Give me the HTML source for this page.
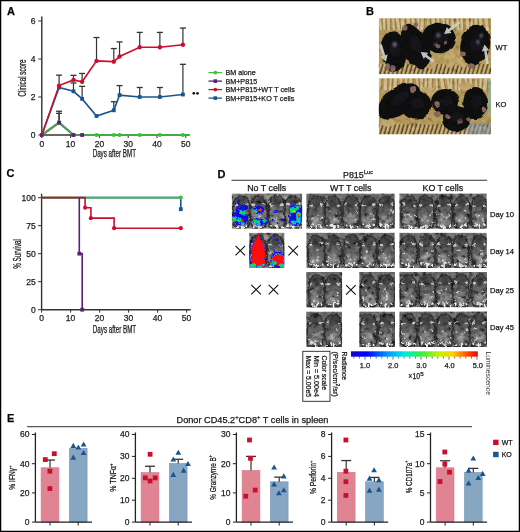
<!DOCTYPE html>
<html><head><meta charset="utf-8"><style>
html,body{margin:0;padding:0;background:#fff;}
body{width:520px;height:532px;overflow:hidden;}
svg{display:block;will-change:transform;}
text{font-family:"Liberation Sans",sans-serif;stroke:#222;stroke-width:0.25px;}
</style></head><body>
<svg width="520" height="532" viewBox="0 0 520 532" font-family="Liberation Sans, sans-serif">
<defs>
<filter id="blur1" x="-20%" y="-20%" width="140%" height="140%"><feGaussianBlur stdDeviation="1"/></filter>
<filter id="noise" x="0" y="0" width="100%" height="100%"><feTurbulence type="fractalNoise" baseFrequency="0.22" numOctaves="2" seed="4"/><feColorMatrix type="matrix" values="0.9 0.9 0.9 0 -0.9  0.9 0.9 0.9 0 -0.9  0.9 0.9 0.9 0 -0.9  0 0 0 0 1"/></filter>
<filter id="blur07" x="-20%" y="-20%" width="140%" height="140%"><feGaussianBlur stdDeviation="0.7"/></filter>
<filter id="blur15" x="-30%" y="-30%" width="160%" height="160%"><feGaussianBlur stdDeviation="1.5"/></filter>
<filter id="blur03" x="-30%" y="-30%" width="160%" height="160%"><feGaussianBlur stdDeviation="0.3"/></filter>
<filter id="wobble" x="-5%" y="-5%" width="110%" height="110%"><feTurbulence type="turbulence" baseFrequency="0.18" numOctaves="2" seed="7" result="t"/><feDisplacementMap in="SourceGraphic" in2="t" scale="3.5" xChannelSelector="R" yChannelSelector="G"/><feGaussianBlur stdDeviation="0.35"/></filter>
<filter id="wobble2" x="-5%" y="-5%" width="110%" height="110%"><feTurbulence type="turbulence" baseFrequency="0.25" numOctaves="2" seed="11" result="t"/><feDisplacementMap in="SourceGraphic" in2="t" scale="3" xChannelSelector="R" yChannelSelector="G"/><feGaussianBlur stdDeviation="0.3"/></filter>
<filter id="wobbleB" x="-5%" y="-5%" width="110%" height="110%"><feTurbulence type="fractalNoise" baseFrequency="0.09" numOctaves="2" seed="5" result="t"/><feDisplacementMap in="SourceGraphic" in2="t" scale="4" xChannelSelector="R" yChannelSelector="G"/><feGaussianBlur stdDeviation="0.6"/></filter>
<filter id="blur05" x="-20%" y="-20%" width="140%" height="140%"><feGaussianBlur stdDeviation="0.5"/></filter>
</defs>
<rect x="0" y="0" width="520" height="532" fill="#fff"/>
<text x="7" y="14.8" font-size="11" text-anchor="start" font-weight="bold" fill="#000" >A</text>
<line x1="41.8" y1="16.5" x2="41.8" y2="135.0" stroke="#333" stroke-width="1.4"/>
<line x1="41.8" y1="135.0" x2="189.832" y2="135.0" stroke="#333" stroke-width="1.4"/>
<line x1="38.3" y1="135.0" x2="41.8" y2="135.0" stroke="#333" stroke-width="1"/>
<text x="35.5" y="137.9" font-size="8.5" text-anchor="end" font-weight="normal" fill="#222" >0</text>
<line x1="38.3" y1="97.0" x2="41.8" y2="97.0" stroke="#333" stroke-width="1"/>
<text x="35.5" y="99.9" font-size="8.5" text-anchor="end" font-weight="normal" fill="#222" >2</text>
<line x1="38.3" y1="59.0" x2="41.8" y2="59.0" stroke="#333" stroke-width="1"/>
<text x="35.5" y="61.9" font-size="8.5" text-anchor="end" font-weight="normal" fill="#222" >4</text>
<line x1="38.3" y1="21.0" x2="41.8" y2="21.0" stroke="#333" stroke-width="1"/>
<text x="35.5" y="23.9" font-size="8.5" text-anchor="end" font-weight="normal" fill="#222" >6</text>
<line x1="41.8" y1="135.0" x2="41.8" y2="138.0" stroke="#333" stroke-width="1"/>
<text x="41.8" y="146.8" font-size="8.5" text-anchor="middle" font-weight="normal" fill="#222" >0</text>
<line x1="70.6" y1="135.0" x2="70.6" y2="138.0" stroke="#333" stroke-width="1"/>
<text x="70.6" y="146.8" font-size="8.5" text-anchor="middle" font-weight="normal" fill="#222" >10</text>
<line x1="99.39999999999999" y1="135.0" x2="99.39999999999999" y2="138.0" stroke="#333" stroke-width="1"/>
<text x="99.39999999999999" y="146.8" font-size="8.5" text-anchor="middle" font-weight="normal" fill="#222" >20</text>
<line x1="128.2" y1="135.0" x2="128.2" y2="138.0" stroke="#333" stroke-width="1"/>
<text x="128.2" y="146.8" font-size="8.5" text-anchor="middle" font-weight="normal" fill="#222" >30</text>
<line x1="157.0" y1="135.0" x2="157.0" y2="138.0" stroke="#333" stroke-width="1"/>
<text x="157.0" y="146.8" font-size="8.5" text-anchor="middle" font-weight="normal" fill="#222" >40</text>
<line x1="185.8" y1="135.0" x2="185.8" y2="138.0" stroke="#333" stroke-width="1"/>
<text x="185.8" y="146.8" font-size="8.5" text-anchor="middle" font-weight="normal" fill="#222" >50</text>
<text x="114.3" y="156.7" font-size="10" text-anchor="middle" font-weight="normal" fill="#111" textLength="43.3" lengthAdjust="spacingAndGlyphs" >Days after BMT</text>
<g transform="translate(26.2,78) rotate(-90)"><text x="0" y="0" font-size="10" text-anchor="middle" font-weight="normal" fill="#111" textLength="37" lengthAdjust="spacingAndGlyphs" >Clinical score</text></g>
<line x1="59.08" y1="85.6" x2="59.08" y2="75.15" stroke="#333" stroke-width="1.2"/><line x1="56.08" y1="75.15" x2="62.08" y2="75.15" stroke="#333" stroke-width="1.3"/>
<line x1="73.47999999999999" y1="79.9" x2="73.47999999999999" y2="75.34" stroke="#333" stroke-width="1.2"/><line x1="70.47999999999999" y1="75.34" x2="76.47999999999999" y2="75.34" stroke="#333" stroke-width="1.3"/>
<line x1="82.12" y1="81.80000000000001" x2="82.12" y2="73.44" stroke="#333" stroke-width="1.2"/><line x1="79.12" y1="73.44" x2="85.12" y2="73.44" stroke="#333" stroke-width="1.3"/>
<line x1="96.52" y1="60.900000000000006" x2="96.52" y2="37.53" stroke="#333" stroke-width="1.2"/><line x1="93.52" y1="37.53" x2="99.52" y2="37.53" stroke="#333" stroke-width="1.3"/>
<line x1="113.8" y1="61.66" x2="113.8" y2="48.55" stroke="#333" stroke-width="1.2"/><line x1="110.8" y1="48.55" x2="116.8" y2="48.55" stroke="#333" stroke-width="1.3"/>
<line x1="119.55999999999999" y1="56.53" x2="119.55999999999999" y2="41.89999999999999" stroke="#333" stroke-width="1.2"/><line x1="116.55999999999999" y1="41.89999999999999" x2="122.55999999999999" y2="41.89999999999999" stroke="#333" stroke-width="1.3"/>
<line x1="139.72" y1="47.22" x2="139.72" y2="32.39999999999999" stroke="#333" stroke-width="1.2"/><line x1="136.72" y1="32.39999999999999" x2="142.72" y2="32.39999999999999" stroke="#333" stroke-width="1.3"/>
<line x1="159.88" y1="47.22" x2="159.88" y2="32.39999999999999" stroke="#333" stroke-width="1.2"/><line x1="156.88" y1="32.39999999999999" x2="162.88" y2="32.39999999999999" stroke="#333" stroke-width="1.3"/>
<line x1="182.92000000000002" y1="44.75" x2="182.92000000000002" y2="28.03" stroke="#333" stroke-width="1.2"/><line x1="179.92000000000002" y1="28.03" x2="185.92000000000002" y2="28.03" stroke="#333" stroke-width="1.3"/>
<line x1="73.47999999999999" y1="91.30000000000001" x2="73.47999999999999" y2="82.94" stroke="#333" stroke-width="1.2"/><line x1="70.47999999999999" y1="82.94" x2="76.47999999999999" y2="82.94" stroke="#333" stroke-width="1.3"/>
<line x1="82.12" y1="98.9" x2="82.12" y2="86.36" stroke="#333" stroke-width="1.2"/><line x1="79.12" y1="86.36" x2="85.12" y2="86.36" stroke="#333" stroke-width="1.3"/>
<line x1="113.8" y1="110.3" x2="113.8" y2="101.75" stroke="#333" stroke-width="1.2"/><line x1="110.8" y1="101.75" x2="116.8" y2="101.75" stroke="#333" stroke-width="1.3"/>
<line x1="119.55999999999999" y1="95.1" x2="119.55999999999999" y2="85.6" stroke="#333" stroke-width="1.2"/><line x1="116.55999999999999" y1="85.6" x2="122.55999999999999" y2="85.6" stroke="#333" stroke-width="1.3"/>
<line x1="139.72" y1="97.0" x2="139.72" y2="87.5" stroke="#333" stroke-width="1.2"/><line x1="136.72" y1="87.5" x2="142.72" y2="87.5" stroke="#333" stroke-width="1.3"/>
<line x1="159.88" y1="97.0" x2="159.88" y2="87.5" stroke="#333" stroke-width="1.2"/><line x1="156.88" y1="87.5" x2="162.88" y2="87.5" stroke="#333" stroke-width="1.3"/>
<line x1="182.92000000000002" y1="94.53" x2="182.92000000000002" y2="64.32" stroke="#333" stroke-width="1.2"/><line x1="179.92000000000002" y1="64.32" x2="185.92000000000002" y2="64.32" stroke="#333" stroke-width="1.3"/>
<line x1="59.08" y1="122.65" x2="59.08" y2="111.25" stroke="#333" stroke-width="1.2"/><line x1="56.08" y1="111.25" x2="62.08" y2="111.25" stroke="#333" stroke-width="1.3"/>
<line x1="59.08" y1="122.65" x2="59.08" y2="113.34" stroke="#333" stroke-width="1.2"/><line x1="56.08" y1="113.34" x2="62.08" y2="113.34" stroke="#333" stroke-width="1.3"/>
<polyline points="41.80,135.00 59.08,122.65 73.48,135.00 82.12,135.00" fill="none" stroke="#5b1f7a" stroke-width="2.2" stroke-opacity="0.9"/>
<polyline points="41.80,135.00 59.08,122.65 73.48,135.00 96.52,135.00 113.80,135.00 119.56,135.00 139.72,135.00 159.88,135.00 182.92,135.00 190.12,135.0" fill="none" stroke="#3cc03c" stroke-width="1.6"/>
<circle cx="41.80" cy="135.00" r="2.1" fill="#3cc03c"/>
<circle cx="59.08" cy="122.65" r="2.1" fill="#3cc03c"/>
<circle cx="73.48" cy="135.00" r="2.1" fill="#3cc03c"/>
<circle cx="96.52" cy="135.00" r="2.1" fill="#3cc03c"/>
<circle cx="113.80" cy="135.00" r="2.1" fill="#3cc03c"/>
<circle cx="119.56" cy="135.00" r="2.1" fill="#3cc03c"/>
<circle cx="139.72" cy="135.00" r="2.1" fill="#3cc03c"/>
<circle cx="159.88" cy="135.00" r="2.1" fill="#3cc03c"/>
<circle cx="182.92" cy="135.00" r="2.1" fill="#3cc03c"/>
<rect x="39.90" y="133.10" width="3.8" height="3.8" fill="#5b1f7a"/>
<rect x="57.18" y="120.75" width="3.8" height="3.8" fill="#5b1f7a"/>
<rect x="71.58" y="133.10" width="3.8" height="3.8" fill="#5b1f7a"/>
<rect x="80.22" y="133.10" width="3.8" height="3.8" fill="#5b1f7a"/>
<polyline points="41.80,135.00 59.08,87.50 73.48,91.30 82.12,98.90 96.52,116.00 113.80,110.30 119.56,95.10 139.72,97.00 159.88,97.00 182.92,94.53" fill="none" stroke="#1a5592" stroke-width="1.6"/>
<rect x="57.18" y="85.60" width="3.8" height="3.8" fill="#1a5592"/>
<rect x="71.58" y="89.40" width="3.8" height="3.8" fill="#1a5592"/>
<rect x="80.22" y="97.00" width="3.8" height="3.8" fill="#1a5592"/>
<rect x="94.62" y="114.10" width="3.8" height="3.8" fill="#1a5592"/>
<rect x="111.90" y="108.40" width="3.8" height="3.8" fill="#1a5592"/>
<rect x="117.66" y="93.20" width="3.8" height="3.8" fill="#1a5592"/>
<rect x="137.82" y="95.10" width="3.8" height="3.8" fill="#1a5592"/>
<rect x="157.98" y="95.10" width="3.8" height="3.8" fill="#1a5592"/>
<rect x="181.02" y="92.63" width="3.8" height="3.8" fill="#1a5592"/>
<polyline points="41.80,135.00 59.08,85.60 73.48,79.90 82.12,81.80 96.52,60.90 113.80,61.66 119.56,56.53 139.72,47.22 159.88,47.22 182.92,44.75" fill="none" stroke="#c8102e" stroke-width="1.6"/>
<circle cx="59.08" cy="85.60" r="2.2" fill="#c8102e"/>
<circle cx="73.48" cy="79.90" r="2.2" fill="#c8102e"/>
<circle cx="82.12" cy="81.80" r="2.2" fill="#c8102e"/>
<circle cx="96.52" cy="60.90" r="2.2" fill="#c8102e"/>
<circle cx="113.80" cy="61.66" r="2.2" fill="#c8102e"/>
<circle cx="119.56" cy="56.53" r="2.2" fill="#c8102e"/>
<circle cx="139.72" cy="47.22" r="2.2" fill="#c8102e"/>
<circle cx="159.88" cy="47.22" r="2.2" fill="#c8102e"/>
<circle cx="182.92" cy="44.75" r="2.2" fill="#c8102e"/>
<circle cx="193.8" cy="93.3" r="1.35" fill="#111"/><circle cx="197.5" cy="93.3" r="1.35" fill="#111"/>
<line x1="208.5" y1="72.6" x2="222" y2="72.6" stroke="#3cc03c" stroke-width="1.3"/>
<circle cx="215.3" cy="72.6" r="1.9" fill="#3cc03c"/>
<text x="225.4" y="75.0" font-size="7.2" text-anchor="start" font-weight="normal" fill="#222" >BM alone</text>
<line x1="208.5" y1="81.1" x2="222" y2="81.1" stroke="#5b1f7a" stroke-width="1.3"/>
<rect x="213.5" y="79.3" width="3.6" height="3.6" fill="#5b1f7a"/>
<text x="225.4" y="83.5" font-size="7.2" text-anchor="start" font-weight="normal" fill="#222" >BM+P815</text>
<line x1="208.5" y1="89.6" x2="222" y2="89.6" stroke="#c8102e" stroke-width="1.3"/>
<circle cx="215.3" cy="89.6" r="1.9" fill="#c8102e"/>
<text x="225.4" y="92.0" font-size="7.2" text-anchor="start" font-weight="normal" fill="#222" >BM+P815+WT T cells</text>
<line x1="208.5" y1="98.1" x2="222" y2="98.1" stroke="#1a5592" stroke-width="1.3"/>
<rect x="213.5" y="96.3" width="3.6" height="3.6" fill="#1a5592"/>
<text x="225.4" y="100.5" font-size="7.2" text-anchor="start" font-weight="normal" fill="#222" >BM+P815+KO T cells</text>
<text x="366" y="14.8" font-size="11" text-anchor="start" font-weight="bold" fill="#000" >B</text>
<clipPath id="cb1"><rect x="378.8" y="18.2" width="112.19999999999999" height="56.0"/></clipPath>
<g clip-path="url(#cb1)">
<rect x="378.8" y="18.2" width="112.19999999999999" height="56.0" fill="#a98c52"/>
<rect x="378.8" y="18.2" width="112.19999999999999" height="13" fill="#ad8f55"/>
<g filter="url(#blur05)">
<line x1="379.8" y1="18.2" x2="380.9" y2="30.2" stroke="#d4c092" stroke-width="2.1" opacity="0.8"/>
<line x1="381.7" y1="18.2" x2="382.9" y2="30.2" stroke="#5a4628" stroke-width="0.9" opacity="0.5"/>
<line x1="384.0" y1="18.2" x2="384.4" y2="30.2" stroke="#d4c092" stroke-width="2.1" opacity="0.8"/>
<line x1="385.9" y1="18.2" x2="386.4" y2="30.2" stroke="#5a4628" stroke-width="0.9" opacity="0.5"/>
<line x1="388.5" y1="18.2" x2="388.8" y2="30.2" stroke="#d4c092" stroke-width="2.5" opacity="0.8"/>
<line x1="390.6" y1="18.2" x2="390.9" y2="30.2" stroke="#5a4628" stroke-width="0.9" opacity="0.5"/>
<line x1="393.0" y1="18.2" x2="394.2" y2="30.2" stroke="#d4c092" stroke-width="2.2" opacity="0.8"/>
<line x1="394.9" y1="18.2" x2="396.2" y2="30.2" stroke="#5a4628" stroke-width="0.9" opacity="0.5"/>
<line x1="397.2" y1="18.2" x2="398.9" y2="30.2" stroke="#d4c092" stroke-width="2.7" opacity="0.8"/>
<line x1="399.5" y1="18.2" x2="401.1" y2="30.2" stroke="#5a4628" stroke-width="0.9" opacity="0.5"/>
<line x1="403.0" y1="18.2" x2="402.4" y2="30.2" stroke="#d4c092" stroke-width="3.1" opacity="0.8"/>
<line x1="405.4" y1="18.2" x2="404.9" y2="30.2" stroke="#5a4628" stroke-width="0.9" opacity="0.5"/>
<line x1="408.1" y1="18.2" x2="408.9" y2="30.2" stroke="#d4c092" stroke-width="2.8" opacity="0.8"/>
<line x1="410.4" y1="18.2" x2="411.2" y2="30.2" stroke="#5a4628" stroke-width="0.9" opacity="0.5"/>
<line x1="412.8" y1="18.2" x2="414.8" y2="30.2" stroke="#d4c092" stroke-width="2.7" opacity="0.8"/>
<line x1="415.1" y1="18.2" x2="417.1" y2="30.2" stroke="#5a4628" stroke-width="0.9" opacity="0.5"/>
<line x1="418.5" y1="18.2" x2="418.2" y2="30.2" stroke="#d4c092" stroke-width="2.1" opacity="0.8"/>
<line x1="420.4" y1="18.2" x2="420.1" y2="30.2" stroke="#5a4628" stroke-width="0.9" opacity="0.5"/>
<line x1="422.2" y1="18.2" x2="421.6" y2="30.2" stroke="#d4c092" stroke-width="3.2" opacity="0.8"/>
<line x1="424.7" y1="18.2" x2="424.1" y2="30.2" stroke="#5a4628" stroke-width="0.9" opacity="0.5"/>
<line x1="428.1" y1="18.2" x2="429.0" y2="30.2" stroke="#d4c092" stroke-width="2.6" opacity="0.8"/>
<line x1="430.3" y1="18.2" x2="431.2" y2="30.2" stroke="#5a4628" stroke-width="0.9" opacity="0.5"/>
<line x1="433.1" y1="18.2" x2="434.0" y2="30.2" stroke="#d4c092" stroke-width="3.0" opacity="0.8"/>
<line x1="435.5" y1="18.2" x2="436.4" y2="30.2" stroke="#5a4628" stroke-width="0.9" opacity="0.5"/>
<line x1="438.2" y1="18.2" x2="438.6" y2="30.2" stroke="#d4c092" stroke-width="2.0" opacity="0.8"/>
<line x1="440.1" y1="18.2" x2="440.5" y2="30.2" stroke="#5a4628" stroke-width="0.9" opacity="0.5"/>
<line x1="443.2" y1="18.2" x2="444.4" y2="30.2" stroke="#d4c092" stroke-width="2.0" opacity="0.8"/>
<line x1="445.1" y1="18.2" x2="446.3" y2="30.2" stroke="#5a4628" stroke-width="0.9" opacity="0.5"/>
<line x1="447.8" y1="18.2" x2="447.2" y2="30.2" stroke="#d4c092" stroke-width="2.0" opacity="0.8"/>
<line x1="449.7" y1="18.2" x2="449.1" y2="30.2" stroke="#5a4628" stroke-width="0.9" opacity="0.5"/>
<line x1="452.5" y1="18.2" x2="452.7" y2="30.2" stroke="#d4c092" stroke-width="2.4" opacity="0.8"/>
<line x1="454.7" y1="18.2" x2="454.8" y2="30.2" stroke="#5a4628" stroke-width="0.9" opacity="0.5"/>
<line x1="457.3" y1="18.2" x2="458.6" y2="30.2" stroke="#d4c092" stroke-width="1.9" opacity="0.8"/>
<line x1="459.2" y1="18.2" x2="460.5" y2="30.2" stroke="#5a4628" stroke-width="0.9" opacity="0.5"/>
<line x1="461.8" y1="18.2" x2="461.7" y2="30.2" stroke="#d4c092" stroke-width="2.5" opacity="0.8"/>
<line x1="464.0" y1="18.2" x2="463.8" y2="30.2" stroke="#5a4628" stroke-width="0.9" opacity="0.5"/>
<line x1="467.3" y1="18.2" x2="467.9" y2="30.2" stroke="#d4c092" stroke-width="3.0" opacity="0.8"/>
<line x1="469.6" y1="18.2" x2="470.3" y2="30.2" stroke="#5a4628" stroke-width="0.9" opacity="0.5"/>
<line x1="472.0" y1="18.2" x2="471.1" y2="30.2" stroke="#d4c092" stroke-width="2.0" opacity="0.8"/>
<line x1="473.9" y1="18.2" x2="473.0" y2="30.2" stroke="#5a4628" stroke-width="0.9" opacity="0.5"/>
<line x1="475.7" y1="18.2" x2="476.4" y2="30.2" stroke="#d4c092" stroke-width="2.7" opacity="0.8"/>
<line x1="477.9" y1="18.2" x2="478.6" y2="30.2" stroke="#5a4628" stroke-width="0.9" opacity="0.5"/>
<line x1="480.3" y1="18.2" x2="481.3" y2="30.2" stroke="#d4c092" stroke-width="3.1" opacity="0.8"/>
<line x1="482.8" y1="18.2" x2="483.8" y2="30.2" stroke="#5a4628" stroke-width="0.9" opacity="0.5"/>
<line x1="486.3" y1="18.2" x2="487.5" y2="30.2" stroke="#d4c092" stroke-width="2.9" opacity="0.8"/>
<line x1="488.6" y1="18.2" x2="489.9" y2="30.2" stroke="#5a4628" stroke-width="0.9" opacity="0.5"/>
<line x1="378.8" y1="64.2" x2="375.8" y2="74.2" stroke="#2e2618" stroke-width="1.2" opacity="0.75"/>
<line x1="380.8" y1="64.2" x2="377.8" y2="74.2" stroke="#e0cc98" stroke-width="1" opacity="0.6"/>
<line x1="383.0" y1="64.2" x2="380.0" y2="74.2" stroke="#2e2618" stroke-width="1.2" opacity="0.75"/>
<line x1="385.0" y1="64.2" x2="382.0" y2="74.2" stroke="#e0cc98" stroke-width="1" opacity="0.6"/>
<line x1="387.2" y1="64.2" x2="384.2" y2="74.2" stroke="#2e2618" stroke-width="1.2" opacity="0.75"/>
<line x1="389.2" y1="64.2" x2="386.2" y2="74.2" stroke="#e0cc98" stroke-width="1" opacity="0.6"/>
<line x1="391.40000000000003" y1="64.2" x2="388.40000000000003" y2="74.2" stroke="#2e2618" stroke-width="1.2" opacity="0.75"/>
<line x1="393.40000000000003" y1="64.2" x2="390.40000000000003" y2="74.2" stroke="#e0cc98" stroke-width="1" opacity="0.6"/>
<line x1="395.6" y1="64.2" x2="392.6" y2="74.2" stroke="#2e2618" stroke-width="1.2" opacity="0.75"/>
<line x1="397.6" y1="64.2" x2="394.6" y2="74.2" stroke="#e0cc98" stroke-width="1" opacity="0.6"/>
<line x1="399.8" y1="64.2" x2="396.8" y2="74.2" stroke="#2e2618" stroke-width="1.2" opacity="0.75"/>
<line x1="401.8" y1="64.2" x2="398.8" y2="74.2" stroke="#e0cc98" stroke-width="1" opacity="0.6"/>
<line x1="404.0" y1="64.2" x2="401.0" y2="74.2" stroke="#2e2618" stroke-width="1.2" opacity="0.75"/>
<line x1="406.0" y1="64.2" x2="403.0" y2="74.2" stroke="#e0cc98" stroke-width="1" opacity="0.6"/>
<line x1="408.2" y1="64.2" x2="405.2" y2="74.2" stroke="#2e2618" stroke-width="1.2" opacity="0.75"/>
<line x1="410.2" y1="64.2" x2="407.2" y2="74.2" stroke="#e0cc98" stroke-width="1" opacity="0.6"/>
<line x1="412.40000000000003" y1="64.2" x2="409.40000000000003" y2="74.2" stroke="#2e2618" stroke-width="1.2" opacity="0.75"/>
<line x1="414.40000000000003" y1="64.2" x2="411.40000000000003" y2="74.2" stroke="#e0cc98" stroke-width="1" opacity="0.6"/>
<line x1="416.6" y1="64.2" x2="413.6" y2="74.2" stroke="#2e2618" stroke-width="1.2" opacity="0.75"/>
<line x1="418.6" y1="64.2" x2="415.6" y2="74.2" stroke="#e0cc98" stroke-width="1" opacity="0.6"/>
<line x1="420.8" y1="64.2" x2="417.8" y2="74.2" stroke="#2e2618" stroke-width="1.2" opacity="0.75"/>
<line x1="422.8" y1="64.2" x2="419.8" y2="74.2" stroke="#e0cc98" stroke-width="1" opacity="0.6"/>
<line x1="425.0" y1="64.2" x2="422.0" y2="74.2" stroke="#2e2618" stroke-width="1.2" opacity="0.75"/>
<line x1="427.0" y1="64.2" x2="424.0" y2="74.2" stroke="#e0cc98" stroke-width="1" opacity="0.6"/>
<line x1="429.20000000000005" y1="64.2" x2="426.20000000000005" y2="74.2" stroke="#2e2618" stroke-width="1.2" opacity="0.75"/>
<line x1="431.20000000000005" y1="64.2" x2="428.20000000000005" y2="74.2" stroke="#e0cc98" stroke-width="1" opacity="0.6"/>
<line x1="433.40000000000003" y1="64.2" x2="430.40000000000003" y2="74.2" stroke="#2e2618" stroke-width="1.2" opacity="0.75"/>
<line x1="435.40000000000003" y1="64.2" x2="432.40000000000003" y2="74.2" stroke="#e0cc98" stroke-width="1" opacity="0.6"/>
<line x1="437.6" y1="64.2" x2="434.6" y2="74.2" stroke="#2e2618" stroke-width="1.2" opacity="0.75"/>
<line x1="439.6" y1="64.2" x2="436.6" y2="74.2" stroke="#e0cc98" stroke-width="1" opacity="0.6"/>
<line x1="441.8" y1="64.2" x2="438.8" y2="74.2" stroke="#2e2618" stroke-width="1.2" opacity="0.75"/>
<line x1="443.8" y1="64.2" x2="440.8" y2="74.2" stroke="#e0cc98" stroke-width="1" opacity="0.6"/>
<line x1="446.0" y1="64.2" x2="443.0" y2="74.2" stroke="#2e2618" stroke-width="1.2" opacity="0.75"/>
<line x1="448.0" y1="64.2" x2="445.0" y2="74.2" stroke="#e0cc98" stroke-width="1" opacity="0.6"/>
<line x1="450.20000000000005" y1="64.2" x2="447.20000000000005" y2="74.2" stroke="#2e2618" stroke-width="1.2" opacity="0.75"/>
<line x1="452.20000000000005" y1="64.2" x2="449.20000000000005" y2="74.2" stroke="#e0cc98" stroke-width="1" opacity="0.6"/>
<line x1="454.40000000000003" y1="64.2" x2="451.40000000000003" y2="74.2" stroke="#2e2618" stroke-width="1.2" opacity="0.75"/>
<line x1="456.40000000000003" y1="64.2" x2="453.40000000000003" y2="74.2" stroke="#e0cc98" stroke-width="1" opacity="0.6"/>
<line x1="458.6" y1="64.2" x2="455.6" y2="74.2" stroke="#2e2618" stroke-width="1.2" opacity="0.75"/>
<line x1="460.6" y1="64.2" x2="457.6" y2="74.2" stroke="#e0cc98" stroke-width="1" opacity="0.6"/>
<line x1="462.8" y1="64.2" x2="459.8" y2="74.2" stroke="#2e2618" stroke-width="1.2" opacity="0.75"/>
<line x1="464.8" y1="64.2" x2="461.8" y2="74.2" stroke="#e0cc98" stroke-width="1" opacity="0.6"/>
<line x1="467.0" y1="64.2" x2="464.0" y2="74.2" stroke="#2e2618" stroke-width="1.2" opacity="0.75"/>
<line x1="469.0" y1="64.2" x2="466.0" y2="74.2" stroke="#e0cc98" stroke-width="1" opacity="0.6"/>
<line x1="471.20000000000005" y1="64.2" x2="468.20000000000005" y2="74.2" stroke="#2e2618" stroke-width="1.2" opacity="0.75"/>
<line x1="473.20000000000005" y1="64.2" x2="470.20000000000005" y2="74.2" stroke="#e0cc98" stroke-width="1" opacity="0.6"/>
<line x1="475.40000000000003" y1="64.2" x2="472.40000000000003" y2="74.2" stroke="#2e2618" stroke-width="1.2" opacity="0.75"/>
<line x1="477.40000000000003" y1="64.2" x2="474.40000000000003" y2="74.2" stroke="#e0cc98" stroke-width="1" opacity="0.6"/>
<line x1="479.6" y1="64.2" x2="476.6" y2="74.2" stroke="#2e2618" stroke-width="1.2" opacity="0.75"/>
<line x1="481.6" y1="64.2" x2="478.6" y2="74.2" stroke="#e0cc98" stroke-width="1" opacity="0.6"/>
<line x1="483.8" y1="64.2" x2="480.8" y2="74.2" stroke="#2e2618" stroke-width="1.2" opacity="0.75"/>
<line x1="485.8" y1="64.2" x2="482.8" y2="74.2" stroke="#e0cc98" stroke-width="1" opacity="0.6"/>
<line x1="488.0" y1="64.2" x2="485.0" y2="74.2" stroke="#2e2618" stroke-width="1.2" opacity="0.75"/>
<line x1="490.0" y1="64.2" x2="487.0" y2="74.2" stroke="#e0cc98" stroke-width="1" opacity="0.6"/>
<line x1="492.20000000000005" y1="64.2" x2="489.20000000000005" y2="74.2" stroke="#2e2618" stroke-width="1.2" opacity="0.75"/>
<line x1="494.20000000000005" y1="64.2" x2="491.20000000000005" y2="74.2" stroke="#e0cc98" stroke-width="1" opacity="0.6"/>
<line x1="496.40000000000003" y1="64.2" x2="493.40000000000003" y2="74.2" stroke="#2e2618" stroke-width="1.2" opacity="0.75"/>
<line x1="498.40000000000003" y1="64.2" x2="495.40000000000003" y2="74.2" stroke="#e0cc98" stroke-width="1" opacity="0.6"/>
<line x1="500.6" y1="64.2" x2="497.6" y2="74.2" stroke="#2e2618" stroke-width="1.2" opacity="0.75"/>
<line x1="502.6" y1="64.2" x2="499.6" y2="74.2" stroke="#e0cc98" stroke-width="1" opacity="0.6"/>
<ellipse cx="450" cy="58" rx="6" ry="10" transform="rotate(0 450 58)" fill="#b89a62"/>
<ellipse cx="462" cy="60" rx="6" ry="8" transform="rotate(-20 462 60)" fill="#b89a62"/>
<ellipse cx="431" cy="62" rx="5" ry="7" transform="rotate(0 431 62)" fill="#b89a62"/>
</g>

<g filter="url(#wobbleB)">
<ellipse cx="394" cy="51.5" rx="12.5" ry="20.2" transform="rotate(-5 394 51.5)" fill="#0e0d10"/>
<ellipse cx="415.5" cy="47" rx="13" ry="23.5" transform="rotate(-22 415.5 47)" fill="#0e0d10"/>
<ellipse cx="439" cy="38" rx="17" ry="15" transform="rotate(18 439 38)" fill="#0e0d10"/>
<ellipse cx="475.2" cy="45" rx="14.8" ry="20.5" transform="rotate(12 475.2 45)" fill="#0e0d10"/>
<circle cx="387.2" cy="66.4" r="3.12" fill="#765a52"/>
<circle cx="393.5" cy="68" r="3.12" fill="#765a52"/>
<circle cx="405" cy="29" r="2.64" fill="#765a52"/>
<circle cx="416" cy="25" r="2.40" fill="#765a52"/>
<circle cx="438" cy="46" r="2.40" fill="#765a52"/>
<circle cx="446" cy="43" r="2.16" fill="#765a52"/>
<circle cx="463" cy="54" r="2.64" fill="#765a52"/>
<circle cx="472" cy="66" r="2.64" fill="#765a52"/>
</g>
<g filter="url(#blur1)">
<ellipse cx="395.2" cy="49.5" rx="5.6" ry="8.1" transform="rotate(-5 394 51.5)" fill="#1c1b22" opacity="0.45"/>
<ellipse cx="416.8" cy="44.6" rx="5.9" ry="9.4" transform="rotate(-22 415.5 47)" fill="#1c1b22" opacity="0.45"/>
<ellipse cx="440.7" cy="36.5" rx="7.7" ry="6.0" transform="rotate(18 439 38)" fill="#1c1b22" opacity="0.45"/>
<ellipse cx="476.7" cy="43.0" rx="6.7" ry="8.2" transform="rotate(12 475.2 45)" fill="#1c1b22" opacity="0.45"/>
<ellipse cx="394.7" cy="44.5" rx="1.54" ry="2.2" fill="#8a8aa0" opacity="0.8"/>
<ellipse cx="438.3" cy="35.3" rx="1.26" ry="1.8" fill="#8a8aa0" opacity="0.8"/>
<ellipse cx="435.5" cy="44.5" rx="1.1199999999999999" ry="1.6" fill="#8a8aa0" opacity="0.8"/>
<ellipse cx="481.6" cy="35.3" rx="1.26" ry="1.8" fill="#8a8aa0" opacity="0.8"/>
<ellipse cx="478" cy="42.2" rx="1.1199999999999999" ry="1.6" fill="#8a8aa0" opacity="0.8"/>
</g>
<rect x="378.8" y="18.2" width="112.19999999999999" height="56.0" fill="#808080" filter="url(#noise)" opacity="0.22" style="mix-blend-mode:overlay"/>
<polygon points="0,-1.3 11.65323662601245,-1.3 11.65323662601245,-3.8 18.15323662601245,0 11.65323662601245,3.8 11.65323662601245,1.3 0,1.3" fill="#cfcfcf" opacity="0.92" transform="translate(380.5,44.5) rotate(72.4)"/>
<polygon points="0,-1.3 9.24102919125683,-1.3 9.24102919125683,-3.8 15.74102919125683,0 9.24102919125683,3.8 9.24102919125683,1.3 0,1.3" fill="#cfcfcf" opacity="0.92" transform="translate(433.4,61.3) rotate(-143.8)"/>
<polygon points="0,-1.3 13.242593547961196,-1.3 13.242593547961196,-3.8 19.742593547961196,0 13.242593547961196,3.8 13.242593547961196,1.3 0,1.3" fill="#cfcfcf" opacity="0.92" transform="translate(459.7,22) rotate(142.2)"/>
<polygon points="0,-1.3 13.313379318026485,-1.3 13.313379318026485,-3.8 19.813379318026485,0 13.313379318026485,3.8 13.313379318026485,1.3 0,1.3" fill="#cfcfcf" opacity="0.92" transform="translate(487.4,64.1) rotate(-98.4)"/>
</g>
<clipPath id="cb2"><rect x="378.8" y="78.3" width="112.19999999999999" height="56.10000000000001"/></clipPath>
<g clip-path="url(#cb2)">
<rect x="378.8" y="78.3" width="112.19999999999999" height="56.10000000000001" fill="#a98c52"/>
<rect x="378.8" y="78.3" width="112.19999999999999" height="13" fill="#ad8f55"/>
<g filter="url(#blur05)">
<line x1="379.8" y1="78.3" x2="378.7" y2="90.3" stroke="#d4c092" stroke-width="2.9" opacity="0.8"/>
<line x1="382.2" y1="78.3" x2="381.1" y2="90.3" stroke="#5a4628" stroke-width="0.9" opacity="0.5"/>
<line x1="385.8" y1="78.3" x2="385.3" y2="90.3" stroke="#d4c092" stroke-width="2.8" opacity="0.8"/>
<line x1="388.1" y1="78.3" x2="387.7" y2="90.3" stroke="#5a4628" stroke-width="0.9" opacity="0.5"/>
<line x1="390.9" y1="78.3" x2="390.0" y2="90.3" stroke="#d4c092" stroke-width="1.8" opacity="0.8"/>
<line x1="392.7" y1="78.3" x2="391.8" y2="90.3" stroke="#5a4628" stroke-width="0.9" opacity="0.5"/>
<line x1="395.4" y1="78.3" x2="394.7" y2="90.3" stroke="#d4c092" stroke-width="2.9" opacity="0.8"/>
<line x1="397.8" y1="78.3" x2="397.0" y2="90.3" stroke="#5a4628" stroke-width="0.9" opacity="0.5"/>
<line x1="401.0" y1="78.3" x2="401.7" y2="90.3" stroke="#d4c092" stroke-width="2.3" opacity="0.8"/>
<line x1="403.1" y1="78.3" x2="403.8" y2="90.3" stroke="#5a4628" stroke-width="0.9" opacity="0.5"/>
<line x1="406.3" y1="78.3" x2="405.5" y2="90.3" stroke="#d4c092" stroke-width="2.1" opacity="0.8"/>
<line x1="408.2" y1="78.3" x2="407.4" y2="90.3" stroke="#5a4628" stroke-width="0.9" opacity="0.5"/>
<line x1="410.7" y1="78.3" x2="410.8" y2="90.3" stroke="#d4c092" stroke-width="3.2" opacity="0.8"/>
<line x1="413.2" y1="78.3" x2="413.3" y2="90.3" stroke="#5a4628" stroke-width="0.9" opacity="0.5"/>
<line x1="416.8" y1="78.3" x2="418.3" y2="90.3" stroke="#d4c092" stroke-width="2.0" opacity="0.8"/>
<line x1="418.7" y1="78.3" x2="420.2" y2="90.3" stroke="#5a4628" stroke-width="0.9" opacity="0.5"/>
<line x1="421.8" y1="78.3" x2="421.1" y2="90.3" stroke="#d4c092" stroke-width="2.3" opacity="0.8"/>
<line x1="423.9" y1="78.3" x2="423.2" y2="90.3" stroke="#5a4628" stroke-width="0.9" opacity="0.5"/>
<line x1="425.9" y1="78.3" x2="425.6" y2="90.3" stroke="#d4c092" stroke-width="2.0" opacity="0.8"/>
<line x1="427.8" y1="78.3" x2="427.5" y2="90.3" stroke="#5a4628" stroke-width="0.9" opacity="0.5"/>
<line x1="430.4" y1="78.3" x2="430.0" y2="90.3" stroke="#d4c092" stroke-width="3.0" opacity="0.8"/>
<line x1="432.9" y1="78.3" x2="432.4" y2="90.3" stroke="#5a4628" stroke-width="0.9" opacity="0.5"/>
<line x1="436.6" y1="78.3" x2="437.1" y2="90.3" stroke="#d4c092" stroke-width="2.0" opacity="0.8"/>
<line x1="438.5" y1="78.3" x2="439.0" y2="90.3" stroke="#5a4628" stroke-width="0.9" opacity="0.5"/>
<line x1="441.4" y1="78.3" x2="443.5" y2="90.3" stroke="#d4c092" stroke-width="3.1" opacity="0.8"/>
<line x1="443.8" y1="78.3" x2="446.0" y2="90.3" stroke="#5a4628" stroke-width="0.9" opacity="0.5"/>
<line x1="447.6" y1="78.3" x2="449.5" y2="90.3" stroke="#d4c092" stroke-width="1.9" opacity="0.8"/>
<line x1="449.4" y1="78.3" x2="451.4" y2="90.3" stroke="#5a4628" stroke-width="0.9" opacity="0.5"/>
<line x1="451.1" y1="78.3" x2="451.1" y2="90.3" stroke="#d4c092" stroke-width="2.4" opacity="0.8"/>
<line x1="453.2" y1="78.3" x2="453.2" y2="90.3" stroke="#5a4628" stroke-width="0.9" opacity="0.5"/>
<line x1="455.8" y1="78.3" x2="456.0" y2="90.3" stroke="#d4c092" stroke-width="1.9" opacity="0.8"/>
<line x1="457.7" y1="78.3" x2="457.8" y2="90.3" stroke="#5a4628" stroke-width="0.9" opacity="0.5"/>
<line x1="460.4" y1="78.3" x2="459.0" y2="90.3" stroke="#d4c092" stroke-width="2.7" opacity="0.8"/>
<line x1="462.7" y1="78.3" x2="461.2" y2="90.3" stroke="#5a4628" stroke-width="0.9" opacity="0.5"/>
<line x1="466.0" y1="78.3" x2="466.7" y2="90.3" stroke="#d4c092" stroke-width="2.2" opacity="0.8"/>
<line x1="468.1" y1="78.3" x2="468.7" y2="90.3" stroke="#5a4628" stroke-width="0.9" opacity="0.5"/>
<line x1="470.4" y1="78.3" x2="470.9" y2="90.3" stroke="#d4c092" stroke-width="2.7" opacity="0.8"/>
<line x1="472.6" y1="78.3" x2="473.2" y2="90.3" stroke="#5a4628" stroke-width="0.9" opacity="0.5"/>
<line x1="476.1" y1="78.3" x2="476.2" y2="90.3" stroke="#d4c092" stroke-width="1.9" opacity="0.8"/>
<line x1="477.9" y1="78.3" x2="478.0" y2="90.3" stroke="#5a4628" stroke-width="0.9" opacity="0.5"/>
<line x1="481.2" y1="78.3" x2="480.1" y2="90.3" stroke="#d4c092" stroke-width="1.8" opacity="0.8"/>
<line x1="483.0" y1="78.3" x2="481.9" y2="90.3" stroke="#5a4628" stroke-width="0.9" opacity="0.5"/>
<line x1="485.7" y1="78.3" x2="484.6" y2="90.3" stroke="#d4c092" stroke-width="3.2" opacity="0.8"/>
<line x1="488.2" y1="78.3" x2="487.1" y2="90.3" stroke="#5a4628" stroke-width="0.9" opacity="0.5"/>
<line x1="490.8" y1="78.3" x2="491.4" y2="90.3" stroke="#d4c092" stroke-width="2.8" opacity="0.8"/>
<line x1="493.1" y1="78.3" x2="493.7" y2="90.3" stroke="#5a4628" stroke-width="0.9" opacity="0.5"/>
<line x1="378.8" y1="124.4" x2="375.8" y2="134.4" stroke="#2e2618" stroke-width="1.2" opacity="0.75"/>
<line x1="380.8" y1="124.4" x2="377.8" y2="134.4" stroke="#e0cc98" stroke-width="1" opacity="0.6"/>
<line x1="383.0" y1="124.4" x2="380.0" y2="134.4" stroke="#2e2618" stroke-width="1.2" opacity="0.75"/>
<line x1="385.0" y1="124.4" x2="382.0" y2="134.4" stroke="#e0cc98" stroke-width="1" opacity="0.6"/>
<line x1="387.2" y1="124.4" x2="384.2" y2="134.4" stroke="#2e2618" stroke-width="1.2" opacity="0.75"/>
<line x1="389.2" y1="124.4" x2="386.2" y2="134.4" stroke="#e0cc98" stroke-width="1" opacity="0.6"/>
<line x1="391.40000000000003" y1="124.4" x2="388.40000000000003" y2="134.4" stroke="#2e2618" stroke-width="1.2" opacity="0.75"/>
<line x1="393.40000000000003" y1="124.4" x2="390.40000000000003" y2="134.4" stroke="#e0cc98" stroke-width="1" opacity="0.6"/>
<line x1="395.6" y1="124.4" x2="392.6" y2="134.4" stroke="#2e2618" stroke-width="1.2" opacity="0.75"/>
<line x1="397.6" y1="124.4" x2="394.6" y2="134.4" stroke="#e0cc98" stroke-width="1" opacity="0.6"/>
<line x1="399.8" y1="124.4" x2="396.8" y2="134.4" stroke="#2e2618" stroke-width="1.2" opacity="0.75"/>
<line x1="401.8" y1="124.4" x2="398.8" y2="134.4" stroke="#e0cc98" stroke-width="1" opacity="0.6"/>
<line x1="404.0" y1="124.4" x2="401.0" y2="134.4" stroke="#2e2618" stroke-width="1.2" opacity="0.75"/>
<line x1="406.0" y1="124.4" x2="403.0" y2="134.4" stroke="#e0cc98" stroke-width="1" opacity="0.6"/>
<line x1="408.2" y1="124.4" x2="405.2" y2="134.4" stroke="#2e2618" stroke-width="1.2" opacity="0.75"/>
<line x1="410.2" y1="124.4" x2="407.2" y2="134.4" stroke="#e0cc98" stroke-width="1" opacity="0.6"/>
<line x1="412.40000000000003" y1="124.4" x2="409.40000000000003" y2="134.4" stroke="#2e2618" stroke-width="1.2" opacity="0.75"/>
<line x1="414.40000000000003" y1="124.4" x2="411.40000000000003" y2="134.4" stroke="#e0cc98" stroke-width="1" opacity="0.6"/>
<line x1="416.6" y1="124.4" x2="413.6" y2="134.4" stroke="#2e2618" stroke-width="1.2" opacity="0.75"/>
<line x1="418.6" y1="124.4" x2="415.6" y2="134.4" stroke="#e0cc98" stroke-width="1" opacity="0.6"/>
<line x1="420.8" y1="124.4" x2="417.8" y2="134.4" stroke="#2e2618" stroke-width="1.2" opacity="0.75"/>
<line x1="422.8" y1="124.4" x2="419.8" y2="134.4" stroke="#e0cc98" stroke-width="1" opacity="0.6"/>
<line x1="425.0" y1="124.4" x2="422.0" y2="134.4" stroke="#2e2618" stroke-width="1.2" opacity="0.75"/>
<line x1="427.0" y1="124.4" x2="424.0" y2="134.4" stroke="#e0cc98" stroke-width="1" opacity="0.6"/>
<line x1="429.20000000000005" y1="124.4" x2="426.20000000000005" y2="134.4" stroke="#2e2618" stroke-width="1.2" opacity="0.75"/>
<line x1="431.20000000000005" y1="124.4" x2="428.20000000000005" y2="134.4" stroke="#e0cc98" stroke-width="1" opacity="0.6"/>
<line x1="433.40000000000003" y1="124.4" x2="430.40000000000003" y2="134.4" stroke="#2e2618" stroke-width="1.2" opacity="0.75"/>
<line x1="435.40000000000003" y1="124.4" x2="432.40000000000003" y2="134.4" stroke="#e0cc98" stroke-width="1" opacity="0.6"/>
<line x1="437.6" y1="124.4" x2="434.6" y2="134.4" stroke="#2e2618" stroke-width="1.2" opacity="0.75"/>
<line x1="439.6" y1="124.4" x2="436.6" y2="134.4" stroke="#e0cc98" stroke-width="1" opacity="0.6"/>
<line x1="441.8" y1="124.4" x2="438.8" y2="134.4" stroke="#2e2618" stroke-width="1.2" opacity="0.75"/>
<line x1="443.8" y1="124.4" x2="440.8" y2="134.4" stroke="#e0cc98" stroke-width="1" opacity="0.6"/>
<line x1="446.0" y1="124.4" x2="443.0" y2="134.4" stroke="#2e2618" stroke-width="1.2" opacity="0.75"/>
<line x1="448.0" y1="124.4" x2="445.0" y2="134.4" stroke="#e0cc98" stroke-width="1" opacity="0.6"/>
<line x1="450.20000000000005" y1="124.4" x2="447.20000000000005" y2="134.4" stroke="#2e2618" stroke-width="1.2" opacity="0.75"/>
<line x1="452.20000000000005" y1="124.4" x2="449.20000000000005" y2="134.4" stroke="#e0cc98" stroke-width="1" opacity="0.6"/>
<line x1="454.40000000000003" y1="124.4" x2="451.40000000000003" y2="134.4" stroke="#2e2618" stroke-width="1.2" opacity="0.75"/>
<line x1="456.40000000000003" y1="124.4" x2="453.40000000000003" y2="134.4" stroke="#e0cc98" stroke-width="1" opacity="0.6"/>
<line x1="458.6" y1="124.4" x2="455.6" y2="134.4" stroke="#2e2618" stroke-width="1.2" opacity="0.75"/>
<line x1="460.6" y1="124.4" x2="457.6" y2="134.4" stroke="#e0cc98" stroke-width="1" opacity="0.6"/>
<line x1="462.8" y1="124.4" x2="459.8" y2="134.4" stroke="#2e2618" stroke-width="1.2" opacity="0.75"/>
<line x1="464.8" y1="124.4" x2="461.8" y2="134.4" stroke="#e0cc98" stroke-width="1" opacity="0.6"/>
<line x1="467.0" y1="124.4" x2="464.0" y2="134.4" stroke="#2e2618" stroke-width="1.2" opacity="0.75"/>
<line x1="469.0" y1="124.4" x2="466.0" y2="134.4" stroke="#e0cc98" stroke-width="1" opacity="0.6"/>
<line x1="471.20000000000005" y1="124.4" x2="468.20000000000005" y2="134.4" stroke="#2e2618" stroke-width="1.2" opacity="0.75"/>
<line x1="473.20000000000005" y1="124.4" x2="470.20000000000005" y2="134.4" stroke="#e0cc98" stroke-width="1" opacity="0.6"/>
<line x1="475.40000000000003" y1="124.4" x2="472.40000000000003" y2="134.4" stroke="#2e2618" stroke-width="1.2" opacity="0.75"/>
<line x1="477.40000000000003" y1="124.4" x2="474.40000000000003" y2="134.4" stroke="#e0cc98" stroke-width="1" opacity="0.6"/>
<line x1="479.6" y1="124.4" x2="476.6" y2="134.4" stroke="#2e2618" stroke-width="1.2" opacity="0.75"/>
<line x1="481.6" y1="124.4" x2="478.6" y2="134.4" stroke="#e0cc98" stroke-width="1" opacity="0.6"/>
<line x1="483.8" y1="124.4" x2="480.8" y2="134.4" stroke="#2e2618" stroke-width="1.2" opacity="0.75"/>
<line x1="485.8" y1="124.4" x2="482.8" y2="134.4" stroke="#e0cc98" stroke-width="1" opacity="0.6"/>
<line x1="488.0" y1="124.4" x2="485.0" y2="134.4" stroke="#2e2618" stroke-width="1.2" opacity="0.75"/>
<line x1="490.0" y1="124.4" x2="487.0" y2="134.4" stroke="#e0cc98" stroke-width="1" opacity="0.6"/>
<line x1="492.20000000000005" y1="124.4" x2="489.20000000000005" y2="134.4" stroke="#2e2618" stroke-width="1.2" opacity="0.75"/>
<line x1="494.20000000000005" y1="124.4" x2="491.20000000000005" y2="134.4" stroke="#e0cc98" stroke-width="1" opacity="0.6"/>
<line x1="496.40000000000003" y1="124.4" x2="493.40000000000003" y2="134.4" stroke="#2e2618" stroke-width="1.2" opacity="0.75"/>
<line x1="498.40000000000003" y1="124.4" x2="495.40000000000003" y2="134.4" stroke="#e0cc98" stroke-width="1" opacity="0.6"/>
<line x1="500.6" y1="124.4" x2="497.6" y2="134.4" stroke="#2e2618" stroke-width="1.2" opacity="0.75"/>
<line x1="502.6" y1="124.4" x2="499.6" y2="134.4" stroke="#e0cc98" stroke-width="1" opacity="0.6"/>
<ellipse cx="427" cy="92" rx="10" ry="5" transform="rotate(0 427 92)" fill="#b89a62"/>
<ellipse cx="466" cy="86" rx="7" ry="4" transform="rotate(0 466 86)" fill="#b89a62"/>
<ellipse cx="388" cy="122" rx="7" ry="5" transform="rotate(0 388 122)" fill="#b89a62"/>
</g>
<rect x="468" y="124" width="23" height="10" fill="#7d8ea4" opacity="0.6"/><rect x="488.3" y="80" width="2.7" height="35" fill="#7fa890" opacity="0.8"/>
<g filter="url(#wobbleB)">
<ellipse cx="399" cy="101" rx="24" ry="13.5" transform="rotate(-35 399 101)" fill="#0e0d10"/>
<ellipse cx="416" cy="105" rx="15.5" ry="14.5" transform="rotate(0 416 105)" fill="#0e0d10"/>
<ellipse cx="445" cy="102" rx="14" ry="13" transform="rotate(0 445 102)" fill="#0e0d10"/>
<ellipse cx="456" cy="118.6" rx="14" ry="12.8" transform="rotate(0 456 118.6)" fill="#0e0d10"/>
<ellipse cx="475.6" cy="103" rx="12.4" ry="16" transform="rotate(0 475.6 103)" fill="#0e0d10"/>
<circle cx="413" cy="89" r="3.00" fill="#765a52"/>
<circle cx="436" cy="104" r="2.76" fill="#765a52"/>
<circle cx="437" cy="114" r="2.76" fill="#765a52"/>
<circle cx="447" cy="117" r="2.76" fill="#765a52"/>
<circle cx="460" cy="121" r="2.76" fill="#765a52"/>
<circle cx="484" cy="110" r="2.40" fill="#765a52"/>
<circle cx="469" cy="119" r="2.40" fill="#765a52"/>
</g>
<g filter="url(#blur1)">
<ellipse cx="401.4" cy="99.7" rx="10.8" ry="5.4" transform="rotate(-35 399 101)" fill="#1c1b22" opacity="0.45"/>
<ellipse cx="417.6" cy="103.5" rx="7.0" ry="5.8" transform="rotate(0 416 105)" fill="#1c1b22" opacity="0.45"/>
<ellipse cx="446.4" cy="100.7" rx="6.3" ry="5.2" transform="rotate(0 445 102)" fill="#1c1b22" opacity="0.45"/>
<ellipse cx="457.4" cy="117.3" rx="6.3" ry="5.1" transform="rotate(0 456 118.6)" fill="#1c1b22" opacity="0.45"/>
<ellipse cx="476.8" cy="101.4" rx="5.6" ry="6.4" transform="rotate(0 475.6 103)" fill="#1c1b22" opacity="0.45"/>
</g>
<rect x="378.8" y="78.3" width="112.19999999999999" height="56.10000000000001" fill="#808080" filter="url(#noise)" opacity="0.22" style="mix-blend-mode:overlay"/>
</g>
<text x="495.5" y="50" font-size="7.6" text-anchor="start" font-weight="normal" fill="#111" >WT</text>
<text x="495.5" y="107.2" font-size="7.6" text-anchor="start" font-weight="normal" fill="#111" >KO</text>
<text x="6.5" y="177.4" font-size="11" text-anchor="start" font-weight="bold" fill="#000" >C</text>
<line x1="41.6" y1="193.7" x2="41.6" y2="309.7" stroke="#333" stroke-width="1.4"/>
<line x1="41.6" y1="309.7" x2="190.7" y2="309.7" stroke="#333" stroke-width="1.4"/>
<line x1="38.1" y1="309.7" x2="41.6" y2="309.7" stroke="#333" stroke-width="1"/>
<text x="35.7" y="312.59999999999997" font-size="8.5" text-anchor="end" font-weight="normal" fill="#222" >0</text>
<line x1="38.1" y1="281.68" x2="41.6" y2="281.68" stroke="#333" stroke-width="1"/>
<text x="35.7" y="284.58" font-size="8.5" text-anchor="end" font-weight="normal" fill="#222" >25</text>
<line x1="38.1" y1="253.66" x2="41.6" y2="253.66" stroke="#333" stroke-width="1"/>
<text x="35.7" y="256.56" font-size="8.5" text-anchor="end" font-weight="normal" fill="#222" >50</text>
<line x1="38.1" y1="225.64" x2="41.6" y2="225.64" stroke="#333" stroke-width="1"/>
<text x="35.7" y="228.54" font-size="8.5" text-anchor="end" font-weight="normal" fill="#222" >75</text>
<line x1="38.1" y1="197.62" x2="41.6" y2="197.62" stroke="#333" stroke-width="1"/>
<text x="35.7" y="200.52" font-size="8.5" text-anchor="end" font-weight="normal" fill="#222" >100</text>
<line x1="41.6" y1="309.7" x2="41.6" y2="312.7" stroke="#333" stroke-width="1"/>
<text x="41.6" y="320.5" font-size="8.5" text-anchor="middle" font-weight="normal" fill="#222" >0</text>
<line x1="70.6" y1="309.7" x2="70.6" y2="312.7" stroke="#333" stroke-width="1"/>
<text x="70.6" y="320.5" font-size="8.5" text-anchor="middle" font-weight="normal" fill="#222" >10</text>
<line x1="99.6" y1="309.7" x2="99.6" y2="312.7" stroke="#333" stroke-width="1"/>
<text x="99.6" y="320.5" font-size="8.5" text-anchor="middle" font-weight="normal" fill="#222" >20</text>
<line x1="128.6" y1="309.7" x2="128.6" y2="312.7" stroke="#333" stroke-width="1"/>
<text x="128.6" y="320.5" font-size="8.5" text-anchor="middle" font-weight="normal" fill="#222" >30</text>
<line x1="157.6" y1="309.7" x2="157.6" y2="312.7" stroke="#333" stroke-width="1"/>
<text x="157.6" y="320.5" font-size="8.5" text-anchor="middle" font-weight="normal" fill="#222" >40</text>
<line x1="186.6" y1="309.7" x2="186.6" y2="312.7" stroke="#333" stroke-width="1"/>
<text x="186.6" y="320.5" font-size="8.5" text-anchor="middle" font-weight="normal" fill="#222" >50</text>
<text x="114.5" y="333" font-size="10" text-anchor="middle" font-weight="normal" fill="#111" textLength="43.3" lengthAdjust="spacingAndGlyphs" >Days after BMT</text>
<g transform="translate(21.3,253.9) rotate(-90)"><text x="0" y="0" font-size="10" text-anchor="middle" font-weight="normal" fill="#111" textLength="29.6" lengthAdjust="spacingAndGlyphs" >% Survival</text></g>
<path d="M41.6,197.62 H180.79999999999998 V209.16423999999998" fill="none" stroke="#1a5592" stroke-width="1.6"/>
<rect x="178.89999999999998" y="207.26423999999997" width="3.8" height="3.8" fill="#1a5592"/>
<path d="M41.6,197.62 H180.79999999999998" fill="none" stroke="#3cc03c" stroke-width="1.6"/>
<circle cx="180.79999999999998" cy="197.62" r="2.1" fill="#3cc03c"/>
<path d="M41.60,197.62 H85.10 V207.71 H90.90 V218.13 H114.10 V228.22 H180.80 V228.22" fill="none" stroke="#c8102e" stroke-width="1.6"/>
<circle cx="85.10" cy="207.71" r="2.1" fill="#c8102e"/>
<circle cx="90.90" cy="218.13" r="2.1" fill="#c8102e"/>
<circle cx="114.10" cy="228.22" r="2.1" fill="#c8102e"/>
<circle cx="180.80" cy="228.22" r="2.1" fill="#c8102e"/>
<path d="M79.30,197.62 V253.66 H82.20 V309.70" fill="none" stroke="#5b1f7a" stroke-width="1.6"/>
<rect x="77.40" y="251.76" width="3.8" height="3.8" fill="#5b1f7a"/>
<rect x="80.30" y="307.80" width="3.8" height="3.8" fill="#5b1f7a"/>
<text x="217.5" y="177.5" font-size="11" text-anchor="start" font-weight="bold" fill="#000" >D</text>
<text x="343" y="177.5" font-size="8.9" text-anchor="start" font-weight="normal" fill="#111" >P815</text><text x="364" y="174.3" font-size="5.6" text-anchor="start" font-weight="normal" fill="#111" >Luc</text>
<line x1="231.5" y1="180.3" x2="487.2" y2="180.3" stroke="#333" stroke-width="1.1"/>
<text x="266.7" y="190.5" font-size="8.9" text-anchor="middle" font-weight="normal" fill="#111" >No T cells</text>
<text x="350.8" y="190.5" font-size="8.9" text-anchor="middle" font-weight="normal" fill="#111" >WT T cells</text>
<text x="442.8" y="190.5" font-size="8.9" text-anchor="middle" font-weight="normal" fill="#111" >KO T cells</text>
<clipPath id="cd1"><rect x="231.8" y="193.4" width="70.39999999999998" height="35.400000000000006"/></clipPath>
<g clip-path="url(#cd1)">
<rect x="231.8" y="193.4" width="70.39999999999998" height="35.400000000000006" fill="#666"/>
<g filter="url(#wobble)">
<path d="M238.51,195.52 C234.55,196.94 232.35,202.25 232.35,211.10 C232.09,219.95 233.23,227.03 236.75,227.74 L244.67,227.74 C248.19,227.03 249.34,219.95 249.07,211.10 C249.07,202.25 246.87,196.94 242.91,195.52 Z" fill="#5a5a5a" stroke="#262626" stroke-width="1.9" filter="url(#blur07)"/>
<ellipse cx="240.71" cy="201.19" rx="5.28" ry="5.66" fill="#363636" filter="url(#blur1)"/>
<ellipse cx="240.57" cy="218.89" rx="5.28" ry="5.31" fill="#6c6c6c" filter="url(#blur15)"/>
<ellipse cx="235.43" cy="204.19" rx="1.8" ry="1.1" fill="#b0b0b0" filter="url(#blur05)"/>
<ellipse cx="245.99" cy="203.40" rx="1.8" ry="1.1" fill="#b0b0b0" filter="url(#blur05)"/>
<line x1="240.71" y1="193.4" x2="240.71" y2="197.4" stroke="#dcdcdc" stroke-width="1.8" filter="url(#blur05)"/>
<circle cx="236.06" cy="226.18" r="1.13" fill="#e4e4e4" filter="url(#blur03)"/>
<circle cx="238.27" cy="225.12" r="0.96" fill="#e4e4e4" filter="url(#blur03)"/>
<circle cx="241.97" cy="226.63" r="1.30" fill="#e4e4e4" filter="url(#blur03)"/>
<circle cx="245.08" cy="226.31" r="1.10" fill="#e4e4e4" filter="url(#blur03)"/>
<line x1="240.71" y1="223.8" x2="240.71" y2="228.8" stroke="#f0f0f0" stroke-width="1.3"/>
<circle cx="239.13" cy="213.85" r="0.90" fill="#c8c8c8" opacity="0.85" filter="url(#blur03)"/>
<circle cx="240.14" cy="220.26" r="0.90" fill="#c8c8c8" opacity="0.85" filter="url(#blur03)"/>
<circle cx="235.80" cy="221.56" r="1.09" fill="#c8c8c8" opacity="0.85" filter="url(#blur03)"/>
<circle cx="246.99" cy="219.10" r="0.53" fill="#c8c8c8" opacity="0.85" filter="url(#blur03)"/>
<circle cx="234.08" cy="211.46" r="1.06" fill="#c8c8c8" opacity="0.85" filter="url(#blur03)"/>
<circle cx="238.08" cy="215.16" r="1.04" fill="#c8c8c8" opacity="0.85" filter="url(#blur03)"/>
<path d="M255.70,195.52 C251.74,196.94 249.54,202.25 249.54,211.10 C249.28,219.95 250.42,227.03 253.94,227.74 L261.86,227.74 C265.38,227.03 266.53,219.95 266.26,211.10 C266.26,202.25 264.06,196.94 260.10,195.52 Z" fill="#5a5a5a" stroke="#262626" stroke-width="1.9" filter="url(#blur07)"/>
<ellipse cx="257.90" cy="201.19" rx="5.28" ry="5.66" fill="#363636" filter="url(#blur1)"/>
<ellipse cx="258.00" cy="218.89" rx="5.28" ry="5.31" fill="#6c6c6c" filter="url(#blur15)"/>
<ellipse cx="252.62" cy="203.88" rx="1.8" ry="1.1" fill="#b0b0b0" filter="url(#blur05)"/>
<ellipse cx="263.18" cy="203.10" rx="1.8" ry="1.1" fill="#b0b0b0" filter="url(#blur05)"/>
<line x1="257.90" y1="193.4" x2="257.90" y2="197.4" stroke="#dcdcdc" stroke-width="1.8" filter="url(#blur05)"/>
<circle cx="252.79" cy="226.25" r="0.88" fill="#e4e4e4" filter="url(#blur03)"/>
<circle cx="255.59" cy="224.75" r="0.82" fill="#e4e4e4" filter="url(#blur03)"/>
<circle cx="259.66" cy="226.16" r="1.13" fill="#e4e4e4" filter="url(#blur03)"/>
<circle cx="263.25" cy="226.29" r="0.87" fill="#e4e4e4" filter="url(#blur03)"/>
<line x1="257.90" y1="223.8" x2="257.90" y2="228.8" stroke="#f0f0f0" stroke-width="1.3"/>
<circle cx="258.80" cy="215.29" r="0.86" fill="#c8c8c8" opacity="0.85" filter="url(#blur03)"/>
<circle cx="252.73" cy="221.68" r="0.56" fill="#c8c8c8" opacity="0.85" filter="url(#blur03)"/>
<circle cx="253.44" cy="222.19" r="1.07" fill="#c8c8c8" opacity="0.85" filter="url(#blur03)"/>
<circle cx="257.01" cy="215.93" r="0.65" fill="#c8c8c8" opacity="0.85" filter="url(#blur03)"/>
<circle cx="254.89" cy="219.16" r="0.61" fill="#c8c8c8" opacity="0.85" filter="url(#blur03)"/>
<circle cx="252.81" cy="216.59" r="0.60" fill="#c8c8c8" opacity="0.85" filter="url(#blur03)"/>
<path d="M273.84,195.52 C269.88,196.94 267.68,202.25 267.68,211.10 C267.41,219.95 268.56,227.03 272.08,227.74 L280.00,227.74 C283.52,227.03 284.66,219.95 284.40,211.10 C284.40,202.25 282.20,196.94 278.24,195.52 Z" fill="#5a5a5a" stroke="#262626" stroke-width="1.9" filter="url(#blur07)"/>
<ellipse cx="276.04" cy="201.19" rx="5.28" ry="5.66" fill="#363636" filter="url(#blur1)"/>
<ellipse cx="276.68" cy="218.89" rx="5.28" ry="5.31" fill="#6c6c6c" filter="url(#blur15)"/>
<ellipse cx="270.76" cy="204.61" rx="1.8" ry="1.1" fill="#b0b0b0" filter="url(#blur05)"/>
<ellipse cx="281.32" cy="203.98" rx="1.8" ry="1.1" fill="#b0b0b0" filter="url(#blur05)"/>
<line x1="276.04" y1="193.4" x2="276.04" y2="197.4" stroke="#dcdcdc" stroke-width="1.8" filter="url(#blur05)"/>
<circle cx="270.45" cy="224.82" r="0.80" fill="#e4e4e4" filter="url(#blur03)"/>
<circle cx="274.70" cy="224.46" r="0.96" fill="#e4e4e4" filter="url(#blur03)"/>
<circle cx="276.96" cy="224.87" r="1.09" fill="#e4e4e4" filter="url(#blur03)"/>
<circle cx="281.10" cy="226.34" r="1.14" fill="#e4e4e4" filter="url(#blur03)"/>
<line x1="276.04" y1="223.8" x2="276.04" y2="228.8" stroke="#f0f0f0" stroke-width="1.3"/>
<circle cx="272.58" cy="217.70" r="1.05" fill="#c8c8c8" opacity="0.85" filter="url(#blur03)"/>
<circle cx="276.31" cy="218.92" r="0.54" fill="#c8c8c8" opacity="0.85" filter="url(#blur03)"/>
<circle cx="275.90" cy="216.68" r="0.74" fill="#c8c8c8" opacity="0.85" filter="url(#blur03)"/>
<circle cx="274.97" cy="218.65" r="0.82" fill="#c8c8c8" opacity="0.85" filter="url(#blur03)"/>
<circle cx="275.90" cy="211.97" r="0.76" fill="#c8c8c8" opacity="0.85" filter="url(#blur03)"/>
<circle cx="282.31" cy="215.94" r="0.52" fill="#c8c8c8" opacity="0.85" filter="url(#blur03)"/>
<path d="M290.40,195.52 C286.44,196.94 284.24,202.25 284.24,211.10 C283.98,219.95 285.12,227.03 288.64,227.74 L296.56,227.74 C300.08,227.03 301.23,219.95 300.96,211.10 C300.96,202.25 298.76,196.94 294.80,195.52 Z" fill="#5a5a5a" stroke="#262626" stroke-width="1.9" filter="url(#blur07)"/>
<ellipse cx="292.60" cy="201.19" rx="5.28" ry="5.66" fill="#363636" filter="url(#blur1)"/>
<ellipse cx="292.68" cy="218.89" rx="5.28" ry="5.31" fill="#6c6c6c" filter="url(#blur15)"/>
<ellipse cx="287.32" cy="203.07" rx="1.8" ry="1.1" fill="#b0b0b0" filter="url(#blur05)"/>
<ellipse cx="297.88" cy="203.15" rx="1.8" ry="1.1" fill="#b0b0b0" filter="url(#blur05)"/>
<line x1="292.60" y1="193.4" x2="292.60" y2="197.4" stroke="#dcdcdc" stroke-width="1.8" filter="url(#blur05)"/>
<circle cx="286.54" cy="224.89" r="1.30" fill="#e4e4e4" filter="url(#blur03)"/>
<circle cx="290.81" cy="224.91" r="1.02" fill="#e4e4e4" filter="url(#blur03)"/>
<circle cx="294.37" cy="224.86" r="1.16" fill="#e4e4e4" filter="url(#blur03)"/>
<circle cx="298.68" cy="225.74" r="1.01" fill="#e4e4e4" filter="url(#blur03)"/>
<line x1="292.60" y1="223.8" x2="292.60" y2="228.8" stroke="#f0f0f0" stroke-width="1.3"/>
<circle cx="294.60" cy="223.82" r="0.59" fill="#c8c8c8" opacity="0.85" filter="url(#blur03)"/>
<circle cx="289.09" cy="219.19" r="0.91" fill="#c8c8c8" opacity="0.85" filter="url(#blur03)"/>
<circle cx="294.51" cy="218.71" r="1.00" fill="#c8c8c8" opacity="0.85" filter="url(#blur03)"/>
<circle cx="292.32" cy="222.19" r="1.08" fill="#c8c8c8" opacity="0.85" filter="url(#blur03)"/>
<circle cx="291.74" cy="223.01" r="0.93" fill="#c8c8c8" opacity="0.85" filter="url(#blur03)"/>
<circle cx="297.80" cy="210.07" r="1.05" fill="#c8c8c8" opacity="0.85" filter="url(#blur03)"/>
</g>
<rect x="231.8" y="193.4" width="70.39999999999998" height="35.400000000000006" fill="#808080" filter="url(#noise)" opacity="0.55" style="mix-blend-mode:overlay"/>
<g filter="url(#wobble2)"><g filter="url(#blur05)"><ellipse cx="240" cy="210" rx="5.5" ry="5" fill="#1010e0"/><ellipse cx="236" cy="217" rx="4" ry="5" fill="#1010e0"/><ellipse cx="242" cy="217" rx="5.5" ry="6" fill="#1010e0"/><ellipse cx="240" cy="222" rx="6" ry="2.5" fill="#1010e0"/><ellipse cx="237.4" cy="201.4" rx="1.2" ry="1.6" fill="#1010e0"/><ellipse cx="245" cy="207" rx="2.5" ry="2.5" fill="#1010e0"/><ellipse cx="240.2" cy="211" rx="2.5" ry="2.3" fill="#00b0ff"/><ellipse cx="240.2" cy="211" rx="1.6" ry="1.4" fill="#20e030"/><ellipse cx="234" cy="218.5" rx="2.5" ry="2.2" fill="#00b0ff"/><ellipse cx="234" cy="218.5" rx="1.6" ry="1.3" fill="#20e030"/><ellipse cx="238.5" cy="220" rx="2.7" ry="2.4" fill="#00b0ff"/><ellipse cx="238.5" cy="220" rx="1.8" ry="1.5" fill="#20e030"/><ellipse cx="243" cy="212" rx="2.3" ry="2.1" fill="#00b0ff"/><ellipse cx="243" cy="212" rx="1.4" ry="1.2" fill="#20e030"/><ellipse cx="242" cy="223" rx="2.1" ry="1.9" fill="#00b0ff"/><ellipse cx="242" cy="223" rx="1.2" ry="1" fill="#20e030"/><ellipse cx="244.2" cy="214.8" rx="1.5" ry="1.2" fill="#ff1010"/><ellipse cx="241.5" cy="219.5" rx="1" ry="1.8" fill="#ff1010"/><ellipse cx="258" cy="209" rx="5.2" ry="4.2" fill="#1010e0"/><ellipse cx="258.5" cy="221" rx="7" ry="3.5" fill="#1010e0"/><ellipse cx="265.6" cy="220" rx="2" ry="3" fill="#1010e0"/><ellipse cx="254.5" cy="210.5" rx="2.4" ry="2.1" fill="#00b0ff"/><ellipse cx="254.5" cy="210.5" rx="1.5" ry="1.2" fill="#20e030"/><ellipse cx="254.5" cy="221" rx="2.1" ry="2.9" fill="#00b0ff"/><ellipse cx="254.5" cy="221" rx="1.2" ry="2" fill="#20e030"/><ellipse cx="258" cy="221.5" rx="2.1" ry="2.7" fill="#00b0ff"/><ellipse cx="258" cy="221.5" rx="1.2" ry="1.8" fill="#20e030"/><ellipse cx="263.5" cy="220" rx="2.5" ry="2.1" fill="#00b0ff"/><ellipse cx="263.5" cy="220" rx="1.6" ry="1.2" fill="#20e030"/><ellipse cx="259.6" cy="209.4" rx="1.5" ry="1.4" fill="#ff4000"/><ellipse cx="259.6" cy="209.4" rx="0.8" ry="0.8" fill="#ff1010"/><ellipse cx="266" cy="219.5" rx="1" ry="1" fill="#ff1010"/><ellipse cx="275.3" cy="210.9" rx="2.6" ry="1" fill="#1010e0"/><ellipse cx="271.4" cy="219.1" rx="1.6" ry="1.3" fill="#1010e0"/><ellipse cx="276.7" cy="222" rx="1" ry="1.1" fill="#1010e0"/><ellipse cx="281.4" cy="219.1" rx="1" ry="1.5" fill="#1010e0"/><ellipse cx="294" cy="210" rx="6" ry="6" fill="#1010e0"/><ellipse cx="294.5" cy="219" rx="6.5" ry="6" fill="#1010e0"/><ellipse cx="299" cy="214" rx="3" ry="6" fill="#1010e0"/><ellipse cx="291.4" cy="203" rx="1.2" ry="1.5" fill="#5030d0"/><ellipse cx="288" cy="206.5" rx="1" ry="1" fill="#5030d0"/><ellipse cx="287.8" cy="215" rx="1.2" ry="1.2" fill="#1010e0"/><ellipse cx="292.2" cy="210" rx="3.6999999999999997" ry="3.3" fill="#00b0ff"/><ellipse cx="292.2" cy="210" rx="2.8" ry="2.4" fill="#20e030"/><ellipse cx="296" cy="207" rx="2.4" ry="2.1" fill="#00b0ff"/><ellipse cx="296" cy="207" rx="1.5" ry="1.2" fill="#20e030"/><ellipse cx="297.5" cy="220" rx="2.4" ry="3.1" fill="#00b0ff"/><ellipse cx="297.5" cy="220" rx="1.5" ry="2.2" fill="#20e030"/><ellipse cx="293" cy="221.5" rx="2.9" ry="2.1" fill="#00b0ff"/><ellipse cx="293" cy="221.5" rx="2" ry="1.2" fill="#20e030"/><ellipse cx="298" cy="215" rx="2.9" ry="3.3" fill="#00b0ff"/><ellipse cx="298" cy="215" rx="2" ry="2.4" fill="#20e030"/><ellipse cx="292.8" cy="211.5" rx="1.6" ry="1.4" fill="#f0f000"/><ellipse cx="292.8" cy="212" rx="1.1" ry="1" fill="#ff1010"/><ellipse cx="298.1" cy="215.4" rx="1" ry="1.3" fill="#ff1010"/></g></g>
</g>
<clipPath id="cd2"><rect x="306.3" y="193.4" width="88.5" height="35.400000000000006"/></clipPath>
<g clip-path="url(#cd2)">
<rect x="306.3" y="193.4" width="88.5" height="35.400000000000006" fill="#575757"/>
<g filter="url(#wobble)">
<path d="M312.97,195.52 C308.99,196.94 306.78,202.25 306.78,211.10 C306.51,219.95 307.66,227.03 311.20,227.74 L319.17,227.74 C322.71,227.03 323.86,219.95 323.59,211.10 C323.59,202.25 321.38,196.94 317.40,195.52 Z" fill="#4c4c4c" stroke="#262626" stroke-width="1.9" filter="url(#blur07)"/>
<ellipse cx="315.19" cy="201.19" rx="5.31" ry="5.66" fill="#363636" filter="url(#blur1)"/>
<ellipse cx="315.80" cy="218.89" rx="5.31" ry="5.31" fill="#6c6c6c" filter="url(#blur15)"/>
<ellipse cx="309.88" cy="205.00" rx="1.8" ry="1.1" fill="#b0b0b0" filter="url(#blur05)"/>
<ellipse cx="320.50" cy="203.57" rx="1.8" ry="1.1" fill="#b0b0b0" filter="url(#blur05)"/>
<line x1="315.19" y1="193.4" x2="315.19" y2="197.4" stroke="#dcdcdc" stroke-width="1.8" filter="url(#blur05)"/>
<circle cx="310.41" cy="225.76" r="1.13" fill="#e4e4e4" filter="url(#blur03)"/>
<circle cx="312.64" cy="223.39" r="0.99" fill="#e4e4e4" filter="url(#blur03)"/>
<circle cx="317.45" cy="224.18" r="1.05" fill="#e4e4e4" filter="url(#blur03)"/>
<circle cx="320.13" cy="226.26" r="1.27" fill="#e4e4e4" filter="url(#blur03)"/>
<line x1="315.19" y1="223.8" x2="315.19" y2="228.8" stroke="#f0f0f0" stroke-width="1.3"/>
<circle cx="313.86" cy="225.24" r="0.54" fill="#c8c8c8" opacity="0.85" filter="url(#blur03)"/>
<circle cx="319.39" cy="223.27" r="0.59" fill="#c8c8c8" opacity="0.85" filter="url(#blur03)"/>
<circle cx="317.95" cy="218.23" r="1.07" fill="#c8c8c8" opacity="0.85" filter="url(#blur03)"/>
<circle cx="311.28" cy="217.93" r="1.03" fill="#c8c8c8" opacity="0.85" filter="url(#blur03)"/>
<circle cx="317.05" cy="214.26" r="0.55" fill="#c8c8c8" opacity="0.85" filter="url(#blur03)"/>
<circle cx="321.10" cy="216.88" r="1.10" fill="#c8c8c8" opacity="0.85" filter="url(#blur03)"/>
<path d="M330.06,195.52 C326.08,196.94 323.87,202.25 323.87,211.10 C323.60,219.95 324.75,227.03 328.29,227.74 L336.26,227.74 C339.80,227.03 340.95,219.95 340.68,211.10 C340.68,202.25 338.47,196.94 334.49,195.52 Z" fill="#4c4c4c" stroke="#262626" stroke-width="1.9" filter="url(#blur07)"/>
<ellipse cx="332.28" cy="201.19" rx="5.31" ry="5.66" fill="#363636" filter="url(#blur1)"/>
<ellipse cx="332.90" cy="218.89" rx="5.31" ry="5.31" fill="#6c6c6c" filter="url(#blur15)"/>
<ellipse cx="326.97" cy="204.69" rx="1.8" ry="1.1" fill="#b0b0b0" filter="url(#blur05)"/>
<ellipse cx="337.59" cy="204.91" rx="1.8" ry="1.1" fill="#b0b0b0" filter="url(#blur05)"/>
<line x1="332.28" y1="193.4" x2="332.28" y2="197.4" stroke="#dcdcdc" stroke-width="1.8" filter="url(#blur05)"/>
<circle cx="326.00" cy="224.60" r="0.83" fill="#e4e4e4" filter="url(#blur03)"/>
<circle cx="331.01" cy="224.54" r="1.28" fill="#e4e4e4" filter="url(#blur03)"/>
<circle cx="333.80" cy="226.01" r="1.23" fill="#e4e4e4" filter="url(#blur03)"/>
<circle cx="337.06" cy="225.25" r="1.28" fill="#e4e4e4" filter="url(#blur03)"/>
<line x1="332.28" y1="223.8" x2="332.28" y2="228.8" stroke="#f0f0f0" stroke-width="1.3"/>
<circle cx="332.64" cy="215.06" r="0.66" fill="#c8c8c8" opacity="0.85" filter="url(#blur03)"/>
<circle cx="336.13" cy="212.40" r="0.86" fill="#c8c8c8" opacity="0.85" filter="url(#blur03)"/>
<circle cx="333.02" cy="218.15" r="0.58" fill="#c8c8c8" opacity="0.85" filter="url(#blur03)"/>
<circle cx="334.41" cy="223.93" r="0.69" fill="#c8c8c8" opacity="0.85" filter="url(#blur03)"/>
<circle cx="330.02" cy="223.81" r="0.85" fill="#c8c8c8" opacity="0.85" filter="url(#blur03)"/>
<circle cx="329.22" cy="209.49" r="0.95" fill="#c8c8c8" opacity="0.85" filter="url(#blur03)"/>
<path d="M348.09,195.52 C344.11,196.94 341.90,202.25 341.90,211.10 C341.63,219.95 342.78,227.03 346.32,227.74 L354.29,227.74 C357.83,227.03 358.98,219.95 358.71,211.10 C358.71,202.25 356.50,196.94 352.52,195.52 Z" fill="#4c4c4c" stroke="#262626" stroke-width="1.9" filter="url(#blur07)"/>
<ellipse cx="350.31" cy="201.19" rx="5.31" ry="5.66" fill="#363636" filter="url(#blur1)"/>
<ellipse cx="350.24" cy="218.89" rx="5.31" ry="5.31" fill="#6c6c6c" filter="url(#blur15)"/>
<ellipse cx="345.00" cy="203.54" rx="1.8" ry="1.1" fill="#b0b0b0" filter="url(#blur05)"/>
<ellipse cx="355.62" cy="204.30" rx="1.8" ry="1.1" fill="#b0b0b0" filter="url(#blur05)"/>
<line x1="350.31" y1="193.4" x2="350.31" y2="197.4" stroke="#dcdcdc" stroke-width="1.8" filter="url(#blur05)"/>
<circle cx="345.45" cy="224.38" r="0.84" fill="#e4e4e4" filter="url(#blur03)"/>
<circle cx="349.51" cy="226.49" r="0.81" fill="#e4e4e4" filter="url(#blur03)"/>
<circle cx="352.21" cy="225.70" r="1.00" fill="#e4e4e4" filter="url(#blur03)"/>
<circle cx="356.08" cy="226.66" r="1.10" fill="#e4e4e4" filter="url(#blur03)"/>
<line x1="350.31" y1="223.8" x2="350.31" y2="228.8" stroke="#f0f0f0" stroke-width="1.3"/>
<circle cx="348.85" cy="212.45" r="0.65" fill="#c8c8c8" opacity="0.85" filter="url(#blur03)"/>
<circle cx="345.61" cy="211.09" r="0.63" fill="#c8c8c8" opacity="0.85" filter="url(#blur03)"/>
<circle cx="354.91" cy="217.88" r="0.98" fill="#c8c8c8" opacity="0.85" filter="url(#blur03)"/>
<circle cx="355.96" cy="222.25" r="0.53" fill="#c8c8c8" opacity="0.85" filter="url(#blur03)"/>
<circle cx="356.04" cy="210.81" r="0.96" fill="#c8c8c8" opacity="0.85" filter="url(#blur03)"/>
<circle cx="354.87" cy="219.80" r="0.74" fill="#c8c8c8" opacity="0.85" filter="url(#blur03)"/>
<path d="M365.36,195.52 C361.38,196.94 359.16,202.25 359.16,211.10 C358.90,219.95 360.05,227.03 363.59,227.74 L371.55,227.74 C375.09,227.03 376.24,219.95 375.98,211.10 C375.98,202.25 373.77,196.94 369.78,195.52 Z" fill="#4c4c4c" stroke="#262626" stroke-width="1.9" filter="url(#blur07)"/>
<ellipse cx="367.57" cy="201.19" rx="5.31" ry="5.66" fill="#363636" filter="url(#blur1)"/>
<ellipse cx="366.74" cy="218.89" rx="5.31" ry="5.31" fill="#6c6c6c" filter="url(#blur15)"/>
<ellipse cx="362.26" cy="204.31" rx="1.8" ry="1.1" fill="#b0b0b0" filter="url(#blur05)"/>
<ellipse cx="372.88" cy="203.47" rx="1.8" ry="1.1" fill="#b0b0b0" filter="url(#blur05)"/>
<line x1="367.57" y1="193.4" x2="367.57" y2="197.4" stroke="#dcdcdc" stroke-width="1.8" filter="url(#blur05)"/>
<circle cx="362.32" cy="224.23" r="0.88" fill="#e4e4e4" filter="url(#blur03)"/>
<circle cx="365.39" cy="225.84" r="1.04" fill="#e4e4e4" filter="url(#blur03)"/>
<circle cx="369.13" cy="225.00" r="1.08" fill="#e4e4e4" filter="url(#blur03)"/>
<circle cx="372.91" cy="224.86" r="1.28" fill="#e4e4e4" filter="url(#blur03)"/>
<line x1="367.57" y1="223.8" x2="367.57" y2="228.8" stroke="#f0f0f0" stroke-width="1.3"/>
<circle cx="370.96" cy="212.98" r="0.69" fill="#c8c8c8" opacity="0.85" filter="url(#blur03)"/>
<circle cx="363.38" cy="215.13" r="0.52" fill="#c8c8c8" opacity="0.85" filter="url(#blur03)"/>
<circle cx="370.86" cy="218.38" r="0.75" fill="#c8c8c8" opacity="0.85" filter="url(#blur03)"/>
<circle cx="372.86" cy="214.57" r="0.85" fill="#c8c8c8" opacity="0.85" filter="url(#blur03)"/>
<circle cx="373.35" cy="218.18" r="0.87" fill="#c8c8c8" opacity="0.85" filter="url(#blur03)"/>
<circle cx="365.79" cy="225.23" r="0.95" fill="#c8c8c8" opacity="0.85" filter="url(#blur03)"/>
<path d="M383.42,195.52 C379.44,196.94 377.23,202.25 377.23,211.10 C376.96,219.95 378.11,227.03 381.65,227.74 L389.62,227.74 C393.16,227.03 394.31,219.95 394.04,211.10 C394.04,202.25 391.83,196.94 387.85,195.52 Z" fill="#4c4c4c" stroke="#262626" stroke-width="1.9" filter="url(#blur07)"/>
<ellipse cx="385.64" cy="201.19" rx="5.31" ry="5.66" fill="#363636" filter="url(#blur1)"/>
<ellipse cx="385.35" cy="218.89" rx="5.31" ry="5.31" fill="#6c6c6c" filter="url(#blur15)"/>
<ellipse cx="380.33" cy="204.21" rx="1.8" ry="1.1" fill="#b0b0b0" filter="url(#blur05)"/>
<ellipse cx="390.95" cy="204.06" rx="1.8" ry="1.1" fill="#b0b0b0" filter="url(#blur05)"/>
<line x1="385.64" y1="193.4" x2="385.64" y2="197.4" stroke="#dcdcdc" stroke-width="1.8" filter="url(#blur05)"/>
<circle cx="380.37" cy="223.97" r="1.09" fill="#e4e4e4" filter="url(#blur03)"/>
<circle cx="384.27" cy="225.98" r="1.02" fill="#e4e4e4" filter="url(#blur03)"/>
<circle cx="387.30" cy="225.06" r="1.07" fill="#e4e4e4" filter="url(#blur03)"/>
<circle cx="390.90" cy="223.34" r="0.93" fill="#e4e4e4" filter="url(#blur03)"/>
<line x1="385.64" y1="223.8" x2="385.64" y2="228.8" stroke="#f0f0f0" stroke-width="1.3"/>
<circle cx="392.20" cy="222.49" r="0.78" fill="#c8c8c8" opacity="0.85" filter="url(#blur03)"/>
<circle cx="389.02" cy="212.70" r="0.66" fill="#c8c8c8" opacity="0.85" filter="url(#blur03)"/>
<circle cx="385.87" cy="220.47" r="0.52" fill="#c8c8c8" opacity="0.85" filter="url(#blur03)"/>
<circle cx="385.25" cy="223.76" r="0.87" fill="#c8c8c8" opacity="0.85" filter="url(#blur03)"/>
<circle cx="392.27" cy="210.90" r="1.05" fill="#c8c8c8" opacity="0.85" filter="url(#blur03)"/>
<circle cx="390.17" cy="209.75" r="0.82" fill="#c8c8c8" opacity="0.85" filter="url(#blur03)"/>
</g>
<rect x="306.3" y="193.4" width="88.5" height="35.400000000000006" fill="#808080" filter="url(#noise)" opacity="0.55" style="mix-blend-mode:overlay"/>
</g>
<clipPath id="cd3"><rect x="399.3" y="193.4" width="87.5" height="35.400000000000006"/></clipPath>
<g clip-path="url(#cd3)">
<rect x="399.3" y="193.4" width="87.5" height="35.400000000000006" fill="#575757"/>
<g filter="url(#wobble)">
<path d="M406.20,195.52 C402.26,196.94 400.08,202.25 400.08,211.10 C399.81,219.95 400.95,227.03 404.45,227.74 L412.33,227.74 C415.83,227.03 416.96,219.95 416.70,211.10 C416.70,202.25 414.51,196.94 410.58,195.52 Z" fill="#4c4c4c" stroke="#262626" stroke-width="1.9" filter="url(#blur07)"/>
<ellipse cx="408.39" cy="201.19" rx="5.25" ry="5.66" fill="#363636" filter="url(#blur1)"/>
<ellipse cx="409.07" cy="218.89" rx="5.25" ry="5.31" fill="#6c6c6c" filter="url(#blur15)"/>
<ellipse cx="403.14" cy="203.35" rx="1.8" ry="1.1" fill="#b0b0b0" filter="url(#blur05)"/>
<ellipse cx="413.64" cy="205.08" rx="1.8" ry="1.1" fill="#b0b0b0" filter="url(#blur05)"/>
<line x1="408.39" y1="193.4" x2="408.39" y2="197.4" stroke="#dcdcdc" stroke-width="1.8" filter="url(#blur05)"/>
<circle cx="402.53" cy="225.65" r="0.85" fill="#e4e4e4" filter="url(#blur03)"/>
<circle cx="407.16" cy="223.83" r="1.15" fill="#e4e4e4" filter="url(#blur03)"/>
<circle cx="410.59" cy="225.98" r="1.02" fill="#e4e4e4" filter="url(#blur03)"/>
<circle cx="414.37" cy="226.76" r="0.86" fill="#e4e4e4" filter="url(#blur03)"/>
<line x1="408.39" y1="223.8" x2="408.39" y2="228.8" stroke="#f0f0f0" stroke-width="1.3"/>
<circle cx="408.61" cy="224.59" r="0.94" fill="#c8c8c8" opacity="0.85" filter="url(#blur03)"/>
<circle cx="407.65" cy="214.18" r="1.07" fill="#c8c8c8" opacity="0.85" filter="url(#blur03)"/>
<circle cx="402.87" cy="221.45" r="1.01" fill="#c8c8c8" opacity="0.85" filter="url(#blur03)"/>
<circle cx="403.84" cy="214.54" r="0.68" fill="#c8c8c8" opacity="0.85" filter="url(#blur03)"/>
<circle cx="408.95" cy="215.18" r="1.04" fill="#c8c8c8" opacity="0.85" filter="url(#blur03)"/>
<circle cx="414.04" cy="214.37" r="1.04" fill="#c8c8c8" opacity="0.85" filter="url(#blur03)"/>
<path d="M422.67,195.52 C418.74,196.94 416.55,202.25 416.55,211.10 C416.29,219.95 417.42,227.03 420.92,227.74 L428.80,227.74 C432.30,227.03 433.44,219.95 433.17,211.10 C433.17,202.25 430.99,196.94 427.05,195.52 Z" fill="#4c4c4c" stroke="#262626" stroke-width="1.9" filter="url(#blur07)"/>
<ellipse cx="424.86" cy="201.19" rx="5.25" ry="5.66" fill="#363636" filter="url(#blur1)"/>
<ellipse cx="424.06" cy="218.89" rx="5.25" ry="5.31" fill="#6c6c6c" filter="url(#blur15)"/>
<ellipse cx="419.61" cy="204.37" rx="1.8" ry="1.1" fill="#b0b0b0" filter="url(#blur05)"/>
<ellipse cx="430.11" cy="204.66" rx="1.8" ry="1.1" fill="#b0b0b0" filter="url(#blur05)"/>
<line x1="424.86" y1="193.4" x2="424.86" y2="197.4" stroke="#dcdcdc" stroke-width="1.8" filter="url(#blur05)"/>
<circle cx="420.25" cy="226.77" r="1.23" fill="#e4e4e4" filter="url(#blur03)"/>
<circle cx="422.64" cy="225.90" r="1.26" fill="#e4e4e4" filter="url(#blur03)"/>
<circle cx="425.80" cy="225.03" r="0.88" fill="#e4e4e4" filter="url(#blur03)"/>
<circle cx="429.40" cy="224.98" r="1.14" fill="#e4e4e4" filter="url(#blur03)"/>
<line x1="424.86" y1="223.8" x2="424.86" y2="228.8" stroke="#f0f0f0" stroke-width="1.3"/>
<circle cx="431.16" cy="211.42" r="0.80" fill="#c8c8c8" opacity="0.85" filter="url(#blur03)"/>
<circle cx="431.48" cy="221.52" r="0.82" fill="#c8c8c8" opacity="0.85" filter="url(#blur03)"/>
<circle cx="421.44" cy="219.38" r="0.66" fill="#c8c8c8" opacity="0.85" filter="url(#blur03)"/>
<circle cx="426.78" cy="219.66" r="0.73" fill="#c8c8c8" opacity="0.85" filter="url(#blur03)"/>
<circle cx="428.78" cy="215.76" r="0.78" fill="#c8c8c8" opacity="0.85" filter="url(#blur03)"/>
<circle cx="429.27" cy="213.32" r="0.61" fill="#c8c8c8" opacity="0.85" filter="url(#blur03)"/>
<path d="M440.98,195.52 C437.04,196.94 434.86,202.25 434.86,211.10 C434.59,219.95 435.73,227.03 439.23,227.74 L447.11,227.74 C450.61,227.03 451.74,219.95 451.48,211.10 C451.48,202.25 449.29,196.94 445.36,195.52 Z" fill="#4c4c4c" stroke="#262626" stroke-width="1.9" filter="url(#blur07)"/>
<ellipse cx="443.17" cy="201.19" rx="5.25" ry="5.66" fill="#363636" filter="url(#blur1)"/>
<ellipse cx="443.04" cy="218.89" rx="5.25" ry="5.31" fill="#6c6c6c" filter="url(#blur15)"/>
<ellipse cx="437.92" cy="204.81" rx="1.8" ry="1.1" fill="#b0b0b0" filter="url(#blur05)"/>
<ellipse cx="448.42" cy="203.49" rx="1.8" ry="1.1" fill="#b0b0b0" filter="url(#blur05)"/>
<line x1="443.17" y1="193.4" x2="443.17" y2="197.4" stroke="#dcdcdc" stroke-width="1.8" filter="url(#blur05)"/>
<circle cx="437.66" cy="223.50" r="1.03" fill="#e4e4e4" filter="url(#blur03)"/>
<circle cx="441.04" cy="224.87" r="1.18" fill="#e4e4e4" filter="url(#blur03)"/>
<circle cx="443.99" cy="226.76" r="1.16" fill="#e4e4e4" filter="url(#blur03)"/>
<circle cx="449.04" cy="225.19" r="1.09" fill="#e4e4e4" filter="url(#blur03)"/>
<line x1="443.17" y1="223.8" x2="443.17" y2="228.8" stroke="#f0f0f0" stroke-width="1.3"/>
<circle cx="441.97" cy="215.64" r="0.63" fill="#c8c8c8" opacity="0.85" filter="url(#blur03)"/>
<circle cx="440.55" cy="214.01" r="0.70" fill="#c8c8c8" opacity="0.85" filter="url(#blur03)"/>
<circle cx="448.58" cy="222.05" r="0.88" fill="#c8c8c8" opacity="0.85" filter="url(#blur03)"/>
<circle cx="436.75" cy="213.51" r="0.83" fill="#c8c8c8" opacity="0.85" filter="url(#blur03)"/>
<circle cx="445.72" cy="216.01" r="0.88" fill="#c8c8c8" opacity="0.85" filter="url(#blur03)"/>
<circle cx="448.56" cy="213.59" r="0.73" fill="#c8c8c8" opacity="0.85" filter="url(#blur03)"/>
<path d="M458.78,195.52 C454.84,196.94 452.65,202.25 452.65,211.10 C452.39,219.95 453.53,227.03 457.03,227.74 L464.90,227.74 C468.40,227.03 469.54,219.95 469.28,211.10 C469.28,202.25 467.09,196.94 463.15,195.52 Z" fill="#4c4c4c" stroke="#262626" stroke-width="1.9" filter="url(#blur07)"/>
<ellipse cx="460.97" cy="201.19" rx="5.25" ry="5.66" fill="#363636" filter="url(#blur1)"/>
<ellipse cx="460.60" cy="218.89" rx="5.25" ry="5.31" fill="#6c6c6c" filter="url(#blur15)"/>
<ellipse cx="455.72" cy="204.49" rx="1.8" ry="1.1" fill="#b0b0b0" filter="url(#blur05)"/>
<ellipse cx="466.22" cy="203.80" rx="1.8" ry="1.1" fill="#b0b0b0" filter="url(#blur05)"/>
<line x1="460.97" y1="193.4" x2="460.97" y2="197.4" stroke="#dcdcdc" stroke-width="1.8" filter="url(#blur05)"/>
<circle cx="454.76" cy="224.92" r="0.83" fill="#e4e4e4" filter="url(#blur03)"/>
<circle cx="459.79" cy="226.26" r="1.06" fill="#e4e4e4" filter="url(#blur03)"/>
<circle cx="463.52" cy="224.05" r="1.02" fill="#e4e4e4" filter="url(#blur03)"/>
<circle cx="465.57" cy="223.47" r="1.21" fill="#e4e4e4" filter="url(#blur03)"/>
<line x1="460.97" y1="223.8" x2="460.97" y2="228.8" stroke="#f0f0f0" stroke-width="1.3"/>
<circle cx="455.01" cy="224.22" r="0.83" fill="#c8c8c8" opacity="0.85" filter="url(#blur03)"/>
<circle cx="463.64" cy="210.12" r="1.04" fill="#c8c8c8" opacity="0.85" filter="url(#blur03)"/>
<circle cx="464.87" cy="210.98" r="0.61" fill="#c8c8c8" opacity="0.85" filter="url(#blur03)"/>
<circle cx="456.19" cy="217.36" r="0.55" fill="#c8c8c8" opacity="0.85" filter="url(#blur03)"/>
<circle cx="464.94" cy="217.24" r="0.92" fill="#c8c8c8" opacity="0.85" filter="url(#blur03)"/>
<circle cx="457.70" cy="219.75" r="0.77" fill="#c8c8c8" opacity="0.85" filter="url(#blur03)"/>
<path d="M476.10,195.52 C472.16,196.94 469.97,202.25 469.97,211.10 C469.71,219.95 470.85,227.03 474.35,227.74 L482.22,227.74 C485.72,227.03 486.86,219.95 486.60,211.10 C486.60,202.25 484.41,196.94 480.47,195.52 Z" fill="#4c4c4c" stroke="#262626" stroke-width="1.9" filter="url(#blur07)"/>
<ellipse cx="478.29" cy="201.19" rx="5.25" ry="5.66" fill="#363636" filter="url(#blur1)"/>
<ellipse cx="478.11" cy="218.89" rx="5.25" ry="5.31" fill="#6c6c6c" filter="url(#blur15)"/>
<ellipse cx="473.04" cy="205.06" rx="1.8" ry="1.1" fill="#b0b0b0" filter="url(#blur05)"/>
<ellipse cx="483.54" cy="204.76" rx="1.8" ry="1.1" fill="#b0b0b0" filter="url(#blur05)"/>
<line x1="478.29" y1="193.4" x2="478.29" y2="197.4" stroke="#dcdcdc" stroke-width="1.8" filter="url(#blur05)"/>
<circle cx="473.70" cy="224.49" r="0.90" fill="#e4e4e4" filter="url(#blur03)"/>
<circle cx="475.84" cy="223.76" r="1.28" fill="#e4e4e4" filter="url(#blur03)"/>
<circle cx="479.60" cy="226.35" r="0.92" fill="#e4e4e4" filter="url(#blur03)"/>
<circle cx="483.78" cy="224.17" r="0.95" fill="#e4e4e4" filter="url(#blur03)"/>
<line x1="478.29" y1="223.8" x2="478.29" y2="228.8" stroke="#f0f0f0" stroke-width="1.3"/>
<circle cx="481.58" cy="219.02" r="1.07" fill="#c8c8c8" opacity="0.85" filter="url(#blur03)"/>
<circle cx="474.80" cy="213.64" r="0.54" fill="#c8c8c8" opacity="0.85" filter="url(#blur03)"/>
<circle cx="474.48" cy="224.95" r="0.84" fill="#c8c8c8" opacity="0.85" filter="url(#blur03)"/>
<circle cx="477.96" cy="214.76" r="0.96" fill="#c8c8c8" opacity="0.85" filter="url(#blur03)"/>
<circle cx="480.80" cy="211.81" r="0.53" fill="#c8c8c8" opacity="0.85" filter="url(#blur03)"/>
<circle cx="473.94" cy="222.35" r="0.94" fill="#c8c8c8" opacity="0.85" filter="url(#blur03)"/>
</g>
<rect x="399.3" y="193.4" width="87.5" height="35.400000000000006" fill="#808080" filter="url(#noise)" opacity="0.55" style="mix-blend-mode:overlay"/>
</g>
<clipPath id="cd4"><rect x="249.1" y="232.7" width="35.400000000000006" height="35.30000000000001"/></clipPath>
<g clip-path="url(#cd4)">
<rect x="249.1" y="232.7" width="35.400000000000006" height="35.30000000000001" fill="#666"/>
<g filter="url(#wobble)">
<path d="M254.96,234.82 C250.97,236.23 248.76,241.52 248.76,250.35 C248.50,259.18 249.65,266.24 253.19,266.94 L261.15,266.94 C264.69,266.24 265.84,259.18 265.58,250.35 C265.58,241.52 263.36,236.23 259.38,234.82 Z" fill="#5a5a5a" stroke="#262626" stroke-width="1.9" filter="url(#blur07)"/>
<ellipse cx="257.17" cy="240.47" rx="5.31" ry="5.65" fill="#363636" filter="url(#blur1)"/>
<ellipse cx="256.39" cy="258.12" rx="5.31" ry="5.30" fill="#6c6c6c" filter="url(#blur15)"/>
<ellipse cx="251.86" cy="243.06" rx="1.8" ry="1.1" fill="#b0b0b0" filter="url(#blur05)"/>
<ellipse cx="262.48" cy="243.68" rx="1.8" ry="1.1" fill="#b0b0b0" filter="url(#blur05)"/>
<line x1="257.17" y1="232.7" x2="257.17" y2="236.7" stroke="#dcdcdc" stroke-width="1.8" filter="url(#blur05)"/>
<circle cx="251.14" cy="262.89" r="0.92" fill="#e4e4e4" filter="url(#blur03)"/>
<circle cx="255.91" cy="263.02" r="1.17" fill="#e4e4e4" filter="url(#blur03)"/>
<circle cx="259.26" cy="262.98" r="1.07" fill="#e4e4e4" filter="url(#blur03)"/>
<circle cx="262.38" cy="263.94" r="1.30" fill="#e4e4e4" filter="url(#blur03)"/>
<line x1="257.17" y1="263" x2="257.17" y2="268" stroke="#f0f0f0" stroke-width="1.3"/>
<circle cx="251.70" cy="248.91" r="1.06" fill="#c8c8c8" opacity="0.85" filter="url(#blur03)"/>
<circle cx="255.86" cy="251.74" r="0.70" fill="#c8c8c8" opacity="0.85" filter="url(#blur03)"/>
<circle cx="255.35" cy="263.76" r="0.63" fill="#c8c8c8" opacity="0.85" filter="url(#blur03)"/>
<circle cx="253.36" cy="257.88" r="0.83" fill="#c8c8c8" opacity="0.85" filter="url(#blur03)"/>
<circle cx="263.27" cy="261.91" r="0.71" fill="#c8c8c8" opacity="0.85" filter="url(#blur03)"/>
<circle cx="253.19" cy="261.87" r="1.09" fill="#c8c8c8" opacity="0.85" filter="url(#blur03)"/>
<path d="M272.69,234.82 C268.70,236.23 266.49,241.52 266.49,250.35 C266.23,259.18 267.38,266.24 270.92,266.94 L278.88,266.94 C282.42,266.24 283.57,259.18 283.31,250.35 C283.31,241.52 281.09,236.23 277.11,234.82 Z" fill="#5a5a5a" stroke="#262626" stroke-width="1.9" filter="url(#blur07)"/>
<ellipse cx="274.90" cy="240.47" rx="5.31" ry="5.65" fill="#363636" filter="url(#blur1)"/>
<ellipse cx="275.37" cy="258.12" rx="5.31" ry="5.30" fill="#6c6c6c" filter="url(#blur15)"/>
<ellipse cx="269.59" cy="244.07" rx="1.8" ry="1.1" fill="#b0b0b0" filter="url(#blur05)"/>
<ellipse cx="280.21" cy="243.61" rx="1.8" ry="1.1" fill="#b0b0b0" filter="url(#blur05)"/>
<line x1="274.90" y1="232.7" x2="274.90" y2="236.7" stroke="#dcdcdc" stroke-width="1.8" filter="url(#blur05)"/>
<circle cx="269.03" cy="265.29" r="1.16" fill="#e4e4e4" filter="url(#blur03)"/>
<circle cx="272.52" cy="264.74" r="0.91" fill="#e4e4e4" filter="url(#blur03)"/>
<circle cx="275.75" cy="263.68" r="0.97" fill="#e4e4e4" filter="url(#blur03)"/>
<circle cx="280.00" cy="264.76" r="1.22" fill="#e4e4e4" filter="url(#blur03)"/>
<line x1="274.90" y1="263" x2="274.90" y2="268" stroke="#f0f0f0" stroke-width="1.3"/>
<circle cx="281.10" cy="264.10" r="1.10" fill="#c8c8c8" opacity="0.85" filter="url(#blur03)"/>
<circle cx="278.80" cy="253.45" r="0.61" fill="#c8c8c8" opacity="0.85" filter="url(#blur03)"/>
<circle cx="276.56" cy="257.26" r="0.90" fill="#c8c8c8" opacity="0.85" filter="url(#blur03)"/>
<circle cx="269.43" cy="251.65" r="1.05" fill="#c8c8c8" opacity="0.85" filter="url(#blur03)"/>
<circle cx="276.26" cy="259.63" r="0.56" fill="#c8c8c8" opacity="0.85" filter="url(#blur03)"/>
<circle cx="273.54" cy="263.04" r="0.89" fill="#c8c8c8" opacity="0.85" filter="url(#blur03)"/>
</g>
<rect x="249.1" y="232.7" width="35.400000000000006" height="35.30000000000001" fill="#808080" filter="url(#noise)" opacity="0.55" style="mix-blend-mode:overlay"/>
<g filter="url(#wobble2)"><g filter="url(#blur05)"><path d="M256.5,233 L258.5,233 L259.5,238 L262,240 L264.8,246 L265.2,262 L264,267.5 L251,267.5 L250,262 L250.3,246 L253,240 L255.5,238 Z" fill="#2020f0"/><path d="M256.8,234 L258.2,234 L259,238.5 L261.5,240.5 L264,246.5 L264.3,262 L263,266 L252,266 L251,262 L251.2,246.5 L253.5,240.5 L256,238.5 Z" fill="#ff0a0a"/></g><g filter="url(#blur05)"><ellipse cx="252.5" cy="265" rx="2.9" ry="2.4" fill="#00b0ff"/><ellipse cx="252.5" cy="265" rx="2" ry="1.5" fill="#20e030"/><ellipse cx="259" cy="266.3" rx="2.5" ry="1.9" fill="#00b0ff"/><ellipse cx="259" cy="266.3" rx="1.6" ry="1" fill="#20e030"/><ellipse cx="262.5" cy="264" rx="1.2" ry="1.2" fill="#00c8ff"/><ellipse cx="272" cy="237.5" rx="1.2" ry="1.4" fill="#5030d0"/><ellipse cx="276" cy="239.5" rx="1.6" ry="1.2" fill="#1010e0"/><ellipse cx="280" cy="244" rx="1.2" ry="1" fill="#5030d0"/><ellipse cx="271.5" cy="247.5" rx="1.3" ry="1" fill="#1010e0"/><ellipse cx="274" cy="250.5" rx="1.5" ry="1.2" fill="#1010e0"/><ellipse cx="279.5" cy="250" rx="1.2" ry="1.2" fill="#5030d0"/><ellipse cx="277.5" cy="259" rx="7.5" ry="8.2" fill="#1010e0"/><ellipse cx="277.5" cy="259.3" rx="6.4" ry="7" fill="#00c8ff"/><ellipse cx="277.5" cy="259.5" rx="5.8" ry="6.3" fill="#ff1010"/><ellipse cx="273.5" cy="262.5" rx="2.5" ry="2.4" fill="#00b0ff"/><ellipse cx="273.5" cy="262.5" rx="1.6" ry="1.5" fill="#20e030"/><ellipse cx="280.5" cy="264.5" rx="2.9" ry="2.1" fill="#00b0ff"/><ellipse cx="280.5" cy="264.5" rx="2" ry="1.2" fill="#20e030"/><ellipse cx="276.5" cy="266" rx="2.5" ry="1.2" fill="#1010e0"/></g></g>
</g>
<clipPath id="cd5"><rect x="306.3" y="232.7" width="88.5" height="35.19999999999999"/></clipPath>
<g clip-path="url(#cd5)">
<rect x="306.3" y="232.7" width="88.5" height="35.19999999999999" fill="#575757"/>
<g filter="url(#wobble)">
<path d="M313.16,234.81 C309.18,236.22 306.97,241.50 306.97,250.30 C306.70,259.10 307.85,266.14 311.39,266.84 L319.36,266.84 C322.90,266.14 324.05,259.10 323.78,250.30 C323.78,241.50 321.57,236.22 317.59,234.81 Z" fill="#4c4c4c" stroke="#262626" stroke-width="1.9" filter="url(#blur07)"/>
<ellipse cx="315.37" cy="240.44" rx="5.31" ry="5.63" fill="#363636" filter="url(#blur1)"/>
<ellipse cx="315.23" cy="258.04" rx="5.31" ry="5.28" fill="#6c6c6c" filter="url(#blur15)"/>
<ellipse cx="310.06" cy="243.73" rx="1.8" ry="1.1" fill="#b0b0b0" filter="url(#blur05)"/>
<ellipse cx="320.68" cy="242.34" rx="1.8" ry="1.1" fill="#b0b0b0" filter="url(#blur05)"/>
<line x1="315.37" y1="232.7" x2="315.37" y2="236.7" stroke="#dcdcdc" stroke-width="1.8" filter="url(#blur05)"/>
<circle cx="310.46" cy="263.71" r="1.10" fill="#e4e4e4" filter="url(#blur03)"/>
<circle cx="312.94" cy="263.61" r="0.93" fill="#e4e4e4" filter="url(#blur03)"/>
<circle cx="316.80" cy="264.94" r="1.04" fill="#e4e4e4" filter="url(#blur03)"/>
<circle cx="321.61" cy="264.44" r="0.91" fill="#e4e4e4" filter="url(#blur03)"/>
<line x1="315.37" y1="262.9" x2="315.37" y2="267.9" stroke="#f0f0f0" stroke-width="1.3"/>
<circle cx="316.89" cy="256.90" r="0.58" fill="#c8c8c8" opacity="0.85" filter="url(#blur03)"/>
<circle cx="315.73" cy="248.73" r="0.72" fill="#c8c8c8" opacity="0.85" filter="url(#blur03)"/>
<circle cx="315.86" cy="259.41" r="1.08" fill="#c8c8c8" opacity="0.85" filter="url(#blur03)"/>
<circle cx="316.92" cy="248.93" r="0.79" fill="#c8c8c8" opacity="0.85" filter="url(#blur03)"/>
<circle cx="312.01" cy="260.38" r="1.04" fill="#c8c8c8" opacity="0.85" filter="url(#blur03)"/>
<circle cx="309.81" cy="260.76" r="0.68" fill="#c8c8c8" opacity="0.85" filter="url(#blur03)"/>
<path d="M330.13,234.81 C326.15,236.22 323.94,241.50 323.94,250.30 C323.67,259.10 324.82,266.14 328.36,266.84 L336.33,266.84 C339.87,266.14 341.02,259.10 340.75,250.30 C340.75,241.50 338.54,236.22 334.56,234.81 Z" fill="#4c4c4c" stroke="#262626" stroke-width="1.9" filter="url(#blur07)"/>
<ellipse cx="332.34" cy="240.44" rx="5.31" ry="5.63" fill="#363636" filter="url(#blur1)"/>
<ellipse cx="332.25" cy="258.04" rx="5.31" ry="5.28" fill="#6c6c6c" filter="url(#blur15)"/>
<ellipse cx="327.03" cy="243.09" rx="1.8" ry="1.1" fill="#b0b0b0" filter="url(#blur05)"/>
<ellipse cx="337.65" cy="242.81" rx="1.8" ry="1.1" fill="#b0b0b0" filter="url(#blur05)"/>
<line x1="332.34" y1="232.7" x2="332.34" y2="236.7" stroke="#dcdcdc" stroke-width="1.8" filter="url(#blur05)"/>
<circle cx="326.56" cy="263.92" r="1.14" fill="#e4e4e4" filter="url(#blur03)"/>
<circle cx="329.90" cy="263.70" r="0.92" fill="#e4e4e4" filter="url(#blur03)"/>
<circle cx="334.57" cy="263.27" r="1.17" fill="#e4e4e4" filter="url(#blur03)"/>
<circle cx="336.71" cy="265.40" r="1.01" fill="#e4e4e4" filter="url(#blur03)"/>
<line x1="332.34" y1="262.9" x2="332.34" y2="267.9" stroke="#f0f0f0" stroke-width="1.3"/>
<circle cx="338.18" cy="261.15" r="1.01" fill="#c8c8c8" opacity="0.85" filter="url(#blur03)"/>
<circle cx="326.02" cy="260.40" r="0.82" fill="#c8c8c8" opacity="0.85" filter="url(#blur03)"/>
<circle cx="337.54" cy="257.52" r="0.71" fill="#c8c8c8" opacity="0.85" filter="url(#blur03)"/>
<circle cx="337.78" cy="264.30" r="0.63" fill="#c8c8c8" opacity="0.85" filter="url(#blur03)"/>
<circle cx="327.58" cy="255.54" r="0.89" fill="#c8c8c8" opacity="0.85" filter="url(#blur03)"/>
<circle cx="327.79" cy="257.82" r="0.83" fill="#c8c8c8" opacity="0.85" filter="url(#blur03)"/>
<path d="M348.82,234.81 C344.83,236.22 342.62,241.50 342.62,250.30 C342.36,259.10 343.51,266.14 347.05,266.84 L355.01,266.84 C358.55,266.14 359.70,259.10 359.44,250.30 C359.44,241.50 357.22,236.22 353.24,234.81 Z" fill="#4c4c4c" stroke="#262626" stroke-width="1.9" filter="url(#blur07)"/>
<ellipse cx="351.03" cy="240.44" rx="5.31" ry="5.63" fill="#363636" filter="url(#blur1)"/>
<ellipse cx="350.32" cy="258.04" rx="5.31" ry="5.28" fill="#6c6c6c" filter="url(#blur15)"/>
<ellipse cx="345.72" cy="242.50" rx="1.8" ry="1.1" fill="#b0b0b0" filter="url(#blur05)"/>
<ellipse cx="356.34" cy="243.30" rx="1.8" ry="1.1" fill="#b0b0b0" filter="url(#blur05)"/>
<line x1="351.03" y1="232.7" x2="351.03" y2="236.7" stroke="#dcdcdc" stroke-width="1.8" filter="url(#blur05)"/>
<circle cx="346.22" cy="264.45" r="1.17" fill="#e4e4e4" filter="url(#blur03)"/>
<circle cx="348.79" cy="262.51" r="1.14" fill="#e4e4e4" filter="url(#blur03)"/>
<circle cx="353.09" cy="262.50" r="0.84" fill="#e4e4e4" filter="url(#blur03)"/>
<circle cx="356.74" cy="264.73" r="0.90" fill="#e4e4e4" filter="url(#blur03)"/>
<line x1="351.03" y1="262.9" x2="351.03" y2="267.9" stroke="#f0f0f0" stroke-width="1.3"/>
<circle cx="347.82" cy="255.17" r="0.51" fill="#c8c8c8" opacity="0.85" filter="url(#blur03)"/>
<circle cx="348.34" cy="252.34" r="0.53" fill="#c8c8c8" opacity="0.85" filter="url(#blur03)"/>
<circle cx="351.36" cy="263.45" r="0.55" fill="#c8c8c8" opacity="0.85" filter="url(#blur03)"/>
<circle cx="353.62" cy="258.27" r="0.67" fill="#c8c8c8" opacity="0.85" filter="url(#blur03)"/>
<circle cx="352.96" cy="260.79" r="0.66" fill="#c8c8c8" opacity="0.85" filter="url(#blur03)"/>
<circle cx="349.81" cy="258.47" r="0.76" fill="#c8c8c8" opacity="0.85" filter="url(#blur03)"/>
<path d="M365.53,234.81 C361.55,236.22 359.34,241.50 359.34,250.30 C359.07,259.10 360.22,266.14 363.76,266.84 L371.73,266.84 C375.27,266.14 376.42,259.10 376.15,250.30 C376.15,241.50 373.94,236.22 369.96,234.81 Z" fill="#4c4c4c" stroke="#262626" stroke-width="1.9" filter="url(#blur07)"/>
<ellipse cx="367.75" cy="240.44" rx="5.31" ry="5.63" fill="#363636" filter="url(#blur1)"/>
<ellipse cx="367.55" cy="258.04" rx="5.31" ry="5.28" fill="#6c6c6c" filter="url(#blur15)"/>
<ellipse cx="362.44" cy="243.71" rx="1.8" ry="1.1" fill="#b0b0b0" filter="url(#blur05)"/>
<ellipse cx="373.06" cy="243.44" rx="1.8" ry="1.1" fill="#b0b0b0" filter="url(#blur05)"/>
<line x1="367.75" y1="232.7" x2="367.75" y2="236.7" stroke="#dcdcdc" stroke-width="1.8" filter="url(#blur05)"/>
<circle cx="362.09" cy="263.38" r="0.88" fill="#e4e4e4" filter="url(#blur03)"/>
<circle cx="366.31" cy="265.13" r="0.92" fill="#e4e4e4" filter="url(#blur03)"/>
<circle cx="369.76" cy="262.64" r="0.89" fill="#e4e4e4" filter="url(#blur03)"/>
<circle cx="373.24" cy="263.68" r="1.01" fill="#e4e4e4" filter="url(#blur03)"/>
<line x1="367.75" y1="262.9" x2="367.75" y2="267.9" stroke="#f0f0f0" stroke-width="1.3"/>
<circle cx="361.76" cy="256.56" r="0.78" fill="#c8c8c8" opacity="0.85" filter="url(#blur03)"/>
<circle cx="364.10" cy="258.46" r="0.63" fill="#c8c8c8" opacity="0.85" filter="url(#blur03)"/>
<circle cx="365.77" cy="250.23" r="1.02" fill="#c8c8c8" opacity="0.85" filter="url(#blur03)"/>
<circle cx="368.53" cy="262.82" r="0.71" fill="#c8c8c8" opacity="0.85" filter="url(#blur03)"/>
<circle cx="371.46" cy="259.12" r="0.53" fill="#c8c8c8" opacity="0.85" filter="url(#blur03)"/>
<circle cx="373.42" cy="256.57" r="0.70" fill="#c8c8c8" opacity="0.85" filter="url(#blur03)"/>
<path d="M383.53,234.81 C379.55,236.22 377.34,241.50 377.34,250.30 C377.07,259.10 378.22,266.14 381.76,266.84 L389.73,266.84 C393.27,266.14 394.42,259.10 394.15,250.30 C394.15,241.50 391.94,236.22 387.96,234.81 Z" fill="#4c4c4c" stroke="#262626" stroke-width="1.9" filter="url(#blur07)"/>
<ellipse cx="385.74" cy="240.44" rx="5.31" ry="5.63" fill="#363636" filter="url(#blur1)"/>
<ellipse cx="385.30" cy="258.04" rx="5.31" ry="5.28" fill="#6c6c6c" filter="url(#blur15)"/>
<ellipse cx="380.43" cy="243.82" rx="1.8" ry="1.1" fill="#b0b0b0" filter="url(#blur05)"/>
<ellipse cx="391.05" cy="243.13" rx="1.8" ry="1.1" fill="#b0b0b0" filter="url(#blur05)"/>
<line x1="385.74" y1="232.7" x2="385.74" y2="236.7" stroke="#dcdcdc" stroke-width="1.8" filter="url(#blur05)"/>
<circle cx="380.27" cy="263.95" r="1.14" fill="#e4e4e4" filter="url(#blur03)"/>
<circle cx="384.15" cy="263.22" r="1.09" fill="#e4e4e4" filter="url(#blur03)"/>
<circle cx="388.45" cy="263.67" r="1.23" fill="#e4e4e4" filter="url(#blur03)"/>
<circle cx="391.73" cy="264.00" r="1.29" fill="#e4e4e4" filter="url(#blur03)"/>
<line x1="385.74" y1="262.9" x2="385.74" y2="267.9" stroke="#f0f0f0" stroke-width="1.3"/>
<circle cx="382.39" cy="252.17" r="0.74" fill="#c8c8c8" opacity="0.85" filter="url(#blur03)"/>
<circle cx="380.59" cy="249.75" r="0.71" fill="#c8c8c8" opacity="0.85" filter="url(#blur03)"/>
<circle cx="385.56" cy="257.95" r="1.03" fill="#c8c8c8" opacity="0.85" filter="url(#blur03)"/>
<circle cx="386.63" cy="256.93" r="0.50" fill="#c8c8c8" opacity="0.85" filter="url(#blur03)"/>
<circle cx="379.08" cy="256.56" r="0.66" fill="#c8c8c8" opacity="0.85" filter="url(#blur03)"/>
<circle cx="392.43" cy="261.63" r="0.59" fill="#c8c8c8" opacity="0.85" filter="url(#blur03)"/>
</g>
<rect x="306.3" y="232.7" width="88.5" height="35.19999999999999" fill="#808080" filter="url(#noise)" opacity="0.55" style="mix-blend-mode:overlay"/>
</g>
<clipPath id="cd6"><rect x="399.3" y="232.7" width="87.5" height="35.19999999999999"/></clipPath>
<g clip-path="url(#cd6)">
<rect x="399.3" y="232.7" width="87.5" height="35.19999999999999" fill="#575757"/>
<g filter="url(#wobble)">
<path d="M405.50,234.81 C401.56,236.22 399.37,241.50 399.37,250.30 C399.11,259.10 400.25,266.14 403.75,266.84 L411.62,266.84 C415.12,266.14 416.26,259.10 416.00,250.30 C416.00,241.50 413.81,236.22 409.87,234.81 Z" fill="#4c4c4c" stroke="#262626" stroke-width="1.9" filter="url(#blur07)"/>
<ellipse cx="407.69" cy="240.44" rx="5.25" ry="5.63" fill="#363636" filter="url(#blur1)"/>
<ellipse cx="407.66" cy="258.04" rx="5.25" ry="5.28" fill="#6c6c6c" filter="url(#blur15)"/>
<ellipse cx="402.44" cy="242.38" rx="1.8" ry="1.1" fill="#b0b0b0" filter="url(#blur05)"/>
<ellipse cx="412.94" cy="242.92" rx="1.8" ry="1.1" fill="#b0b0b0" filter="url(#blur05)"/>
<line x1="407.69" y1="232.7" x2="407.69" y2="236.7" stroke="#dcdcdc" stroke-width="1.8" filter="url(#blur05)"/>
<circle cx="401.58" cy="262.44" r="0.94" fill="#e4e4e4" filter="url(#blur03)"/>
<circle cx="405.17" cy="263.49" r="1.17" fill="#e4e4e4" filter="url(#blur03)"/>
<circle cx="408.51" cy="264.59" r="0.87" fill="#e4e4e4" filter="url(#blur03)"/>
<circle cx="413.53" cy="264.98" r="0.91" fill="#e4e4e4" filter="url(#blur03)"/>
<line x1="407.69" y1="262.9" x2="407.69" y2="267.9" stroke="#f0f0f0" stroke-width="1.3"/>
<circle cx="412.31" cy="259.90" r="0.54" fill="#c8c8c8" opacity="0.85" filter="url(#blur03)"/>
<circle cx="406.46" cy="259.64" r="1.05" fill="#c8c8c8" opacity="0.85" filter="url(#blur03)"/>
<circle cx="403.33" cy="252.53" r="0.97" fill="#c8c8c8" opacity="0.85" filter="url(#blur03)"/>
<circle cx="413.84" cy="250.03" r="0.55" fill="#c8c8c8" opacity="0.85" filter="url(#blur03)"/>
<circle cx="411.03" cy="253.56" r="0.73" fill="#c8c8c8" opacity="0.85" filter="url(#blur03)"/>
<circle cx="412.69" cy="260.35" r="0.90" fill="#c8c8c8" opacity="0.85" filter="url(#blur03)"/>
<path d="M423.95,234.81 C420.01,236.22 417.83,241.50 417.83,250.30 C417.56,259.10 418.70,266.14 422.20,266.84 L430.08,266.84 C433.58,266.14 434.71,259.10 434.45,250.30 C434.45,241.50 432.26,236.22 428.33,234.81 Z" fill="#4c4c4c" stroke="#262626" stroke-width="1.9" filter="url(#blur07)"/>
<ellipse cx="426.14" cy="240.44" rx="5.25" ry="5.63" fill="#363636" filter="url(#blur1)"/>
<ellipse cx="426.60" cy="258.04" rx="5.25" ry="5.28" fill="#6c6c6c" filter="url(#blur15)"/>
<ellipse cx="420.89" cy="243.92" rx="1.8" ry="1.1" fill="#b0b0b0" filter="url(#blur05)"/>
<ellipse cx="431.39" cy="243.56" rx="1.8" ry="1.1" fill="#b0b0b0" filter="url(#blur05)"/>
<line x1="426.14" y1="232.7" x2="426.14" y2="236.7" stroke="#dcdcdc" stroke-width="1.8" filter="url(#blur05)"/>
<circle cx="421.07" cy="262.61" r="1.25" fill="#e4e4e4" filter="url(#blur03)"/>
<circle cx="425.21" cy="263.63" r="1.11" fill="#e4e4e4" filter="url(#blur03)"/>
<circle cx="426.92" cy="264.15" r="1.11" fill="#e4e4e4" filter="url(#blur03)"/>
<circle cx="430.98" cy="263.85" r="1.22" fill="#e4e4e4" filter="url(#blur03)"/>
<line x1="426.14" y1="262.9" x2="426.14" y2="267.9" stroke="#f0f0f0" stroke-width="1.3"/>
<circle cx="421.40" cy="255.75" r="0.55" fill="#c8c8c8" opacity="0.85" filter="url(#blur03)"/>
<circle cx="424.60" cy="262.52" r="0.87" fill="#c8c8c8" opacity="0.85" filter="url(#blur03)"/>
<circle cx="419.87" cy="262.14" r="0.89" fill="#c8c8c8" opacity="0.85" filter="url(#blur03)"/>
<circle cx="426.41" cy="253.11" r="0.68" fill="#c8c8c8" opacity="0.85" filter="url(#blur03)"/>
<circle cx="421.92" cy="258.39" r="0.53" fill="#c8c8c8" opacity="0.85" filter="url(#blur03)"/>
<circle cx="432.05" cy="250.17" r="0.87" fill="#c8c8c8" opacity="0.85" filter="url(#blur03)"/>
<path d="M440.98,234.81 C437.05,236.22 434.86,241.50 434.86,250.30 C434.60,259.10 435.73,266.14 439.23,266.84 L447.11,266.84 C450.61,266.14 451.75,259.10 451.48,250.30 C451.48,241.50 449.30,236.22 445.36,234.81 Z" fill="#4c4c4c" stroke="#262626" stroke-width="1.9" filter="url(#blur07)"/>
<ellipse cx="443.17" cy="240.44" rx="5.25" ry="5.63" fill="#363636" filter="url(#blur1)"/>
<ellipse cx="442.90" cy="258.04" rx="5.25" ry="5.28" fill="#6c6c6c" filter="url(#blur15)"/>
<ellipse cx="437.92" cy="242.79" rx="1.8" ry="1.1" fill="#b0b0b0" filter="url(#blur05)"/>
<ellipse cx="448.42" cy="243.13" rx="1.8" ry="1.1" fill="#b0b0b0" filter="url(#blur05)"/>
<line x1="443.17" y1="232.7" x2="443.17" y2="236.7" stroke="#dcdcdc" stroke-width="1.8" filter="url(#blur05)"/>
<circle cx="437.58" cy="265.80" r="1.12" fill="#e4e4e4" filter="url(#blur03)"/>
<circle cx="441.46" cy="264.72" r="1.05" fill="#e4e4e4" filter="url(#blur03)"/>
<circle cx="444.22" cy="262.48" r="1.29" fill="#e4e4e4" filter="url(#blur03)"/>
<circle cx="449.11" cy="262.73" r="1.11" fill="#e4e4e4" filter="url(#blur03)"/>
<line x1="443.17" y1="262.9" x2="443.17" y2="267.9" stroke="#f0f0f0" stroke-width="1.3"/>
<circle cx="446.96" cy="262.71" r="0.54" fill="#c8c8c8" opacity="0.85" filter="url(#blur03)"/>
<circle cx="438.28" cy="254.75" r="0.86" fill="#c8c8c8" opacity="0.85" filter="url(#blur03)"/>
<circle cx="437.62" cy="259.56" r="0.95" fill="#c8c8c8" opacity="0.85" filter="url(#blur03)"/>
<circle cx="442.46" cy="261.99" r="0.73" fill="#c8c8c8" opacity="0.85" filter="url(#blur03)"/>
<circle cx="447.61" cy="254.59" r="0.74" fill="#c8c8c8" opacity="0.85" filter="url(#blur03)"/>
<circle cx="441.54" cy="259.78" r="1.03" fill="#c8c8c8" opacity="0.85" filter="url(#blur03)"/>
<path d="M457.68,234.81 C453.74,236.22 451.55,241.50 451.55,250.30 C451.29,259.10 452.43,266.14 455.93,266.84 L463.80,266.84 C467.30,266.14 468.44,259.10 468.18,250.30 C468.18,241.50 465.99,236.22 462.05,234.81 Z" fill="#4c4c4c" stroke="#262626" stroke-width="1.9" filter="url(#blur07)"/>
<ellipse cx="459.87" cy="240.44" rx="5.25" ry="5.63" fill="#363636" filter="url(#blur1)"/>
<ellipse cx="460.05" cy="258.04" rx="5.25" ry="5.28" fill="#6c6c6c" filter="url(#blur15)"/>
<ellipse cx="454.62" cy="243.97" rx="1.8" ry="1.1" fill="#b0b0b0" filter="url(#blur05)"/>
<ellipse cx="465.12" cy="243.67" rx="1.8" ry="1.1" fill="#b0b0b0" filter="url(#blur05)"/>
<line x1="459.87" y1="232.7" x2="459.87" y2="236.7" stroke="#dcdcdc" stroke-width="1.8" filter="url(#blur05)"/>
<circle cx="454.08" cy="263.68" r="1.24" fill="#e4e4e4" filter="url(#blur03)"/>
<circle cx="457.55" cy="265.74" r="1.00" fill="#e4e4e4" filter="url(#blur03)"/>
<circle cx="461.66" cy="264.88" r="1.14" fill="#e4e4e4" filter="url(#blur03)"/>
<circle cx="465.30" cy="265.44" r="1.12" fill="#e4e4e4" filter="url(#blur03)"/>
<line x1="459.87" y1="262.9" x2="459.87" y2="267.9" stroke="#f0f0f0" stroke-width="1.3"/>
<circle cx="465.40" cy="258.86" r="0.85" fill="#c8c8c8" opacity="0.85" filter="url(#blur03)"/>
<circle cx="453.97" cy="262.93" r="0.64" fill="#c8c8c8" opacity="0.85" filter="url(#blur03)"/>
<circle cx="456.22" cy="249.32" r="0.87" fill="#c8c8c8" opacity="0.85" filter="url(#blur03)"/>
<circle cx="458.14" cy="258.88" r="0.99" fill="#c8c8c8" opacity="0.85" filter="url(#blur03)"/>
<circle cx="465.74" cy="261.26" r="1.00" fill="#c8c8c8" opacity="0.85" filter="url(#blur03)"/>
<circle cx="458.28" cy="249.38" r="0.96" fill="#c8c8c8" opacity="0.85" filter="url(#blur03)"/>
<path d="M476.65,234.81 C472.72,236.22 470.53,241.50 470.53,250.30 C470.27,259.10 471.40,266.14 474.90,266.84 L482.78,266.84 C486.28,266.14 487.42,259.10 487.15,250.30 C487.15,241.50 484.97,236.22 481.03,234.81 Z" fill="#4c4c4c" stroke="#262626" stroke-width="1.9" filter="url(#blur07)"/>
<ellipse cx="478.84" cy="240.44" rx="5.25" ry="5.63" fill="#363636" filter="url(#blur1)"/>
<ellipse cx="478.77" cy="258.04" rx="5.25" ry="5.28" fill="#6c6c6c" filter="url(#blur15)"/>
<ellipse cx="473.59" cy="244.10" rx="1.8" ry="1.1" fill="#b0b0b0" filter="url(#blur05)"/>
<ellipse cx="484.09" cy="243.40" rx="1.8" ry="1.1" fill="#b0b0b0" filter="url(#blur05)"/>
<line x1="478.84" y1="232.7" x2="478.84" y2="236.7" stroke="#dcdcdc" stroke-width="1.8" filter="url(#blur05)"/>
<circle cx="473.36" cy="265.31" r="0.83" fill="#e4e4e4" filter="url(#blur03)"/>
<circle cx="476.82" cy="264.84" r="0.84" fill="#e4e4e4" filter="url(#blur03)"/>
<circle cx="480.70" cy="263.76" r="0.91" fill="#e4e4e4" filter="url(#blur03)"/>
<circle cx="483.90" cy="265.00" r="1.14" fill="#e4e4e4" filter="url(#blur03)"/>
<line x1="478.84" y1="262.9" x2="478.84" y2="267.9" stroke="#f0f0f0" stroke-width="1.3"/>
<circle cx="480.06" cy="260.83" r="0.75" fill="#c8c8c8" opacity="0.85" filter="url(#blur03)"/>
<circle cx="479.91" cy="250.11" r="0.90" fill="#c8c8c8" opacity="0.85" filter="url(#blur03)"/>
<circle cx="481.07" cy="258.46" r="0.98" fill="#c8c8c8" opacity="0.85" filter="url(#blur03)"/>
<circle cx="485.29" cy="259.99" r="1.08" fill="#c8c8c8" opacity="0.85" filter="url(#blur03)"/>
<circle cx="480.89" cy="252.94" r="1.02" fill="#c8c8c8" opacity="0.85" filter="url(#blur03)"/>
<circle cx="481.10" cy="258.47" r="0.59" fill="#c8c8c8" opacity="0.85" filter="url(#blur03)"/>
</g>
<rect x="399.3" y="232.7" width="87.5" height="35.19999999999999" fill="#808080" filter="url(#noise)" opacity="0.55" style="mix-blend-mode:overlay"/>
</g>
<clipPath id="cd7"><rect x="306.2" y="272.0" width="35.900000000000034" height="35.5"/></clipPath>
<g clip-path="url(#cd7)">
<rect x="306.2" y="272.0" width="35.900000000000034" height="35.5" fill="#575757"/>
<g filter="url(#wobble)">
<path d="M313.70,274.13 C309.66,275.55 307.41,280.88 307.41,289.75 C307.14,298.62 308.31,305.73 311.90,306.44 L319.98,306.44 C323.57,305.73 324.74,298.62 324.47,289.75 C324.47,280.88 322.22,275.55 318.18,274.13 Z" fill="#4c4c4c" stroke="#262626" stroke-width="1.9" filter="url(#blur07)"/>
<ellipse cx="315.94" cy="279.81" rx="5.39" ry="5.68" fill="#363636" filter="url(#blur1)"/>
<ellipse cx="315.05" cy="297.56" rx="5.39" ry="5.33" fill="#6c6c6c" filter="url(#blur15)"/>
<ellipse cx="310.56" cy="283.13" rx="1.8" ry="1.1" fill="#b0b0b0" filter="url(#blur05)"/>
<ellipse cx="321.33" cy="282.62" rx="1.8" ry="1.1" fill="#b0b0b0" filter="url(#blur05)"/>
<line x1="315.94" y1="272.0" x2="315.94" y2="276.0" stroke="#dcdcdc" stroke-width="1.8" filter="url(#blur05)"/>
<circle cx="311.44" cy="303.42" r="1.26" fill="#e4e4e4" filter="url(#blur03)"/>
<circle cx="313.46" cy="305.48" r="1.01" fill="#e4e4e4" filter="url(#blur03)"/>
<circle cx="317.10" cy="303.21" r="1.12" fill="#e4e4e4" filter="url(#blur03)"/>
<circle cx="320.39" cy="303.36" r="0.81" fill="#e4e4e4" filter="url(#blur03)"/>
<line x1="315.94" y1="302.5" x2="315.94" y2="307.5" stroke="#f0f0f0" stroke-width="1.3"/>
<circle cx="310.07" cy="290.70" r="0.64" fill="#c8c8c8" opacity="0.85" filter="url(#blur03)"/>
<circle cx="312.86" cy="300.41" r="0.75" fill="#c8c8c8" opacity="0.85" filter="url(#blur03)"/>
<circle cx="320.82" cy="302.33" r="1.04" fill="#c8c8c8" opacity="0.85" filter="url(#blur03)"/>
<circle cx="322.05" cy="297.17" r="0.90" fill="#c8c8c8" opacity="0.85" filter="url(#blur03)"/>
<circle cx="321.14" cy="296.66" r="0.59" fill="#c8c8c8" opacity="0.85" filter="url(#blur03)"/>
<circle cx="316.22" cy="296.44" r="0.61" fill="#c8c8c8" opacity="0.85" filter="url(#blur03)"/>
<path d="M330.23,274.13 C326.19,275.55 323.95,280.88 323.95,289.75 C323.68,298.62 324.84,305.73 328.43,306.44 L336.51,306.44 C340.10,305.73 341.27,298.62 341.00,289.75 C341.00,280.88 338.76,275.55 334.72,274.13 Z" fill="#4c4c4c" stroke="#262626" stroke-width="1.9" filter="url(#blur07)"/>
<ellipse cx="332.47" cy="279.81" rx="5.39" ry="5.68" fill="#363636" filter="url(#blur1)"/>
<ellipse cx="331.84" cy="297.56" rx="5.39" ry="5.33" fill="#6c6c6c" filter="url(#blur15)"/>
<ellipse cx="327.09" cy="283.07" rx="1.8" ry="1.1" fill="#b0b0b0" filter="url(#blur05)"/>
<ellipse cx="337.86" cy="283.32" rx="1.8" ry="1.1" fill="#b0b0b0" filter="url(#blur05)"/>
<line x1="332.47" y1="272.0" x2="332.47" y2="276.0" stroke="#dcdcdc" stroke-width="1.8" filter="url(#blur05)"/>
<circle cx="327.40" cy="303.49" r="0.81" fill="#e4e4e4" filter="url(#blur03)"/>
<circle cx="329.69" cy="304.29" r="1.06" fill="#e4e4e4" filter="url(#blur03)"/>
<circle cx="334.18" cy="302.60" r="0.86" fill="#e4e4e4" filter="url(#blur03)"/>
<circle cx="337.22" cy="302.45" r="1.10" fill="#e4e4e4" filter="url(#blur03)"/>
<line x1="332.47" y1="302.5" x2="332.47" y2="307.5" stroke="#f0f0f0" stroke-width="1.3"/>
<circle cx="329.84" cy="296.84" r="0.76" fill="#c8c8c8" opacity="0.85" filter="url(#blur03)"/>
<circle cx="333.13" cy="299.87" r="0.97" fill="#c8c8c8" opacity="0.85" filter="url(#blur03)"/>
<circle cx="327.69" cy="303.31" r="1.01" fill="#c8c8c8" opacity="0.85" filter="url(#blur03)"/>
<circle cx="336.84" cy="295.21" r="1.07" fill="#c8c8c8" opacity="0.85" filter="url(#blur03)"/>
<circle cx="336.74" cy="291.79" r="0.91" fill="#c8c8c8" opacity="0.85" filter="url(#blur03)"/>
<circle cx="337.24" cy="300.00" r="1.04" fill="#c8c8c8" opacity="0.85" filter="url(#blur03)"/>
</g>
<rect x="306.2" y="272.0" width="35.900000000000034" height="35.5" fill="#808080" filter="url(#noise)" opacity="0.55" style="mix-blend-mode:overlay"/>
</g>
<clipPath id="cd8"><rect x="359.2" y="272.0" width="35.80000000000001" height="35.5"/></clipPath>
<g clip-path="url(#cd8)">
<rect x="359.2" y="272.0" width="35.80000000000001" height="35.5" fill="#575757"/>
<g filter="url(#wobble)">
<path d="M365.47,274.13 C361.44,275.55 359.21,280.88 359.21,289.75 C358.94,298.62 360.10,305.73 363.68,306.44 L371.74,306.44 C375.32,305.73 376.48,298.62 376.21,289.75 C376.21,280.88 373.97,275.55 369.95,274.13 Z" fill="#4c4c4c" stroke="#262626" stroke-width="1.9" filter="url(#blur07)"/>
<ellipse cx="367.71" cy="279.81" rx="5.37" ry="5.68" fill="#363636" filter="url(#blur1)"/>
<ellipse cx="368.57" cy="297.56" rx="5.37" ry="5.33" fill="#6c6c6c" filter="url(#blur15)"/>
<ellipse cx="362.34" cy="283.60" rx="1.8" ry="1.1" fill="#b0b0b0" filter="url(#blur05)"/>
<ellipse cx="373.08" cy="281.63" rx="1.8" ry="1.1" fill="#b0b0b0" filter="url(#blur05)"/>
<line x1="367.71" y1="272.0" x2="367.71" y2="276.0" stroke="#dcdcdc" stroke-width="1.8" filter="url(#blur05)"/>
<circle cx="363.03" cy="304.50" r="1.14" fill="#e4e4e4" filter="url(#blur03)"/>
<circle cx="364.94" cy="304.90" r="0.99" fill="#e4e4e4" filter="url(#blur03)"/>
<circle cx="370.11" cy="303.88" r="1.18" fill="#e4e4e4" filter="url(#blur03)"/>
<circle cx="373.54" cy="303.19" r="1.13" fill="#e4e4e4" filter="url(#blur03)"/>
<line x1="367.71" y1="302.5" x2="367.71" y2="307.5" stroke="#f0f0f0" stroke-width="1.3"/>
<circle cx="374.09" cy="302.24" r="1.04" fill="#c8c8c8" opacity="0.85" filter="url(#blur03)"/>
<circle cx="362.28" cy="298.21" r="1.01" fill="#c8c8c8" opacity="0.85" filter="url(#blur03)"/>
<circle cx="365.06" cy="288.69" r="0.95" fill="#c8c8c8" opacity="0.85" filter="url(#blur03)"/>
<circle cx="368.57" cy="303.40" r="0.65" fill="#c8c8c8" opacity="0.85" filter="url(#blur03)"/>
<circle cx="362.12" cy="297.22" r="1.01" fill="#c8c8c8" opacity="0.85" filter="url(#blur03)"/>
<circle cx="369.73" cy="289.67" r="0.70" fill="#c8c8c8" opacity="0.85" filter="url(#blur03)"/>
<path d="M383.22,274.13 C379.19,275.55 376.95,280.88 376.95,289.75 C376.68,298.62 377.85,305.73 381.43,306.44 L389.48,306.44 C393.06,305.73 394.23,298.62 393.96,289.75 C393.96,280.88 391.72,275.55 387.69,274.13 Z" fill="#4c4c4c" stroke="#262626" stroke-width="1.9" filter="url(#blur07)"/>
<ellipse cx="385.45" cy="279.81" rx="5.37" ry="5.68" fill="#363636" filter="url(#blur1)"/>
<ellipse cx="385.26" cy="297.56" rx="5.37" ry="5.33" fill="#6c6c6c" filter="url(#blur15)"/>
<ellipse cx="380.08" cy="283.24" rx="1.8" ry="1.1" fill="#b0b0b0" filter="url(#blur05)"/>
<ellipse cx="390.82" cy="282.55" rx="1.8" ry="1.1" fill="#b0b0b0" filter="url(#blur05)"/>
<line x1="385.45" y1="272.0" x2="385.45" y2="276.0" stroke="#dcdcdc" stroke-width="1.8" filter="url(#blur05)"/>
<circle cx="380.16" cy="302.79" r="1.06" fill="#e4e4e4" filter="url(#blur03)"/>
<circle cx="384.64" cy="303.40" r="0.95" fill="#e4e4e4" filter="url(#blur03)"/>
<circle cx="387.63" cy="305.10" r="0.83" fill="#e4e4e4" filter="url(#blur03)"/>
<circle cx="391.10" cy="304.11" r="1.10" fill="#e4e4e4" filter="url(#blur03)"/>
<line x1="385.45" y1="302.5" x2="385.45" y2="307.5" stroke="#f0f0f0" stroke-width="1.3"/>
<circle cx="385.63" cy="298.84" r="1.01" fill="#c8c8c8" opacity="0.85" filter="url(#blur03)"/>
<circle cx="382.11" cy="290.32" r="0.59" fill="#c8c8c8" opacity="0.85" filter="url(#blur03)"/>
<circle cx="386.16" cy="291.86" r="0.78" fill="#c8c8c8" opacity="0.85" filter="url(#blur03)"/>
<circle cx="385.82" cy="294.96" r="0.88" fill="#c8c8c8" opacity="0.85" filter="url(#blur03)"/>
<circle cx="385.80" cy="296.45" r="0.97" fill="#c8c8c8" opacity="0.85" filter="url(#blur03)"/>
<circle cx="383.70" cy="288.40" r="1.04" fill="#c8c8c8" opacity="0.85" filter="url(#blur03)"/>
</g>
<rect x="359.2" y="272.0" width="35.80000000000001" height="35.5" fill="#808080" filter="url(#noise)" opacity="0.55" style="mix-blend-mode:overlay"/>
</g>
<clipPath id="cd9"><rect x="399.3" y="272.0" width="87.69999999999999" height="35.30000000000001"/></clipPath>
<g clip-path="url(#cd9)">
<rect x="399.3" y="272.0" width="87.69999999999999" height="35.30000000000001" fill="#575757"/>
<g filter="url(#wobble)">
<path d="M405.19,274.12 C401.24,275.53 399.05,280.82 399.05,289.65 C398.79,298.48 399.93,305.54 403.44,306.24 L411.33,306.24 C414.84,305.54 415.98,298.48 415.71,289.65 C415.71,280.82 413.52,275.53 409.58,274.12 Z" fill="#4c4c4c" stroke="#262626" stroke-width="1.9" filter="url(#blur07)"/>
<ellipse cx="407.38" cy="279.77" rx="5.26" ry="5.65" fill="#363636" filter="url(#blur1)"/>
<ellipse cx="407.25" cy="297.42" rx="5.26" ry="5.30" fill="#6c6c6c" filter="url(#blur15)"/>
<ellipse cx="402.12" cy="282.05" rx="1.8" ry="1.1" fill="#b0b0b0" filter="url(#blur05)"/>
<ellipse cx="412.65" cy="282.47" rx="1.8" ry="1.1" fill="#b0b0b0" filter="url(#blur05)"/>
<line x1="407.38" y1="272.0" x2="407.38" y2="276.0" stroke="#dcdcdc" stroke-width="1.8" filter="url(#blur05)"/>
<circle cx="401.63" cy="304.82" r="1.08" fill="#e4e4e4" filter="url(#blur03)"/>
<circle cx="406.12" cy="305.04" r="1.05" fill="#e4e4e4" filter="url(#blur03)"/>
<circle cx="409.07" cy="302.25" r="1.19" fill="#e4e4e4" filter="url(#blur03)"/>
<circle cx="411.78" cy="303.07" r="0.88" fill="#e4e4e4" filter="url(#blur03)"/>
<line x1="407.38" y1="302.3" x2="407.38" y2="307.3" stroke="#f0f0f0" stroke-width="1.3"/>
<circle cx="410.43" cy="295.16" r="0.80" fill="#c8c8c8" opacity="0.85" filter="url(#blur03)"/>
<circle cx="407.76" cy="301.27" r="1.09" fill="#c8c8c8" opacity="0.85" filter="url(#blur03)"/>
<circle cx="405.66" cy="301.87" r="0.93" fill="#c8c8c8" opacity="0.85" filter="url(#blur03)"/>
<circle cx="410.01" cy="303.41" r="0.62" fill="#c8c8c8" opacity="0.85" filter="url(#blur03)"/>
<circle cx="404.96" cy="295.56" r="0.68" fill="#c8c8c8" opacity="0.85" filter="url(#blur03)"/>
<circle cx="404.60" cy="291.05" r="1.05" fill="#c8c8c8" opacity="0.85" filter="url(#blur03)"/>
<path d="M424.17,274.12 C420.22,275.53 418.03,280.82 418.03,289.65 C417.77,298.48 418.91,305.54 422.42,306.24 L430.31,306.24 C433.82,305.54 434.96,298.48 434.69,289.65 C434.69,280.82 432.50,275.53 428.56,274.12 Z" fill="#4c4c4c" stroke="#262626" stroke-width="1.9" filter="url(#blur07)"/>
<ellipse cx="426.36" cy="279.77" rx="5.26" ry="5.65" fill="#363636" filter="url(#blur1)"/>
<ellipse cx="427.12" cy="297.42" rx="5.26" ry="5.30" fill="#6c6c6c" filter="url(#blur15)"/>
<ellipse cx="421.10" cy="283.21" rx="1.8" ry="1.1" fill="#b0b0b0" filter="url(#blur05)"/>
<ellipse cx="431.62" cy="282.39" rx="1.8" ry="1.1" fill="#b0b0b0" filter="url(#blur05)"/>
<line x1="426.36" y1="272.0" x2="426.36" y2="276.0" stroke="#dcdcdc" stroke-width="1.8" filter="url(#blur05)"/>
<circle cx="420.72" cy="303.21" r="0.81" fill="#e4e4e4" filter="url(#blur03)"/>
<circle cx="423.84" cy="303.46" r="1.01" fill="#e4e4e4" filter="url(#blur03)"/>
<circle cx="428.42" cy="303.76" r="0.85" fill="#e4e4e4" filter="url(#blur03)"/>
<circle cx="432.32" cy="303.29" r="1.04" fill="#e4e4e4" filter="url(#blur03)"/>
<line x1="426.36" y1="302.3" x2="426.36" y2="307.3" stroke="#f0f0f0" stroke-width="1.3"/>
<circle cx="424.65" cy="293.71" r="1.05" fill="#c8c8c8" opacity="0.85" filter="url(#blur03)"/>
<circle cx="432.58" cy="290.81" r="1.05" fill="#c8c8c8" opacity="0.85" filter="url(#blur03)"/>
<circle cx="430.50" cy="300.97" r="0.67" fill="#c8c8c8" opacity="0.85" filter="url(#blur03)"/>
<circle cx="431.67" cy="297.13" r="0.78" fill="#c8c8c8" opacity="0.85" filter="url(#blur03)"/>
<circle cx="420.16" cy="296.09" r="0.60" fill="#c8c8c8" opacity="0.85" filter="url(#blur03)"/>
<circle cx="423.54" cy="301.64" r="0.71" fill="#c8c8c8" opacity="0.85" filter="url(#blur03)"/>
<path d="M441.46,274.12 C437.51,275.53 435.32,280.82 435.32,289.65 C435.06,298.48 436.20,305.54 439.71,306.24 L447.60,306.24 C451.11,305.54 452.25,298.48 451.98,289.65 C451.98,280.82 449.79,275.53 445.85,274.12 Z" fill="#4c4c4c" stroke="#262626" stroke-width="1.9" filter="url(#blur07)"/>
<ellipse cx="443.65" cy="279.77" rx="5.26" ry="5.65" fill="#363636" filter="url(#blur1)"/>
<ellipse cx="443.39" cy="297.42" rx="5.26" ry="5.30" fill="#6c6c6c" filter="url(#blur15)"/>
<ellipse cx="438.39" cy="281.77" rx="1.8" ry="1.1" fill="#b0b0b0" filter="url(#blur05)"/>
<ellipse cx="448.92" cy="282.37" rx="1.8" ry="1.1" fill="#b0b0b0" filter="url(#blur05)"/>
<line x1="443.65" y1="272.0" x2="443.65" y2="276.0" stroke="#dcdcdc" stroke-width="1.8" filter="url(#blur05)"/>
<circle cx="437.73" cy="302.34" r="1.14" fill="#e4e4e4" filter="url(#blur03)"/>
<circle cx="442.29" cy="302.44" r="1.16" fill="#e4e4e4" filter="url(#blur03)"/>
<circle cx="445.48" cy="302.15" r="0.85" fill="#e4e4e4" filter="url(#blur03)"/>
<circle cx="449.32" cy="304.99" r="1.21" fill="#e4e4e4" filter="url(#blur03)"/>
<line x1="443.65" y1="302.3" x2="443.65" y2="307.3" stroke="#f0f0f0" stroke-width="1.3"/>
<circle cx="444.99" cy="288.94" r="0.94" fill="#c8c8c8" opacity="0.85" filter="url(#blur03)"/>
<circle cx="437.82" cy="300.27" r="0.55" fill="#c8c8c8" opacity="0.85" filter="url(#blur03)"/>
<circle cx="449.95" cy="295.53" r="0.63" fill="#c8c8c8" opacity="0.85" filter="url(#blur03)"/>
<circle cx="438.31" cy="292.08" r="0.92" fill="#c8c8c8" opacity="0.85" filter="url(#blur03)"/>
<circle cx="440.57" cy="289.13" r="0.95" fill="#c8c8c8" opacity="0.85" filter="url(#blur03)"/>
<circle cx="439.23" cy="290.56" r="0.63" fill="#c8c8c8" opacity="0.85" filter="url(#blur03)"/>
<path d="M457.93,274.12 C453.98,275.53 451.79,280.82 451.79,289.65 C451.53,298.48 452.67,305.54 456.18,306.24 L464.07,306.24 C467.58,305.54 468.72,298.48 468.45,289.65 C468.45,280.82 466.26,275.53 462.31,274.12 Z" fill="#4c4c4c" stroke="#262626" stroke-width="1.9" filter="url(#blur07)"/>
<ellipse cx="460.12" cy="279.77" rx="5.26" ry="5.65" fill="#363636" filter="url(#blur1)"/>
<ellipse cx="459.61" cy="297.42" rx="5.26" ry="5.30" fill="#6c6c6c" filter="url(#blur15)"/>
<ellipse cx="454.86" cy="281.68" rx="1.8" ry="1.1" fill="#b0b0b0" filter="url(#blur05)"/>
<ellipse cx="465.38" cy="281.56" rx="1.8" ry="1.1" fill="#b0b0b0" filter="url(#blur05)"/>
<line x1="460.12" y1="272.0" x2="460.12" y2="276.0" stroke="#dcdcdc" stroke-width="1.8" filter="url(#blur05)"/>
<circle cx="454.10" cy="303.17" r="1.26" fill="#e4e4e4" filter="url(#blur03)"/>
<circle cx="459.04" cy="303.73" r="0.88" fill="#e4e4e4" filter="url(#blur03)"/>
<circle cx="462.74" cy="302.74" r="1.06" fill="#e4e4e4" filter="url(#blur03)"/>
<circle cx="465.51" cy="303.26" r="0.91" fill="#e4e4e4" filter="url(#blur03)"/>
<line x1="460.12" y1="302.3" x2="460.12" y2="307.3" stroke="#f0f0f0" stroke-width="1.3"/>
<circle cx="465.43" cy="289.60" r="0.70" fill="#c8c8c8" opacity="0.85" filter="url(#blur03)"/>
<circle cx="462.66" cy="292.34" r="0.51" fill="#c8c8c8" opacity="0.85" filter="url(#blur03)"/>
<circle cx="454.55" cy="299.42" r="0.81" fill="#c8c8c8" opacity="0.85" filter="url(#blur03)"/>
<circle cx="458.30" cy="301.26" r="0.89" fill="#c8c8c8" opacity="0.85" filter="url(#blur03)"/>
<circle cx="456.09" cy="291.17" r="1.03" fill="#c8c8c8" opacity="0.85" filter="url(#blur03)"/>
<circle cx="458.88" cy="296.65" r="0.72" fill="#c8c8c8" opacity="0.85" filter="url(#blur03)"/>
<path d="M476.74,274.12 C472.80,275.53 470.60,280.82 470.60,289.65 C470.34,298.48 471.48,305.54 474.99,306.24 L482.88,306.24 C486.39,305.54 487.53,298.48 487.27,289.65 C487.27,280.82 485.07,275.53 481.13,274.12 Z" fill="#4c4c4c" stroke="#262626" stroke-width="1.9" filter="url(#blur07)"/>
<ellipse cx="478.94" cy="279.77" rx="5.26" ry="5.65" fill="#363636" filter="url(#blur1)"/>
<ellipse cx="479.15" cy="297.42" rx="5.26" ry="5.30" fill="#6c6c6c" filter="url(#blur15)"/>
<ellipse cx="473.67" cy="283.28" rx="1.8" ry="1.1" fill="#b0b0b0" filter="url(#blur05)"/>
<ellipse cx="484.20" cy="282.39" rx="1.8" ry="1.1" fill="#b0b0b0" filter="url(#blur05)"/>
<line x1="478.94" y1="272.0" x2="478.94" y2="276.0" stroke="#dcdcdc" stroke-width="1.8" filter="url(#blur05)"/>
<circle cx="474.04" cy="302.06" r="0.86" fill="#e4e4e4" filter="url(#blur03)"/>
<circle cx="476.78" cy="302.81" r="1.28" fill="#e4e4e4" filter="url(#blur03)"/>
<circle cx="480.14" cy="303.75" r="1.24" fill="#e4e4e4" filter="url(#blur03)"/>
<circle cx="484.27" cy="304.94" r="1.15" fill="#e4e4e4" filter="url(#blur03)"/>
<line x1="478.94" y1="302.3" x2="478.94" y2="307.3" stroke="#f0f0f0" stroke-width="1.3"/>
<circle cx="482.28" cy="290.16" r="0.68" fill="#c8c8c8" opacity="0.85" filter="url(#blur03)"/>
<circle cx="483.85" cy="293.95" r="0.96" fill="#c8c8c8" opacity="0.85" filter="url(#blur03)"/>
<circle cx="480.73" cy="303.51" r="0.83" fill="#c8c8c8" opacity="0.85" filter="url(#blur03)"/>
<circle cx="485.08" cy="301.04" r="0.92" fill="#c8c8c8" opacity="0.85" filter="url(#blur03)"/>
<circle cx="485.04" cy="298.63" r="0.77" fill="#c8c8c8" opacity="0.85" filter="url(#blur03)"/>
<circle cx="483.19" cy="299.14" r="0.84" fill="#c8c8c8" opacity="0.85" filter="url(#blur03)"/>
</g>
<rect x="399.3" y="272.0" width="87.69999999999999" height="35.30000000000001" fill="#808080" filter="url(#noise)" opacity="0.55" style="mix-blend-mode:overlay"/>
</g>
<clipPath id="cd10"><rect x="306.2" y="311.6" width="35.900000000000034" height="35.39999999999998"/></clipPath>
<g clip-path="url(#cd10)">
<rect x="306.2" y="311.6" width="35.900000000000034" height="35.39999999999998" fill="#575757"/>
<g filter="url(#wobble)">
<path d="M312.58,313.72 C308.54,315.14 306.30,320.45 306.30,329.30 C306.03,338.15 307.19,345.23 310.78,345.94 L318.86,345.94 C322.45,345.23 323.62,338.15 323.35,329.30 C323.35,320.45 321.11,315.14 317.07,313.72 Z" fill="#4c4c4c" stroke="#262626" stroke-width="1.9" filter="url(#blur07)"/>
<ellipse cx="314.82" cy="319.39" rx="5.39" ry="5.66" fill="#363636" filter="url(#blur1)"/>
<ellipse cx="314.83" cy="337.09" rx="5.39" ry="5.31" fill="#6c6c6c" filter="url(#blur15)"/>
<ellipse cx="309.44" cy="322.36" rx="1.8" ry="1.1" fill="#b0b0b0" filter="url(#blur05)"/>
<ellipse cx="320.21" cy="322.14" rx="1.8" ry="1.1" fill="#b0b0b0" filter="url(#blur05)"/>
<line x1="314.82" y1="311.6" x2="314.82" y2="315.6" stroke="#dcdcdc" stroke-width="1.8" filter="url(#blur05)"/>
<circle cx="309.61" cy="343.21" r="1.06" fill="#e4e4e4" filter="url(#blur03)"/>
<circle cx="312.43" cy="341.89" r="0.93" fill="#e4e4e4" filter="url(#blur03)"/>
<circle cx="317.18" cy="341.59" r="0.98" fill="#e4e4e4" filter="url(#blur03)"/>
<circle cx="320.05" cy="343.44" r="1.02" fill="#e4e4e4" filter="url(#blur03)"/>
<line x1="314.82" y1="342.0" x2="314.82" y2="347.0" stroke="#f0f0f0" stroke-width="1.3"/>
<circle cx="319.67" cy="342.46" r="0.84" fill="#c8c8c8" opacity="0.85" filter="url(#blur03)"/>
<circle cx="310.76" cy="341.47" r="1.01" fill="#c8c8c8" opacity="0.85" filter="url(#blur03)"/>
<circle cx="314.34" cy="340.24" r="1.03" fill="#c8c8c8" opacity="0.85" filter="url(#blur03)"/>
<circle cx="320.97" cy="331.18" r="0.63" fill="#c8c8c8" opacity="0.85" filter="url(#blur03)"/>
<circle cx="318.95" cy="331.85" r="0.66" fill="#c8c8c8" opacity="0.85" filter="url(#blur03)"/>
<circle cx="308.67" cy="339.67" r="0.64" fill="#c8c8c8" opacity="0.85" filter="url(#blur03)"/>
<path d="M330.35,313.72 C326.31,315.14 324.07,320.45 324.07,329.30 C323.80,338.15 324.97,345.23 328.56,345.94 L336.64,345.94 C340.23,345.23 341.39,338.15 341.12,329.30 C341.12,320.45 338.88,315.14 334.84,313.72 Z" fill="#4c4c4c" stroke="#262626" stroke-width="1.9" filter="url(#blur07)"/>
<ellipse cx="332.60" cy="319.39" rx="5.39" ry="5.66" fill="#363636" filter="url(#blur1)"/>
<ellipse cx="332.82" cy="337.09" rx="5.39" ry="5.31" fill="#6c6c6c" filter="url(#blur15)"/>
<ellipse cx="327.21" cy="321.34" rx="1.8" ry="1.1" fill="#b0b0b0" filter="url(#blur05)"/>
<ellipse cx="337.98" cy="322.82" rx="1.8" ry="1.1" fill="#b0b0b0" filter="url(#blur05)"/>
<line x1="332.60" y1="311.6" x2="332.60" y2="315.6" stroke="#dcdcdc" stroke-width="1.8" filter="url(#blur05)"/>
<circle cx="326.38" cy="344.90" r="0.87" fill="#e4e4e4" filter="url(#blur03)"/>
<circle cx="330.09" cy="343.12" r="1.18" fill="#e4e4e4" filter="url(#blur03)"/>
<circle cx="334.37" cy="343.98" r="0.92" fill="#e4e4e4" filter="url(#blur03)"/>
<circle cx="338.70" cy="342.21" r="1.01" fill="#e4e4e4" filter="url(#blur03)"/>
<line x1="332.60" y1="342.0" x2="332.60" y2="347.0" stroke="#f0f0f0" stroke-width="1.3"/>
<circle cx="336.73" cy="333.79" r="0.54" fill="#c8c8c8" opacity="0.85" filter="url(#blur03)"/>
<circle cx="335.58" cy="328.96" r="0.75" fill="#c8c8c8" opacity="0.85" filter="url(#blur03)"/>
<circle cx="330.46" cy="335.33" r="0.58" fill="#c8c8c8" opacity="0.85" filter="url(#blur03)"/>
<circle cx="338.38" cy="340.48" r="0.83" fill="#c8c8c8" opacity="0.85" filter="url(#blur03)"/>
<circle cx="329.87" cy="333.68" r="0.66" fill="#c8c8c8" opacity="0.85" filter="url(#blur03)"/>
<circle cx="331.34" cy="335.31" r="0.95" fill="#c8c8c8" opacity="0.85" filter="url(#blur03)"/>
</g>
<rect x="306.2" y="311.6" width="35.900000000000034" height="35.39999999999998" fill="#808080" filter="url(#noise)" opacity="0.55" style="mix-blend-mode:overlay"/>
</g>
<clipPath id="cd11"><rect x="359.2" y="311.6" width="35.80000000000001" height="35.39999999999998"/></clipPath>
<g clip-path="url(#cd11)">
<rect x="359.2" y="311.6" width="35.80000000000001" height="35.39999999999998" fill="#575757"/>
<g filter="url(#wobble)">
<path d="M365.55,313.72 C361.52,315.14 359.28,320.45 359.28,329.30 C359.01,338.15 360.18,345.23 363.76,345.94 L371.81,345.94 C375.39,345.23 376.56,338.15 376.29,329.30 C376.29,320.45 374.05,315.14 370.02,313.72 Z" fill="#4c4c4c" stroke="#262626" stroke-width="1.9" filter="url(#blur07)"/>
<ellipse cx="367.78" cy="319.39" rx="5.37" ry="5.66" fill="#363636" filter="url(#blur1)"/>
<ellipse cx="367.87" cy="337.09" rx="5.37" ry="5.31" fill="#6c6c6c" filter="url(#blur15)"/>
<ellipse cx="362.41" cy="322.66" rx="1.8" ry="1.1" fill="#b0b0b0" filter="url(#blur05)"/>
<ellipse cx="373.15" cy="323.19" rx="1.8" ry="1.1" fill="#b0b0b0" filter="url(#blur05)"/>
<line x1="367.78" y1="311.6" x2="367.78" y2="315.6" stroke="#dcdcdc" stroke-width="1.8" filter="url(#blur05)"/>
<circle cx="362.15" cy="343.36" r="0.99" fill="#e4e4e4" filter="url(#blur03)"/>
<circle cx="366.09" cy="344.45" r="1.30" fill="#e4e4e4" filter="url(#blur03)"/>
<circle cx="370.43" cy="344.78" r="0.83" fill="#e4e4e4" filter="url(#blur03)"/>
<circle cx="372.64" cy="344.81" r="1.08" fill="#e4e4e4" filter="url(#blur03)"/>
<line x1="367.78" y1="342.0" x2="367.78" y2="347.0" stroke="#f0f0f0" stroke-width="1.3"/>
<circle cx="362.95" cy="337.43" r="1.06" fill="#c8c8c8" opacity="0.85" filter="url(#blur03)"/>
<circle cx="364.13" cy="333.16" r="0.60" fill="#c8c8c8" opacity="0.85" filter="url(#blur03)"/>
<circle cx="374.27" cy="330.78" r="0.66" fill="#c8c8c8" opacity="0.85" filter="url(#blur03)"/>
<circle cx="362.06" cy="329.15" r="0.51" fill="#c8c8c8" opacity="0.85" filter="url(#blur03)"/>
<circle cx="361.04" cy="335.93" r="0.68" fill="#c8c8c8" opacity="0.85" filter="url(#blur03)"/>
<circle cx="365.99" cy="336.76" r="0.69" fill="#c8c8c8" opacity="0.85" filter="url(#blur03)"/>
<path d="M384.20,313.72 C380.17,315.14 377.93,320.45 377.93,329.30 C377.67,338.15 378.83,345.23 382.41,345.94 L390.46,345.94 C394.04,345.23 395.21,338.15 394.94,329.30 C394.94,320.45 392.70,315.14 388.67,313.72 Z" fill="#4c4c4c" stroke="#262626" stroke-width="1.9" filter="url(#blur07)"/>
<ellipse cx="386.44" cy="319.39" rx="5.37" ry="5.66" fill="#363636" filter="url(#blur1)"/>
<ellipse cx="385.92" cy="337.09" rx="5.37" ry="5.31" fill="#6c6c6c" filter="url(#blur15)"/>
<ellipse cx="381.07" cy="322.21" rx="1.8" ry="1.1" fill="#b0b0b0" filter="url(#blur05)"/>
<ellipse cx="391.81" cy="321.94" rx="1.8" ry="1.1" fill="#b0b0b0" filter="url(#blur05)"/>
<line x1="386.44" y1="311.6" x2="386.44" y2="315.6" stroke="#dcdcdc" stroke-width="1.8" filter="url(#blur05)"/>
<circle cx="381.55" cy="343.08" r="0.94" fill="#e4e4e4" filter="url(#blur03)"/>
<circle cx="385.51" cy="344.23" r="0.97" fill="#e4e4e4" filter="url(#blur03)"/>
<circle cx="388.58" cy="343.26" r="0.82" fill="#e4e4e4" filter="url(#blur03)"/>
<circle cx="391.23" cy="343.80" r="0.81" fill="#e4e4e4" filter="url(#blur03)"/>
<line x1="386.44" y1="342.0" x2="386.44" y2="347.0" stroke="#f0f0f0" stroke-width="1.3"/>
<circle cx="380.16" cy="331.79" r="0.79" fill="#c8c8c8" opacity="0.85" filter="url(#blur03)"/>
<circle cx="379.67" cy="343.12" r="1.09" fill="#c8c8c8" opacity="0.85" filter="url(#blur03)"/>
<circle cx="390.21" cy="341.15" r="1.05" fill="#c8c8c8" opacity="0.85" filter="url(#blur03)"/>
<circle cx="391.15" cy="334.21" r="0.59" fill="#c8c8c8" opacity="0.85" filter="url(#blur03)"/>
<circle cx="385.58" cy="337.81" r="1.00" fill="#c8c8c8" opacity="0.85" filter="url(#blur03)"/>
<circle cx="389.98" cy="328.69" r="0.59" fill="#c8c8c8" opacity="0.85" filter="url(#blur03)"/>
</g>
<rect x="359.2" y="311.6" width="35.80000000000001" height="35.39999999999998" fill="#808080" filter="url(#noise)" opacity="0.55" style="mix-blend-mode:overlay"/>
</g>
<clipPath id="cd12"><rect x="399.3" y="311.4" width="87.69999999999999" height="35.60000000000002"/></clipPath>
<g clip-path="url(#cd12)">
<rect x="399.3" y="311.4" width="87.69999999999999" height="35.60000000000002" fill="#575757"/>
<g filter="url(#wobble)">
<path d="M405.31,313.54 C401.36,314.96 399.17,320.30 399.17,329.20 C398.91,338.10 400.05,345.22 403.56,345.93 L411.45,345.93 C414.96,345.22 416.10,338.10 415.84,329.20 C415.84,320.30 413.64,314.96 409.70,313.54 Z" fill="#4c4c4c" stroke="#262626" stroke-width="1.9" filter="url(#blur07)"/>
<ellipse cx="407.50" cy="319.23" rx="5.26" ry="5.70" fill="#363636" filter="url(#blur1)"/>
<ellipse cx="406.88" cy="337.03" rx="5.26" ry="5.34" fill="#6c6c6c" filter="url(#blur15)"/>
<ellipse cx="402.24" cy="322.80" rx="1.8" ry="1.1" fill="#b0b0b0" filter="url(#blur05)"/>
<ellipse cx="412.77" cy="322.17" rx="1.8" ry="1.1" fill="#b0b0b0" filter="url(#blur05)"/>
<line x1="407.50" y1="311.4" x2="407.50" y2="315.4" stroke="#dcdcdc" stroke-width="1.8" filter="url(#blur05)"/>
<circle cx="401.80" cy="342.67" r="1.07" fill="#e4e4e4" filter="url(#blur03)"/>
<circle cx="405.41" cy="343.98" r="0.86" fill="#e4e4e4" filter="url(#blur03)"/>
<circle cx="408.98" cy="342.47" r="1.18" fill="#e4e4e4" filter="url(#blur03)"/>
<circle cx="413.44" cy="343.30" r="1.25" fill="#e4e4e4" filter="url(#blur03)"/>
<line x1="407.50" y1="342.0" x2="407.50" y2="347.0" stroke="#f0f0f0" stroke-width="1.3"/>
<circle cx="401.77" cy="338.22" r="0.65" fill="#c8c8c8" opacity="0.85" filter="url(#blur03)"/>
<circle cx="403.34" cy="336.33" r="0.55" fill="#c8c8c8" opacity="0.85" filter="url(#blur03)"/>
<circle cx="401.22" cy="331.89" r="0.86" fill="#c8c8c8" opacity="0.85" filter="url(#blur03)"/>
<circle cx="409.55" cy="340.44" r="0.69" fill="#c8c8c8" opacity="0.85" filter="url(#blur03)"/>
<circle cx="409.54" cy="343.05" r="1.07" fill="#c8c8c8" opacity="0.85" filter="url(#blur03)"/>
<circle cx="403.60" cy="332.98" r="0.62" fill="#c8c8c8" opacity="0.85" filter="url(#blur03)"/>
<path d="M423.57,313.54 C419.62,314.96 417.43,320.30 417.43,329.20 C417.17,338.10 418.31,345.22 421.82,345.93 L429.71,345.93 C433.22,345.22 434.36,338.10 434.09,329.20 C434.09,320.30 431.90,314.96 427.96,313.54 Z" fill="#4c4c4c" stroke="#262626" stroke-width="1.9" filter="url(#blur07)"/>
<ellipse cx="425.76" cy="319.23" rx="5.26" ry="5.70" fill="#363636" filter="url(#blur1)"/>
<ellipse cx="425.72" cy="337.03" rx="5.26" ry="5.34" fill="#6c6c6c" filter="url(#blur15)"/>
<ellipse cx="420.50" cy="322.24" rx="1.8" ry="1.1" fill="#b0b0b0" filter="url(#blur05)"/>
<ellipse cx="431.02" cy="321.64" rx="1.8" ry="1.1" fill="#b0b0b0" filter="url(#blur05)"/>
<line x1="425.76" y1="311.4" x2="425.76" y2="315.4" stroke="#dcdcdc" stroke-width="1.8" filter="url(#blur05)"/>
<circle cx="421.36" cy="341.87" r="1.30" fill="#e4e4e4" filter="url(#blur03)"/>
<circle cx="424.68" cy="344.14" r="1.11" fill="#e4e4e4" filter="url(#blur03)"/>
<circle cx="428.44" cy="343.16" r="1.28" fill="#e4e4e4" filter="url(#blur03)"/>
<circle cx="431.91" cy="341.71" r="1.07" fill="#e4e4e4" filter="url(#blur03)"/>
<line x1="425.76" y1="342.0" x2="425.76" y2="347.0" stroke="#f0f0f0" stroke-width="1.3"/>
<circle cx="420.64" cy="338.84" r="0.54" fill="#c8c8c8" opacity="0.85" filter="url(#blur03)"/>
<circle cx="431.64" cy="330.61" r="0.76" fill="#c8c8c8" opacity="0.85" filter="url(#blur03)"/>
<circle cx="419.34" cy="336.30" r="0.96" fill="#c8c8c8" opacity="0.85" filter="url(#blur03)"/>
<circle cx="431.09" cy="329.47" r="0.67" fill="#c8c8c8" opacity="0.85" filter="url(#blur03)"/>
<circle cx="424.29" cy="331.17" r="0.64" fill="#c8c8c8" opacity="0.85" filter="url(#blur03)"/>
<circle cx="423.75" cy="337.90" r="0.62" fill="#c8c8c8" opacity="0.85" filter="url(#blur03)"/>
<path d="M441.72,313.54 C437.77,314.96 435.58,320.30 435.58,329.20 C435.32,338.10 436.46,345.22 439.97,345.93 L447.86,345.93 C451.37,345.22 452.51,338.10 452.24,329.20 C452.24,320.30 450.05,314.96 446.10,313.54 Z" fill="#4c4c4c" stroke="#262626" stroke-width="1.9" filter="url(#blur07)"/>
<ellipse cx="443.91" cy="319.23" rx="5.26" ry="5.70" fill="#363636" filter="url(#blur1)"/>
<ellipse cx="443.00" cy="337.03" rx="5.26" ry="5.34" fill="#6c6c6c" filter="url(#blur15)"/>
<ellipse cx="438.65" cy="321.64" rx="1.8" ry="1.1" fill="#b0b0b0" filter="url(#blur05)"/>
<ellipse cx="449.17" cy="322.47" rx="1.8" ry="1.1" fill="#b0b0b0" filter="url(#blur05)"/>
<line x1="443.91" y1="311.4" x2="443.91" y2="315.4" stroke="#dcdcdc" stroke-width="1.8" filter="url(#blur05)"/>
<circle cx="438.09" cy="343.39" r="1.01" fill="#e4e4e4" filter="url(#blur03)"/>
<circle cx="441.77" cy="342.95" r="0.92" fill="#e4e4e4" filter="url(#blur03)"/>
<circle cx="445.89" cy="342.65" r="0.82" fill="#e4e4e4" filter="url(#blur03)"/>
<circle cx="449.70" cy="342.23" r="0.98" fill="#e4e4e4" filter="url(#blur03)"/>
<line x1="443.91" y1="342.0" x2="443.91" y2="347.0" stroke="#f0f0f0" stroke-width="1.3"/>
<circle cx="437.65" cy="337.01" r="0.51" fill="#c8c8c8" opacity="0.85" filter="url(#blur03)"/>
<circle cx="444.18" cy="341.81" r="0.52" fill="#c8c8c8" opacity="0.85" filter="url(#blur03)"/>
<circle cx="439.99" cy="340.08" r="0.63" fill="#c8c8c8" opacity="0.85" filter="url(#blur03)"/>
<circle cx="449.54" cy="336.66" r="0.72" fill="#c8c8c8" opacity="0.85" filter="url(#blur03)"/>
<circle cx="441.65" cy="330.41" r="0.99" fill="#c8c8c8" opacity="0.85" filter="url(#blur03)"/>
<circle cx="441.57" cy="330.11" r="0.62" fill="#c8c8c8" opacity="0.85" filter="url(#blur03)"/>
<path d="M458.37,313.54 C454.43,314.96 452.24,320.30 452.24,329.20 C451.97,338.10 453.11,345.22 456.62,345.93 L464.51,345.93 C468.02,345.22 469.16,338.10 468.90,329.20 C468.90,320.30 466.71,314.96 462.76,313.54 Z" fill="#4c4c4c" stroke="#262626" stroke-width="1.9" filter="url(#blur07)"/>
<ellipse cx="460.57" cy="319.23" rx="5.26" ry="5.70" fill="#363636" filter="url(#blur1)"/>
<ellipse cx="460.16" cy="337.03" rx="5.26" ry="5.34" fill="#6c6c6c" filter="url(#blur15)"/>
<ellipse cx="455.31" cy="321.76" rx="1.8" ry="1.1" fill="#b0b0b0" filter="url(#blur05)"/>
<ellipse cx="465.83" cy="322.64" rx="1.8" ry="1.1" fill="#b0b0b0" filter="url(#blur05)"/>
<line x1="460.57" y1="311.4" x2="460.57" y2="315.4" stroke="#dcdcdc" stroke-width="1.8" filter="url(#blur05)"/>
<circle cx="455.25" cy="344.12" r="0.94" fill="#e4e4e4" filter="url(#blur03)"/>
<circle cx="459.53" cy="343.85" r="1.10" fill="#e4e4e4" filter="url(#blur03)"/>
<circle cx="462.31" cy="344.11" r="0.89" fill="#e4e4e4" filter="url(#blur03)"/>
<circle cx="465.39" cy="343.45" r="0.83" fill="#e4e4e4" filter="url(#blur03)"/>
<line x1="460.57" y1="342.0" x2="460.57" y2="347.0" stroke="#f0f0f0" stroke-width="1.3"/>
<circle cx="461.65" cy="334.32" r="0.56" fill="#c8c8c8" opacity="0.85" filter="url(#blur03)"/>
<circle cx="457.61" cy="328.74" r="0.55" fill="#c8c8c8" opacity="0.85" filter="url(#blur03)"/>
<circle cx="463.55" cy="332.19" r="0.51" fill="#c8c8c8" opacity="0.85" filter="url(#blur03)"/>
<circle cx="455.49" cy="331.31" r="1.05" fill="#c8c8c8" opacity="0.85" filter="url(#blur03)"/>
<circle cx="466.66" cy="328.97" r="0.91" fill="#c8c8c8" opacity="0.85" filter="url(#blur03)"/>
<circle cx="466.18" cy="327.70" r="0.68" fill="#c8c8c8" opacity="0.85" filter="url(#blur03)"/>
<path d="M475.54,313.54 C471.59,314.96 469.40,320.30 469.40,329.20 C469.13,338.10 470.27,345.22 473.78,345.93 L481.67,345.93 C485.18,345.22 486.32,338.10 486.06,329.20 C486.06,320.30 483.87,314.96 479.92,313.54 Z" fill="#4c4c4c" stroke="#262626" stroke-width="1.9" filter="url(#blur07)"/>
<ellipse cx="477.73" cy="319.23" rx="5.26" ry="5.70" fill="#363636" filter="url(#blur1)"/>
<ellipse cx="477.98" cy="337.03" rx="5.26" ry="5.34" fill="#6c6c6c" filter="url(#blur15)"/>
<ellipse cx="472.47" cy="322.39" rx="1.8" ry="1.1" fill="#b0b0b0" filter="url(#blur05)"/>
<ellipse cx="482.99" cy="321.94" rx="1.8" ry="1.1" fill="#b0b0b0" filter="url(#blur05)"/>
<line x1="477.73" y1="311.4" x2="477.73" y2="315.4" stroke="#dcdcdc" stroke-width="1.8" filter="url(#blur05)"/>
<circle cx="472.58" cy="342.72" r="1.23" fill="#e4e4e4" filter="url(#blur03)"/>
<circle cx="476.35" cy="343.90" r="1.01" fill="#e4e4e4" filter="url(#blur03)"/>
<circle cx="480.04" cy="344.16" r="1.07" fill="#e4e4e4" filter="url(#blur03)"/>
<circle cx="483.97" cy="341.58" r="0.93" fill="#e4e4e4" filter="url(#blur03)"/>
<line x1="477.73" y1="342.0" x2="477.73" y2="347.0" stroke="#f0f0f0" stroke-width="1.3"/>
<circle cx="473.49" cy="328.02" r="0.90" fill="#c8c8c8" opacity="0.85" filter="url(#blur03)"/>
<circle cx="474.35" cy="329.26" r="0.61" fill="#c8c8c8" opacity="0.85" filter="url(#blur03)"/>
<circle cx="476.58" cy="337.80" r="0.98" fill="#c8c8c8" opacity="0.85" filter="url(#blur03)"/>
<circle cx="473.87" cy="339.76" r="0.96" fill="#c8c8c8" opacity="0.85" filter="url(#blur03)"/>
<circle cx="475.40" cy="336.24" r="0.63" fill="#c8c8c8" opacity="0.85" filter="url(#blur03)"/>
<circle cx="474.55" cy="327.66" r="0.79" fill="#c8c8c8" opacity="0.85" filter="url(#blur03)"/>
</g>
<rect x="399.3" y="311.4" width="87.69999999999999" height="35.60000000000002" fill="#808080" filter="url(#noise)" opacity="0.55" style="mix-blend-mode:overlay"/>
</g>
<path d="M235.5,245.79999999999998 L245.10000000000002,255.4 M245.10000000000002,245.79999999999998 L235.5,255.4" stroke="#111" stroke-width="1.1" fill="none"/>
<path d="M288.4,245.79999999999998 L298.0,255.4 M298.0,245.79999999999998 L288.4,255.4" stroke="#111" stroke-width="1.1" fill="none"/>
<path d="M251.3,284.8 L260.90000000000003,294.40000000000003 M260.90000000000003,284.8 L251.3,294.40000000000003" stroke="#111" stroke-width="1.1" fill="none"/>
<path d="M268.7,284.8 L278.3,294.40000000000003 M278.3,284.8 L268.7,294.40000000000003" stroke="#111" stroke-width="1.1" fill="none"/>
<path d="M346.09999999999997,285.09999999999997 L355.7,294.7 M355.7,285.09999999999997 L346.09999999999997,294.7" stroke="#111" stroke-width="1.1" fill="none"/>
<text x="490" y="217.0" font-size="7.6" text-anchor="start" font-weight="normal" fill="#111" >Day 10</text>
<text x="490" y="254.0" font-size="7.6" text-anchor="start" font-weight="normal" fill="#111" >Day 14</text>
<text x="490" y="292.7" font-size="7.6" text-anchor="start" font-weight="normal" fill="#111" >Day 25</text>
<text x="490" y="329.8" font-size="7.6" text-anchor="start" font-weight="normal" fill="#111" >Day 45</text>
<defs><linearGradient id="cbar" x1="0" x2="1" y1="0" y2="0"><stop offset="0" stop-color="#1a00c8"/><stop offset="0.12" stop-color="#0000ff"/><stop offset="0.3" stop-color="#00a0ff"/><stop offset="0.42" stop-color="#00e8e0"/><stop offset="0.55" stop-color="#30f040"/><stop offset="0.7" stop-color="#c8f000"/><stop offset="0.8" stop-color="#ffd000"/><stop offset="0.9" stop-color="#ff6000"/><stop offset="1" stop-color="#f00000"/></linearGradient></defs>
<rect x="351" y="351.3" width="126.8" height="5.4" fill="url(#cbar)"/>
<text x="365.0" y="368.3" font-size="7.4" text-anchor="middle" font-weight="normal" fill="#111" >1.0</text>
<text x="393.2" y="368.3" font-size="7.4" text-anchor="middle" font-weight="normal" fill="#111" >2.0</text>
<text x="421.4" y="368.3" font-size="7.4" text-anchor="middle" font-weight="normal" fill="#111" >3.0</text>
<text x="449.6" y="368.3" font-size="7.4" text-anchor="middle" font-weight="normal" fill="#111" >4.0</text>
<text x="477.8" y="368.3" font-size="7.4" text-anchor="middle" font-weight="normal" fill="#111" >5.0</text>
<line x1="353.80" y1="356.7" x2="353.80" y2="358.6" stroke="#333" stroke-width="0.7"/>
<line x1="359.40" y1="356.7" x2="359.40" y2="358.6" stroke="#333" stroke-width="0.7"/>
<line x1="365.00" y1="356.7" x2="365.00" y2="359.6" stroke="#333" stroke-width="0.7"/>
<line x1="370.60" y1="356.7" x2="370.60" y2="358.6" stroke="#333" stroke-width="0.7"/>
<line x1="376.20" y1="356.7" x2="376.20" y2="358.6" stroke="#333" stroke-width="0.7"/>
<line x1="381.80" y1="356.7" x2="381.80" y2="358.6" stroke="#333" stroke-width="0.7"/>
<line x1="387.40" y1="356.7" x2="387.40" y2="358.6" stroke="#333" stroke-width="0.7"/>
<line x1="393.00" y1="356.7" x2="393.00" y2="359.6" stroke="#333" stroke-width="0.7"/>
<line x1="398.60" y1="356.7" x2="398.60" y2="358.6" stroke="#333" stroke-width="0.7"/>
<line x1="404.20" y1="356.7" x2="404.20" y2="358.6" stroke="#333" stroke-width="0.7"/>
<line x1="409.80" y1="356.7" x2="409.80" y2="358.6" stroke="#333" stroke-width="0.7"/>
<line x1="415.40" y1="356.7" x2="415.40" y2="358.6" stroke="#333" stroke-width="0.7"/>
<line x1="421.00" y1="356.7" x2="421.00" y2="359.6" stroke="#333" stroke-width="0.7"/>
<line x1="426.60" y1="356.7" x2="426.60" y2="358.6" stroke="#333" stroke-width="0.7"/>
<line x1="432.20" y1="356.7" x2="432.20" y2="358.6" stroke="#333" stroke-width="0.7"/>
<line x1="437.80" y1="356.7" x2="437.80" y2="358.6" stroke="#333" stroke-width="0.7"/>
<line x1="443.40" y1="356.7" x2="443.40" y2="358.6" stroke="#333" stroke-width="0.7"/>
<line x1="449.00" y1="356.7" x2="449.00" y2="359.6" stroke="#333" stroke-width="0.7"/>
<line x1="454.60" y1="356.7" x2="454.60" y2="358.6" stroke="#333" stroke-width="0.7"/>
<line x1="460.20" y1="356.7" x2="460.20" y2="358.6" stroke="#333" stroke-width="0.7"/>
<line x1="465.80" y1="356.7" x2="465.80" y2="358.6" stroke="#333" stroke-width="0.7"/>
<line x1="471.40" y1="356.7" x2="471.40" y2="358.6" stroke="#333" stroke-width="0.7"/>
<line x1="477.00" y1="356.7" x2="477.00" y2="359.6" stroke="#333" stroke-width="0.7"/>
<text x="408.3" y="379.3" font-size="9" text-anchor="start" font-weight="normal" fill="#111" textLength="11.9" lengthAdjust="spacingAndGlyphs" >×10</text><text x="420.2" y="376.3" font-size="6.2" text-anchor="start" font-weight="normal" fill="#111" >5</text>
<rect x="302.8" y="351.3" width="27.2" height="50" fill="none" stroke="#222" stroke-width="0.9"/>
<g transform="translate(321.7,355.4) rotate(90)"><text x="0" y="0" font-size="7.2" text-anchor="start" font-weight="normal" fill="#111" textLength="34.6" lengthAdjust="spacingAndGlyphs" >Color scale</text></g>
<g transform="translate(314.0,355.4) rotate(90)"><text x="0" y="0" font-size="7.2" text-anchor="start" font-weight="normal" fill="#111" textLength="41.6" lengthAdjust="spacingAndGlyphs" >Min = 5.00e4</text></g>
<g transform="translate(306.2,355.4) rotate(90)"><text x="0" y="0" font-size="7.2" text-anchor="start" font-weight="normal" fill="#111" textLength="41.6" lengthAdjust="spacingAndGlyphs" >Max = 5.00e5</text></g>
<g transform="translate(341.5,351.6) rotate(90)"><text x="0" y="0" font-size="7.2" text-anchor="start" font-weight="normal" fill="#111" textLength="28.4" lengthAdjust="spacingAndGlyphs" >Radiance</text></g>
<g transform="translate(333.2,351.6) rotate(90)"><text x="0" y="0" font-size="7.2" text-anchor="start" font-weight="normal" fill="#111" >(P/sec/cm<tspan font-size="5" dy="-2.5">2</tspan><tspan dy="2.5">/sr)</tspan></text></g>
<g transform="translate(485.5,351.4) rotate(90)"><text x="0" y="0" font-size="7.2" text-anchor="start" font-weight="normal" fill="#333" style="stroke:none" textLength="43.5" lengthAdjust="spacingAndGlyphs" >Luminescence</text></g>
<text x="7" y="422.1" font-size="11" text-anchor="start" font-weight="bold" fill="#000" >E</text>
<line x1="27.1" y1="426.7" x2="472" y2="426.7" stroke="#555" stroke-width="1.3"/>
<text x="176.5" y="422.6" font-size="9.0" text-anchor="start" font-weight="normal" fill="#111" textLength="152" lengthAdjust="spacingAndGlyphs" >Donor CD45.2<tspan font-size="5.8" dy="-3.2">+</tspan><tspan dy="3.2">CD8</tspan><tspan font-size="5.8" dy="-3.2">+</tspan><tspan dy="3.2"> T cells in spleen</tspan></text>
<rect x="41.10" y="467.79" width="17.80" height="54.31" fill="#e08494" stroke="#d97585" stroke-width="0.6"/>
<rect x="69.30" y="448.37" width="17.80" height="73.73" fill="#87a6c2" stroke="#7898b6" stroke-width="0.6"/>
<line x1="50.00" y1="467.79" x2="50.00" y2="460.05" stroke="#333" stroke-width="1.2"/>
<line x1="45.00" y1="460.05" x2="55.00" y2="460.05" stroke="#333" stroke-width="1.3"/>
<rect x="42.90" y="457.20" width="4.8" height="4.8" fill="#c8102e"/>
<rect x="51.90" y="451.30" width="4.8" height="4.8" fill="#c8102e"/>
<rect x="47.50" y="468.80" width="4.8" height="4.8" fill="#c8102e"/>
<rect x="47.50" y="486.20" width="4.8" height="4.8" fill="#c8102e"/>
<polygon points="73.30,442.80 76.20,447.90 70.40,447.90" fill="#1a5592"/>
<polygon points="78.30,444.50 81.20,449.60 75.40,449.60" fill="#1a5592"/>
<polygon points="83.60,441.50 86.50,446.60 80.70,446.60" fill="#1a5592"/>
<polygon points="73.30,454.60 76.20,459.70 70.40,459.70" fill="#1a5592"/>
<polygon points="83.60,449.90 86.50,455.00 80.70,455.00" fill="#1a5592"/>
<line x1="35.4" y1="432.5" x2="35.4" y2="522.1" stroke="#222" stroke-width="1.3"/>
<line x1="35.4" y1="522.1" x2="92.0" y2="522.1" stroke="#222" stroke-width="1.3"/>
<line x1="50.00" y1="522.1" x2="50.00" y2="525.6" stroke="#222" stroke-width="1"/>
<line x1="78.20" y1="522.1" x2="78.20" y2="525.6" stroke="#222" stroke-width="1"/>
<line x1="31.9" y1="522.10" x2="35.4" y2="522.10" stroke="#222" stroke-width="1"/>
<text x="29.4" y="525.0" font-size="8.5" text-anchor="end" font-weight="normal" fill="#222" >0</text>
<line x1="31.9" y1="492.90" x2="35.4" y2="492.90" stroke="#222" stroke-width="1"/>
<text x="29.4" y="495.8" font-size="8.5" text-anchor="end" font-weight="normal" fill="#222" >20</text>
<line x1="31.9" y1="463.70" x2="35.4" y2="463.70" stroke="#222" stroke-width="1"/>
<text x="29.4" y="466.59999999999997" font-size="8.5" text-anchor="end" font-weight="normal" fill="#222" >40</text>
<line x1="31.9" y1="434.50" x2="35.4" y2="434.50" stroke="#222" stroke-width="1"/>
<text x="29.4" y="437.4" font-size="8.5" text-anchor="end" font-weight="normal" fill="#222" >60</text>
<g transform="translate(14.8,477.6) rotate(-90)"><text x="0" y="0" font-size="9.4" text-anchor="middle" font-weight="normal" fill="#111" textLength="24.1" lengthAdjust="spacingAndGlyphs" >% IFN&#947;<tspan font-size="5.5" dy="-3.3">+</tspan></text></g>
<rect x="141.10" y="472.61" width="17.80" height="49.49" fill="#e08494" stroke="#d97585" stroke-width="0.6"/>
<rect x="169.30" y="463.41" width="17.80" height="58.69" fill="#87a6c2" stroke="#7898b6" stroke-width="0.6"/>
<line x1="150.00" y1="472.61" x2="150.00" y2="466.25" stroke="#333" stroke-width="1.2"/>
<line x1="145.00" y1="466.25" x2="155.00" y2="466.25" stroke="#333" stroke-width="1.3"/>
<line x1="178.20" y1="463.41" x2="178.20" y2="459.25" stroke="#333" stroke-width="1.2"/>
<line x1="173.20" y1="459.25" x2="183.20" y2="459.25" stroke="#333" stroke-width="1.3"/>
<rect x="147.70" y="451.90" width="4.8" height="4.8" fill="#c8102e"/>
<rect x="142.90" y="475.50" width="4.8" height="4.8" fill="#c8102e"/>
<rect x="147.70" y="478.60" width="4.8" height="4.8" fill="#c8102e"/>
<rect x="152.80" y="475.50" width="4.8" height="4.8" fill="#c8102e"/>
<polygon points="178.30,449.70 181.20,454.80 175.40,454.80" fill="#1a5592"/>
<polygon points="173.30,456.50 176.20,461.60 170.40,461.60" fill="#1a5592"/>
<polygon points="188.00,460.90 190.90,466.00 185.10,466.00" fill="#1a5592"/>
<polygon points="183.60,467.60 186.50,472.70 180.70,472.70" fill="#1a5592"/>
<polygon points="173.30,471.80 176.20,476.90 170.40,476.90" fill="#1a5592"/>
<line x1="135.4" y1="432.5" x2="135.4" y2="522.1" stroke="#222" stroke-width="1.3"/>
<line x1="135.4" y1="522.1" x2="192.0" y2="522.1" stroke="#222" stroke-width="1.3"/>
<line x1="150.00" y1="522.1" x2="150.00" y2="525.6" stroke="#222" stroke-width="1"/>
<line x1="178.20" y1="522.1" x2="178.20" y2="525.6" stroke="#222" stroke-width="1"/>
<line x1="131.9" y1="522.10" x2="135.4" y2="522.10" stroke="#222" stroke-width="1"/>
<text x="129.4" y="525.0" font-size="8.5" text-anchor="end" font-weight="normal" fill="#222" >0</text>
<line x1="131.9" y1="500.20" x2="135.4" y2="500.20" stroke="#222" stroke-width="1"/>
<text x="129.4" y="503.1" font-size="8.5" text-anchor="end" font-weight="normal" fill="#222" >10</text>
<line x1="131.9" y1="478.30" x2="135.4" y2="478.30" stroke="#222" stroke-width="1"/>
<text x="129.4" y="481.2" font-size="8.5" text-anchor="end" font-weight="normal" fill="#222" >20</text>
<line x1="131.9" y1="456.40" x2="135.4" y2="456.40" stroke="#222" stroke-width="1"/>
<text x="129.4" y="459.29999999999995" font-size="8.5" text-anchor="end" font-weight="normal" fill="#222" >30</text>
<line x1="131.9" y1="434.50" x2="135.4" y2="434.50" stroke="#222" stroke-width="1"/>
<text x="129.4" y="437.4" font-size="8.5" text-anchor="end" font-weight="normal" fill="#222" >40</text>
<g transform="translate(115.8,477.6) rotate(-90)"><text x="0" y="0" font-size="9.4" text-anchor="middle" font-weight="normal" fill="#111" textLength="28.2" lengthAdjust="spacingAndGlyphs" >% TNF&#945;<tspan font-size="5.5" dy="-3.3">+</tspan></text></g>
<rect x="242.10" y="470.42" width="17.80" height="51.68" fill="#e08494" stroke="#d97585" stroke-width="0.6"/>
<rect x="270.30" y="481.80" width="17.80" height="40.30" fill="#87a6c2" stroke="#7898b6" stroke-width="0.6"/>
<line x1="251.00" y1="470.42" x2="251.00" y2="456.40" stroke="#333" stroke-width="1.2"/>
<line x1="246.00" y1="456.40" x2="256.00" y2="456.40" stroke="#333" stroke-width="1.3"/>
<line x1="279.20" y1="481.80" x2="279.20" y2="477.13" stroke="#333" stroke-width="1.2"/>
<line x1="274.20" y1="477.13" x2="284.20" y2="477.13" stroke="#333" stroke-width="1.3"/>
<rect x="247.10" y="437.60" width="4.8" height="4.8" fill="#c8102e"/>
<rect x="248.10" y="455.90" width="4.8" height="4.8" fill="#c8102e"/>
<rect x="252.80" y="487.70" width="4.8" height="4.8" fill="#c8102e"/>
<rect x="243.30" y="493.80" width="4.8" height="4.8" fill="#c8102e"/>
<polygon points="274.10,464.50 277.00,469.60 271.20,469.60" fill="#1a5592"/>
<polygon points="283.80,473.30 286.70,478.40 280.90,478.40" fill="#1a5592"/>
<polygon points="274.10,481.30 277.00,486.40 271.20,486.40" fill="#1a5592"/>
<polygon points="283.80,487.20 286.70,492.30 280.90,492.30" fill="#1a5592"/>
<polygon points="278.90,490.20 281.80,495.30 276.00,495.30" fill="#1a5592"/>
<line x1="236.4" y1="432.5" x2="236.4" y2="522.1" stroke="#222" stroke-width="1.3"/>
<line x1="236.4" y1="522.1" x2="293.0" y2="522.1" stroke="#222" stroke-width="1.3"/>
<line x1="251.00" y1="522.1" x2="251.00" y2="525.6" stroke="#222" stroke-width="1"/>
<line x1="279.20" y1="522.1" x2="279.20" y2="525.6" stroke="#222" stroke-width="1"/>
<line x1="232.9" y1="522.10" x2="236.4" y2="522.10" stroke="#222" stroke-width="1"/>
<text x="230.4" y="525.0" font-size="8.5" text-anchor="end" font-weight="normal" fill="#222" >0</text>
<line x1="232.9" y1="492.90" x2="236.4" y2="492.90" stroke="#222" stroke-width="1"/>
<text x="230.4" y="495.8" font-size="8.5" text-anchor="end" font-weight="normal" fill="#222" >10</text>
<line x1="232.9" y1="463.70" x2="236.4" y2="463.70" stroke="#222" stroke-width="1"/>
<text x="230.4" y="466.59999999999997" font-size="8.5" text-anchor="end" font-weight="normal" fill="#222" >20</text>
<line x1="232.9" y1="434.50" x2="236.4" y2="434.50" stroke="#222" stroke-width="1"/>
<text x="230.4" y="437.4" font-size="8.5" text-anchor="end" font-weight="normal" fill="#222" >30</text>
<g transform="translate(215.5,477.4) rotate(-90)"><text x="0" y="0" font-size="9.4" text-anchor="middle" font-weight="normal" fill="#111" textLength="44.5" lengthAdjust="spacingAndGlyphs" >% Granzyme B<tspan font-size="5.5" dy="-3.3">+</tspan></text></g>
<rect x="337.30" y="472.28" width="17.80" height="49.82" fill="#e08494" stroke="#d97585" stroke-width="0.6"/>
<rect x="365.50" y="481.80" width="17.80" height="40.30" fill="#87a6c2" stroke="#7898b6" stroke-width="0.6"/>
<line x1="346.20" y1="472.28" x2="346.20" y2="460.56" stroke="#333" stroke-width="1.2"/>
<line x1="341.20" y1="460.56" x2="351.20" y2="460.56" stroke="#333" stroke-width="1.3"/>
<line x1="374.40" y1="481.80" x2="374.40" y2="477.42" stroke="#333" stroke-width="1.2"/>
<line x1="369.40" y1="477.42" x2="379.40" y2="477.42" stroke="#333" stroke-width="1.3"/>
<rect x="343.50" y="437.60" width="4.8" height="4.8" fill="#c8102e"/>
<rect x="343.50" y="468.80" width="4.8" height="4.8" fill="#c8102e"/>
<rect x="343.50" y="479.30" width="4.8" height="4.8" fill="#c8102e"/>
<rect x="343.50" y="493.00" width="4.8" height="4.8" fill="#c8102e"/>
<polygon points="374.10,467.20 377.00,472.30 371.20,472.30" fill="#1a5592"/>
<polygon points="369.50,475.60 372.40,480.70 366.60,480.70" fill="#1a5592"/>
<polygon points="378.90,477.10 381.80,482.20 376.00,482.20" fill="#1a5592"/>
<polygon points="369.50,487.60 372.40,492.70 366.60,492.70" fill="#1a5592"/>
<polygon points="378.90,486.60 381.80,491.70 376.00,491.70" fill="#1a5592"/>
<line x1="331.6" y1="432.5" x2="331.6" y2="522.1" stroke="#222" stroke-width="1.3"/>
<line x1="331.6" y1="522.1" x2="388.20000000000005" y2="522.1" stroke="#222" stroke-width="1.3"/>
<line x1="346.20" y1="522.1" x2="346.20" y2="525.6" stroke="#222" stroke-width="1"/>
<line x1="374.40" y1="522.1" x2="374.40" y2="525.6" stroke="#222" stroke-width="1"/>
<line x1="328.1" y1="522.10" x2="331.6" y2="522.10" stroke="#222" stroke-width="1"/>
<text x="325.6" y="525.0" font-size="8.5" text-anchor="end" font-weight="normal" fill="#222" >0</text>
<line x1="328.1" y1="500.20" x2="331.6" y2="500.20" stroke="#222" stroke-width="1"/>
<text x="325.6" y="503.1" font-size="8.5" text-anchor="end" font-weight="normal" fill="#222" >2</text>
<line x1="328.1" y1="478.30" x2="331.6" y2="478.30" stroke="#222" stroke-width="1"/>
<text x="325.6" y="481.2" font-size="8.5" text-anchor="end" font-weight="normal" fill="#222" >4</text>
<line x1="328.1" y1="456.40" x2="331.6" y2="456.40" stroke="#222" stroke-width="1"/>
<text x="325.6" y="459.29999999999995" font-size="8.5" text-anchor="end" font-weight="normal" fill="#222" >6</text>
<line x1="328.1" y1="434.50" x2="331.6" y2="434.50" stroke="#222" stroke-width="1"/>
<text x="325.6" y="437.4" font-size="8.5" text-anchor="end" font-weight="normal" fill="#222" >8</text>
<g transform="translate(316.3,477.3) rotate(-90)"><text x="0" y="0" font-size="9.4" text-anchor="middle" font-weight="normal" fill="#111" textLength="33.3" lengthAdjust="spacingAndGlyphs" >% Perforin<tspan font-size="5.5" dy="-3.3">+</tspan></text></g>
<rect x="436.20" y="467.79" width="17.80" height="54.31" fill="#e08494" stroke="#d97585" stroke-width="0.6"/>
<rect x="464.40" y="472.46" width="17.80" height="49.64" fill="#87a6c2" stroke="#7898b6" stroke-width="0.6"/>
<line x1="445.10" y1="467.79" x2="445.10" y2="460.78" stroke="#333" stroke-width="1.2"/>
<line x1="440.10" y1="460.78" x2="450.10" y2="460.78" stroke="#333" stroke-width="1.3"/>
<line x1="473.30" y1="472.46" x2="473.30" y2="468.37" stroke="#333" stroke-width="1.2"/>
<line x1="468.30" y1="468.37" x2="478.30" y2="468.37" stroke="#333" stroke-width="1.3"/>
<rect x="442.40" y="449.60" width="4.8" height="4.8" fill="#c8102e"/>
<rect x="442.40" y="461.80" width="4.8" height="4.8" fill="#c8102e"/>
<rect x="447.10" y="469.80" width="4.8" height="4.8" fill="#c8102e"/>
<rect x="437.60" y="479.10" width="4.8" height="4.8" fill="#c8102e"/>
<polygon points="473.30,455.40 476.20,460.50 470.40,460.50" fill="#1a5592"/>
<polygon points="468.60,467.60 471.50,472.70 465.70,472.70" fill="#1a5592"/>
<polygon points="482.70,470.80 485.60,475.90 479.80,475.90" fill="#1a5592"/>
<polygon points="478.30,475.00 481.20,480.10 475.40,480.10" fill="#1a5592"/>
<polygon points="468.60,480.30 471.50,485.40 465.70,485.40" fill="#1a5592"/>
<line x1="430.5" y1="432.5" x2="430.5" y2="522.1" stroke="#222" stroke-width="1.3"/>
<line x1="430.5" y1="522.1" x2="487.1" y2="522.1" stroke="#222" stroke-width="1.3"/>
<line x1="445.10" y1="522.1" x2="445.10" y2="525.6" stroke="#222" stroke-width="1"/>
<line x1="473.30" y1="522.1" x2="473.30" y2="525.6" stroke="#222" stroke-width="1"/>
<line x1="427.0" y1="522.10" x2="430.5" y2="522.10" stroke="#222" stroke-width="1"/>
<text x="424.5" y="525.0" font-size="8.5" text-anchor="end" font-weight="normal" fill="#222" >0</text>
<line x1="427.0" y1="492.90" x2="430.5" y2="492.90" stroke="#222" stroke-width="1"/>
<text x="424.5" y="495.8" font-size="8.5" text-anchor="end" font-weight="normal" fill="#222" >5</text>
<line x1="427.0" y1="463.70" x2="430.5" y2="463.70" stroke="#222" stroke-width="1"/>
<text x="424.5" y="466.59999999999997" font-size="8.5" text-anchor="end" font-weight="normal" fill="#222" >10</text>
<line x1="427.0" y1="434.50" x2="430.5" y2="434.50" stroke="#222" stroke-width="1"/>
<text x="424.5" y="437.4" font-size="8.5" text-anchor="end" font-weight="normal" fill="#222" >15</text>
<g transform="translate(411.5,477.0) rotate(-90)"><text x="0" y="0" font-size="9.4" text-anchor="middle" font-weight="normal" fill="#111" textLength="32.7" lengthAdjust="spacingAndGlyphs" >% CD107a<tspan font-size="5.5" dy="-3.3">+</tspan></text></g>
<rect x="493.1" y="439.7" width="5.5" height="5.4" fill="#c8102e"/>
<rect x="493.1" y="451.8" width="5.5" height="5.4" fill="#1a5592"/>
<text x="501.7" y="445.2" font-size="7" text-anchor="start" font-weight="normal" fill="#111" >WT</text>
<text x="501.7" y="457.3" font-size="7" text-anchor="start" font-weight="normal" fill="#111" >KO</text>
<rect x="0.6" y="0.6" width="518.8" height="530.8" fill="none" stroke="#000" stroke-width="1.3"/>
</svg>
</body></html>
